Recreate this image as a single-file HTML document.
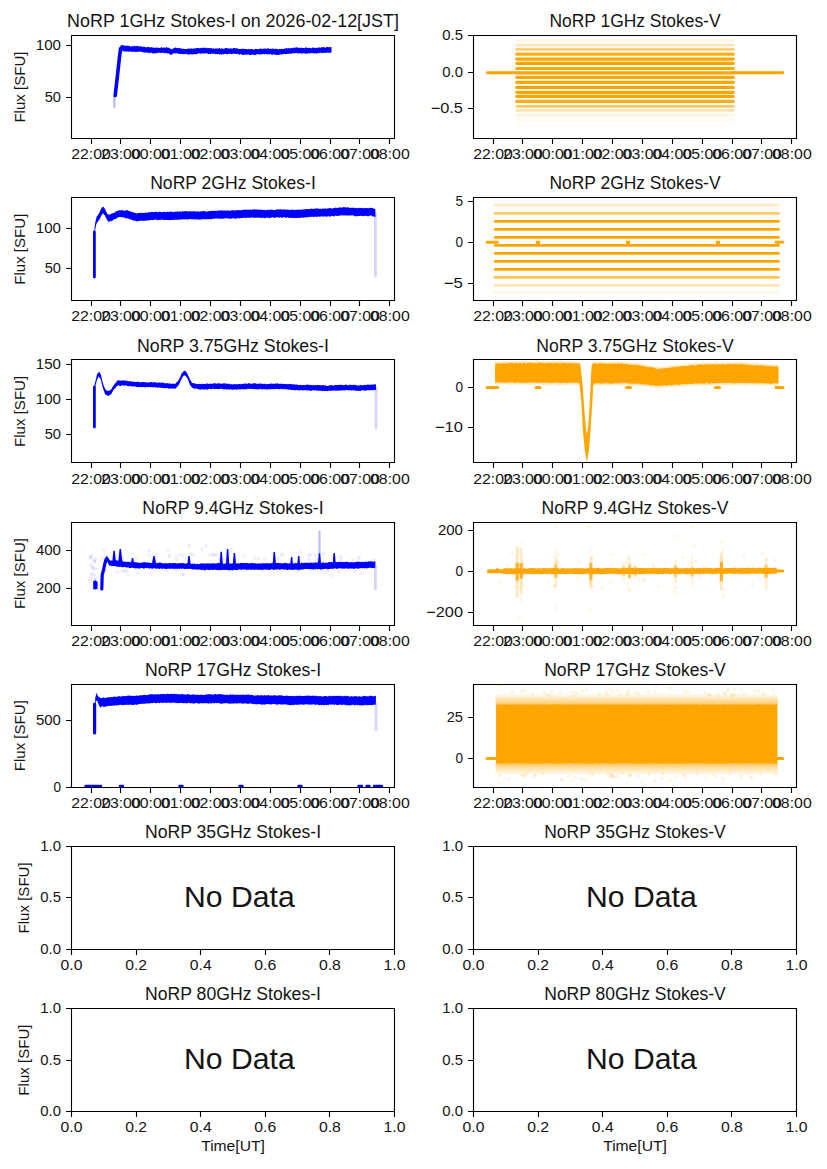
<!DOCTYPE html><html><head><meta charset="utf-8"><title>NoRP</title><style>html,body{margin:0;padding:0;background:#fff;}svg{display:block;}</style></head><body>
<svg width="827" height="1169" viewBox="0 0 827 1169" font-family="'Liberation Sans', sans-serif" fill="#141414">
<rect width="827" height="1169" fill="#fff"/>
<clipPath id="c00"><rect x="71.5" y="35.5" width="323" height="103"/></clipPath>
<g clip-path="url(#c00)">
<path d="M114.4 96 L114.4 107" fill="none" stroke="#7070ff" stroke-width="2.2" stroke-linejoin="round" stroke-linecap="round" opacity="0.5" />
<path d="M115.2 95.5 L116.5 84 L117.2 78 L118.5 66 L119.5 57 L120.6 48.5" fill="none" stroke="#0000ff" stroke-width="3.6" stroke-linejoin="round" stroke-linecap="round" opacity="1" />
<path d="M120.5 45.42 L121.3 45 L122.1 45.31 L122.9 45.06 L123.7 45.45 L124.5 45.64 L125.3 45.78 L126.1 45.82 L126.9 45.67 L127.7 45.49 L128.5 45.93 L129.3 45.7 L130.1 46.47 L130.9 46.51 L131.7 46.5 L132.5 45.78 L133.3 46.4 L134.1 45.9 L134.9 45.68 L135.7 46.35 L136.5 46.19 L137.3 45.62 L138.1 46.48 L138.9 46.16 L139.7 46.53 L140.5 46.06 L141.3 46.3 L142.1 46.9 L142.9 46.38 L143.7 47.02 L144.5 46.39 L145.3 47.16 L146.1 47.29 L146.9 47.13 L147.7 47.05 L148.5 46.73 L149.3 47.47 L150.1 47.11 L150.9 47.66 L151.7 47.12 L152.5 47.78 L153.3 47.27 L154.1 47.86 L154.9 47.9 L155.7 47.54 L156.5 47.45 L157.3 47.75 L158.1 47.49 L158.9 47.9 L159.7 47.95 L160.5 47.7 L161.3 47.27 L162.1 47.55 L162.9 47.72 L163.7 47.83 L164.5 47.36 L165.3 47.93 L166.1 47.21 L166.9 47.35 L167.7 47.71 L168.5 47.85 L169.3 47.77 L170.1 48.63 L170.9 48.78 L171.7 49.32 L172.5 49.05 L173.3 48.42 L174.1 47.72 L174.9 47.98 L175.7 47.28 L176.5 47.97 L177.3 48.05 L178.1 48.29 L178.9 48.28 L179.7 47.66 L180.5 48.48 L181.3 48.51 L182.1 48.9 L182.9 48.51 L183.7 48.85 L184.5 49.11 L185.3 49.08 L186.1 49.18 L186.9 48.96 L187.7 48.71 L188.5 48.57 L189.3 48.62 L190.1 48.95 L190.9 48.28 L191.7 48.47 L192.5 49.07 L193.3 48.14 L194.1 48.21 L194.9 48.73 L195.7 48.28 L196.5 47.9 L197.3 48.04 L198.1 47.87 L198.9 48.26 L199.7 48.3 L200.5 48.3 L201.3 47.83 L202.1 47.77 L202.9 47.91 L203.7 47.62 L204.5 47.93 L205.3 47.81 L206.1 47.76 L206.9 48.47 L207.7 47.86 L208.5 47.9 L209.3 48.19 L210.1 48.26 L210.9 48.02 L211.7 48.2 L212.5 48.74 L213.3 48.19 L214.1 48.41 L214.9 48.95 L215.7 48.37 L216.5 48.39 L217.3 48.57 L218.1 48.62 L218.9 48.2 L219.7 48.11 L220.5 49.06 L221.3 48.24 L222.1 48.59 L222.9 48.81 L223.7 48.78 L224.5 48.82 L225.3 47.97 L226.1 48.07 L226.9 47.97 L227.7 48.6 L228.5 48.32 L229.3 48.78 L230.1 48.32 L230.9 48.62 L231.7 48.45 L232.5 48.77 L233.3 47.95 L234.1 47.88 L234.9 47.94 L235.7 48.51 L236.5 47.93 L237.3 48.62 L238.1 48.76 L238.9 49 L239.7 48.88 L240.5 48.99 L241.3 48.8 L242.1 49 L242.9 48.56 L243.7 48.88 L244.5 48.63 L245.3 48.91 L246.1 48.95 L246.9 48.97 L247.7 49.47 L248.5 48.86 L249.3 49.33 L250.1 49.5 L250.9 48.82 L251.7 49.12 L252.5 49.19 L253.3 49.55 L254.1 49.47 L254.9 49.14 L255.7 48.69 L256.5 49.1 L257.3 49.31 L258.1 49.11 L258.9 49.17 L259.7 48.79 L260.5 48.57 L261.3 48.87 L262.1 48.87 L262.9 49.16 L263.7 48.24 L264.5 48.69 L265.3 48.32 L266.1 48.92 L266.9 48.8 L267.7 48.26 L268.5 48.36 L269.3 49.22 L270.1 48.39 L270.9 48.73 L271.7 48.96 L272.5 48.56 L273.3 48.45 L274.1 49.34 L274.9 48.96 L275.7 48.57 L276.5 48.88 L277.3 49.09 L278.1 49.51 L278.9 49.3 L279.7 48.86 L280.5 49.35 L281.3 48.8 L282.1 49.28 L282.9 48.81 L283.7 48.88 L284.5 48.6 L285.3 48.83 L286.1 48.09 L286.9 48.09 L287.7 48.65 L288.5 47.84 L289.3 48.41 L290.1 48.14 L290.9 48.14 L291.7 47.82 L292.5 48.19 L293.3 48.02 L294.1 47.62 L294.9 47.45 L295.7 47.71 L296.5 47.21 L297.3 47.33 L298.1 47.92 L298.9 47.84 L299.7 47.63 L300.5 47.91 L301.3 47.48 L302.1 48.03 L302.9 47.99 L303.7 48.09 L304.5 48.2 L305.3 47.39 L306.1 47.59 L306.9 47.42 L307.7 48.19 L308.5 47.65 L309.3 47.74 L310.1 48.04 L310.9 48.25 L311.7 48.13 L312.5 47.44 L313.3 47.42 L314.1 48 L314.9 47.5 L315.7 48.23 L316.5 47.87 L317.3 48 L318.1 47.24 L318.9 47.68 L319.7 47.27 L320.5 47.95 L321.3 47.01 L322.1 47.13 L322.9 47.5 L323.7 46.84 L324.5 47.5 L325.3 47.42 L326.1 47.71 L326.9 46.78 L327.7 46.75 L328.5 47.46 L329.3 46.75 L330.1 47.33 L330.9 47.31 L331.5 46.83 L331.5 52.54 L330.9 52.83 L330.1 52.57 L329.3 53.26 L328.5 52.77 L327.7 52.32 L326.9 52.93 L326.1 53.07 L325.3 52.61 L324.5 53.08 L323.7 53.01 L322.9 52.71 L322.1 53.38 L321.3 52.79 L320.5 52.65 L319.7 52.68 L318.9 53.5 L318.1 52.77 L317.3 53.16 L316.5 53.76 L315.7 53.36 L314.9 53.35 L314.1 53.77 L313.3 53.19 L312.5 53.12 L311.7 53.36 L310.9 53.02 L310.1 53.35 L309.3 53.39 L308.5 53.03 L307.7 53.91 L306.9 53.28 L306.1 53.92 L305.3 53.78 L304.5 53.26 L303.7 52.88 L302.9 53.77 L302.1 53.17 L301.3 53.7 L300.5 53.15 L299.7 52.92 L298.9 53.68 L298.1 53.5 L297.3 52.99 L296.5 53.09 L295.7 53.02 L294.9 53.59 L294.1 53.1 L293.3 53.38 L292.5 53.05 L291.7 54.01 L290.9 53.42 L290.1 53.91 L289.3 53.34 L288.5 54.11 L287.7 53.73 L286.9 54.05 L286.1 54.3 L285.3 54.19 L284.5 53.81 L283.7 54.09 L282.9 54.52 L282.1 54.06 L281.3 54.73 L280.5 54.33 L279.7 54.41 L278.9 55.05 L278.1 54.93 L277.3 54.7 L276.5 54.89 L275.7 54.83 L274.9 54.76 L274.1 54.21 L273.3 54.27 L272.5 54.84 L271.7 54.88 L270.9 53.92 L270.1 54.36 L269.3 54.56 L268.5 53.85 L267.7 54.66 L266.9 54.24 L266.1 54.04 L265.3 54 L264.5 54.42 L263.7 53.93 L262.9 54.1 L262.1 54.19 L261.3 54.41 L260.5 54.33 L259.7 54.85 L258.9 54.26 L258.1 54.14 L257.3 54.19 L256.5 54.29 L255.7 55.19 L254.9 54.46 L254.1 55.19 L253.3 54.48 L252.5 54.74 L251.7 54.68 L250.9 54.65 L250.1 55.14 L249.3 54.75 L248.5 54.52 L247.7 54.41 L246.9 54.97 L246.1 54.73 L245.3 54.28 L244.5 54.72 L243.7 55.02 L242.9 54.86 L242.1 54.93 L241.3 54.1 L240.5 54.1 L239.7 54.7 L238.9 54.54 L238.1 53.69 L237.3 54.01 L236.5 54.12 L235.7 53.87 L234.9 53.73 L234.1 54.12 L233.3 53.51 L232.5 54.12 L231.7 54.2 L230.9 53.71 L230.1 53.67 L229.3 53.88 L228.5 53.43 L227.7 54.33 L226.9 54.16 L226.1 54 L225.3 53.66 L224.5 54.08 L223.7 54.17 L222.9 54.56 L222.1 53.91 L221.3 54.63 L220.5 54.14 L219.7 54.63 L218.9 53.89 L218.1 53.81 L217.3 54.15 L216.5 53.96 L215.7 54.33 L214.9 53.88 L214.1 53.59 L213.3 53.84 L212.5 53.74 L211.7 53.52 L210.9 54.01 L210.1 54.02 L209.3 53.67 L208.5 54.21 L207.7 53.39 L206.9 53.41 L206.1 53.35 L205.3 53.13 L204.5 53.57 L203.7 53.76 L202.9 53 L202.1 53.67 L201.3 53.62 L200.5 53.84 L199.7 53.39 L198.9 53.12 L198.1 53.85 L197.3 54.12 L196.5 54.13 L195.7 54.22 L194.9 53.99 L194.1 54.36 L193.3 54.26 L192.5 54.55 L191.7 54.43 L190.9 54.01 L190.1 54.26 L189.3 54.81 L188.5 54.58 L187.7 54.42 L186.9 54.09 L186.1 53.84 L185.3 54.17 L184.5 53.98 L183.7 54.16 L182.9 54.08 L182.1 53.88 L181.3 53.78 L180.5 54.29 L179.7 53.78 L178.9 54.1 L178.1 53.49 L177.3 53.4 L176.5 53.09 L175.7 53.42 L174.9 53.5 L174.1 52.74 L173.3 53.84 L172.5 53.84 L171.7 54.67 L170.9 54.73 L170.1 54.4 L169.3 54.04 L168.5 53.35 L167.7 53.64 L166.9 53.2 L166.1 52.85 L165.3 53.19 L164.5 53.25 L163.7 52.69 L162.9 52.68 L162.1 52.82 L161.3 52.92 L160.5 52.92 L159.7 52.8 L158.9 52.77 L158.1 52.85 L157.3 52.74 L156.5 53.53 L155.7 52.93 L154.9 53.43 L154.1 53.4 L153.3 53.3 L152.5 53.39 L151.7 52.83 L150.9 52.4 L150.1 52.99 L149.3 53.14 L148.5 52.41 L147.7 52.99 L146.9 52.13 L146.1 52.71 L145.3 52.13 L144.5 52.75 L143.7 52.67 L142.9 52.11 L142.1 51.85 L141.3 51.89 L140.5 51.4 L139.7 51.65 L138.9 51.62 L138.1 51.67 L137.3 52.04 L136.5 51.67 L135.7 52.12 L134.9 52.13 L134.1 51.3 L133.3 51.87 L132.5 52.06 L131.7 51.84 L130.9 51.42 L130.1 51.63 L129.3 51.28 L128.5 52.03 L127.7 51.29 L126.9 51.85 L126.1 51.84 L125.3 51.36 L124.5 51.44 L123.7 51.17 L122.9 51.01 L122.1 51.24 L121.3 50.88 L120.5 50.54Z" fill="#0000ff" opacity="1"/>
</g>
<clipPath id="c01"><rect x="473.5" y="35.5" width="323" height="103"/></clipPath>
<g clip-path="url(#c01)">
<path d="M516.8 40.4 L733.2 40.4" fill="none" stroke="#ffa500" stroke-width="2.8" stroke-linejoin="round" stroke-linecap="round" opacity="0.1" stroke-linecap="butt"/>
<path d="M516.8 45.2 L733.2 45.2" fill="none" stroke="#ffa500" stroke-width="2.8" stroke-linejoin="round" stroke-linecap="round" opacity="0.28" stroke-linecap="butt"/>
<path d="M516.8 49.4 L733.2 49.4" fill="none" stroke="#ffa500" stroke-width="2.8" stroke-linejoin="round" stroke-linecap="round" opacity="0.55" stroke-linecap="butt"/>
<path d="M516.8 54.2 L733.2 54.2" fill="none" stroke="#ffa500" stroke-width="3.2" stroke-linejoin="round" stroke-linecap="round" opacity="0.9" stroke-linecap="butt"/>
<path d="M516.8 59.1 L733.2 59.1" fill="none" stroke="#ffa500" stroke-width="3.2" stroke-linejoin="round" stroke-linecap="round" opacity="1" stroke-linecap="butt"/>
<path d="M516.8 63.4 L733.2 63.4" fill="none" stroke="#ffa500" stroke-width="3.2" stroke-linejoin="round" stroke-linecap="round" opacity="1" stroke-linecap="butt"/>
<path d="M516.8 68.5 L733.2 68.5" fill="none" stroke="#ffa500" stroke-width="3.2" stroke-linejoin="round" stroke-linecap="round" opacity="1" stroke-linecap="butt"/>
<path d="M516.8 72.9 L733.2 72.9" fill="none" stroke="#ffa500" stroke-width="3.2" stroke-linejoin="round" stroke-linecap="round" opacity="1" stroke-linecap="butt"/>
<path d="M516.8 77.3 L733.2 77.3" fill="none" stroke="#ffa500" stroke-width="3.2" stroke-linejoin="round" stroke-linecap="round" opacity="1" stroke-linecap="butt"/>
<path d="M516.8 82.3 L733.2 82.3" fill="none" stroke="#ffa500" stroke-width="3.2" stroke-linejoin="round" stroke-linecap="round" opacity="1" stroke-linecap="butt"/>
<path d="M516.8 87.4 L733.2 87.4" fill="none" stroke="#ffa500" stroke-width="3.2" stroke-linejoin="round" stroke-linecap="round" opacity="1" stroke-linecap="butt"/>
<path d="M516.8 92.3 L733.2 92.3" fill="none" stroke="#ffa500" stroke-width="3.2" stroke-linejoin="round" stroke-linecap="round" opacity="1" stroke-linecap="butt"/>
<path d="M516.8 96.4 L733.2 96.4" fill="none" stroke="#ffa500" stroke-width="3.2" stroke-linejoin="round" stroke-linecap="round" opacity="1" stroke-linecap="butt"/>
<path d="M516.8 101.4 L733.2 101.4" fill="none" stroke="#ffa500" stroke-width="3.2" stroke-linejoin="round" stroke-linecap="round" opacity="0.92" stroke-linecap="butt"/>
<path d="M516.8 106.4 L733.2 106.4" fill="none" stroke="#ffa500" stroke-width="2.8" stroke-linejoin="round" stroke-linecap="round" opacity="0.6" stroke-linecap="butt"/>
<path d="M516.8 110.4 L733.2 110.4" fill="none" stroke="#ffa500" stroke-width="2.8" stroke-linejoin="round" stroke-linecap="round" opacity="0.32" stroke-linecap="butt"/>
<path d="M516.8 115.2 L733.2 115.2" fill="none" stroke="#ffa500" stroke-width="2.8" stroke-linejoin="round" stroke-linecap="round" opacity="0.13" stroke-linecap="butt"/>
<path d="M516.8 120.1 L733.2 120.1" fill="none" stroke="#ffa500" stroke-width="2.8" stroke-linejoin="round" stroke-linecap="round" opacity="0.06" stroke-linecap="butt"/>
<path d="M516.8 124.2 L733.2 124.2" fill="none" stroke="#ffa500" stroke-width="2.8" stroke-linejoin="round" stroke-linecap="round" opacity="0.04" stroke-linecap="butt"/>
<path d="M487.3 72.7 L517 72.7" fill="none" stroke="#ffa500" stroke-width="2.9" stroke-linejoin="round" stroke-linecap="round" opacity="1" stroke-linecap="butt"/>
<path d="M733.6 72.7 L782.8 72.7" fill="none" stroke="#ffa500" stroke-width="2.9" stroke-linejoin="round" stroke-linecap="round" opacity="1" stroke-linecap="butt"/>
</g>
<clipPath id="c10"><rect x="71.5" y="197.5" width="323" height="103"/></clipPath>
<g clip-path="url(#c10)">
<path d="M94.4 277 L94.4 232" fill="none" stroke="#0000ff" stroke-width="2.8" stroke-linejoin="round" stroke-linecap="round" opacity="1" />
<path d="M375.4 214 L375.4 276" fill="none" stroke="#7070ff" stroke-width="2.8" stroke-linejoin="round" stroke-linecap="round" opacity="0.3" />
<path d="M94.5 227.69 L95.3 222.53 L96.1 218.65 L96.9 216.18 L97.7 215.53 L98.5 214.06 L99.3 212.88 L100.1 211.08 L100.9 209.14 L101.7 207.85 L102.5 206.99 L103.3 206.74 L104.1 207.86 L104.9 208.82 L105.7 210.58 L106.5 212.22 L107.3 213.92 L108.1 214.2 L108.9 214.47 L109.7 214.7 L110.5 214.18 L111.3 213.53 L112.1 213.84 L112.9 212.77 L113.7 213.04 L114.5 212.64 L115.3 211.66 L116.1 211.44 L116.9 211.05 L117.7 211.08 L118.5 210.17 L119.3 210.13 L120.1 210.45 L120.9 210.32 L121.7 210.34 L122.5 209.95 L123.3 210.14 L124.1 210.89 L124.9 210.68 L125.7 210.36 L126.5 210.33 L127.3 210.19 L128.1 210.37 L128.9 211.27 L129.7 210.9 L130.5 211.76 L131.3 211.62 L132.1 212.12 L132.9 212.24 L133.7 212.55 L134.5 212.78 L135.3 212.69 L136.1 213.4 L136.9 213.44 L137.7 212.93 L138.5 212.96 L139.3 213.12 L140.1 212.69 L140.9 212.65 L141.7 213.14 L142.5 212.53 L143.3 212.89 L144.1 212.94 L144.9 212.64 L145.7 212.39 L146.5 212.63 L147.3 212.71 L148.1 212.23 L148.9 212.55 L149.7 211.99 L150.5 212.44 L151.3 211.78 L152.1 212.28 L152.9 211.82 L153.7 212.22 L154.5 212.11 L155.3 211.86 L156.1 211.99 L156.9 211.45 L157.7 212.14 L158.5 212.13 L159.3 211.43 L160.1 211.63 L160.9 212.07 L161.7 212.15 L162.5 211.94 L163.3 211.94 L164.1 211.72 L164.9 211.79 L165.7 212.19 L166.5 212 L167.3 211.6 L168.1 211.87 L168.9 212 L169.7 211.75 L170.5 211.7 L171.3 211.62 L172.1 211.77 L172.9 212 L173.7 212.14 L174.5 211.56 L175.3 211.64 L176.1 211.76 L176.9 211.55 L177.7 211.46 L178.5 211.8 L179.3 211.28 L180.1 211.46 L180.9 211.77 L181.7 211.63 L182.5 210.96 L183.3 211.59 L184.1 211.21 L184.9 211.2 L185.7 210.93 L186.5 211.25 L187.3 211.4 L188.1 211.25 L188.9 211.47 L189.7 211.29 L190.5 211.37 L191.3 211.6 L192.1 211.29 L192.9 211.36 L193.7 211.49 L194.5 210.94 L195.3 211.55 L196.1 211.43 L196.9 211.66 L197.7 211.14 L198.5 211.43 L199.3 211.63 L200.1 211.54 L200.9 211.17 L201.7 211.44 L202.5 211.37 L203.3 211.12 L204.1 211.08 L204.9 211.43 L205.7 211.35 L206.5 211.65 L207.3 211.38 L208.1 211.31 L208.9 211.15 L209.7 210.91 L210.5 210.64 L211.3 211.28 L212.1 210.54 L212.9 211.09 L213.7 210.65 L214.5 211.09 L215.3 210.53 L216.1 210.93 L216.9 210.78 L217.7 210.66 L218.5 210.19 L219.3 210.76 L220.1 210.39 L220.9 210.33 L221.7 210.23 L222.5 210.7 L223.3 210.43 L224.1 210.51 L224.9 210.43 L225.7 210.69 L226.5 210.49 L227.3 210.52 L228.1 210.51 L228.9 210.47 L229.7 210.9 L230.5 210.52 L231.3 210.36 L232.1 210.57 L232.9 210.08 L233.7 210.33 L234.5 210.79 L235.3 210.25 L236.1 210.5 L236.9 210.31 L237.7 209.96 L238.5 210.06 L239.3 210.31 L240.1 210.24 L240.9 210.05 L241.7 210.25 L242.5 210.02 L243.3 209.65 L244.1 209.59 L244.9 209.8 L245.7 209.75 L246.5 209.59 L247.3 209.82 L248.1 209.81 L248.9 209.52 L249.7 209.98 L250.5 209.29 L251.3 209.96 L252.1 210 L252.9 209.27 L253.7 209.5 L254.5 209.31 L255.3 209.57 L256.1 209.53 L256.9 209.58 L257.7 209.62 L258.5 209.57 L259.3 210.07 L260.1 209.62 L260.9 209.74 L261.7 209.63 L262.5 209.85 L263.3 210.08 L264.1 210.07 L264.9 209.82 L265.7 210.28 L266.5 210.29 L267.3 209.66 L268.1 209.55 L268.9 210.25 L269.7 209.76 L270.5 209.42 L271.3 209.83 L272.1 209.61 L272.9 209.97 L273.7 210.05 L274.5 209.91 L275.3 209.9 L276.1 209.84 L276.9 209.33 L277.7 209.3 L278.5 209.82 L279.3 209.27 L280.1 209.25 L280.9 209.33 L281.7 209.46 L282.5 209.63 L283.3 209.27 L284.1 209.85 L284.9 209.23 L285.7 209.67 L286.5 209.81 L287.3 209.59 L288.1 209.72 L288.9 209.69 L289.7 209.96 L290.5 209.82 L291.3 209.64 L292.1 209.86 L292.9 209.44 L293.7 209.76 L294.5 210.18 L295.3 209.67 L296.1 209.97 L296.9 209.44 L297.7 209.73 L298.5 209.85 L299.3 209.86 L300.1 209.63 L300.9 209.4 L301.7 209.99 L302.5 209.58 L303.3 209.2 L304.1 209.75 L304.9 209.06 L305.7 209.18 L306.5 208.89 L307.3 208.95 L308.1 209.15 L308.9 208.92 L309.7 209.14 L310.5 208.51 L311.3 208.72 L312.1 208.78 L312.9 208.92 L313.7 208.45 L314.5 208.99 L315.3 208.42 L316.1 208.56 L316.9 208.3 L317.7 208.62 L318.5 208.85 L319.3 208.85 L320.1 208.71 L320.9 208.67 L321.7 208.88 L322.5 208.19 L323.3 208.9 L324.1 208.35 L324.9 208.49 L325.7 208.53 L326.5 208.9 L327.3 208.21 L328.1 208.41 L328.9 208.21 L329.7 208.03 L330.5 208.08 L331.3 208.48 L332.1 208.46 L332.9 208.49 L333.7 208.04 L334.5 208.05 L335.3 207.62 L336.1 207.8 L336.9 208.11 L337.7 207.93 L338.5 207.56 L339.3 207.47 L340.1 207.59 L340.9 207.13 L341.7 207.67 L342.5 207.61 L343.3 207.08 L344.1 207.14 L344.9 207.18 L345.7 207.31 L346.5 207.8 L347.3 207.27 L348.1 207.36 L348.9 207.47 L349.7 207.9 L350.5 207.82 L351.3 207.68 L352.1 207.92 L352.9 207.62 L353.7 207.63 L354.5 208.22 L355.3 208.11 L356.1 207.63 L356.9 208.24 L357.7 208.3 L358.5 207.72 L359.3 208.05 L360.1 207.76 L360.9 207.92 L361.7 208.24 L362.5 207.84 L363.3 208.28 L364.1 208.17 L364.9 208.23 L365.7 207.66 L366.5 208.17 L367.3 208.02 L368.1 208.15 L368.9 208.17 L369.7 207.65 L370.5 207.78 L371.3 207.93 L372.1 207.88 L372.9 207.76 L373.7 208.87 L374.5 208.63 L375.3 209.17 L375.4 209.01 L375.4 217.01 L375.3 217.18 L374.5 216.59 L373.7 216.38 L372.9 216.5 L372.1 216.16 L371.3 215.5 L370.5 215.59 L369.7 215.56 L368.9 216.13 L368.1 216.23 L367.3 216.2 L366.5 215.9 L365.7 215.8 L364.9 215.78 L364.1 215.91 L363.3 216.3 L362.5 216.06 L361.7 215.67 L360.9 215.74 L360.1 216 L359.3 215.89 L358.5 216.1 L357.7 216.32 L356.9 215.91 L356.1 216.23 L355.3 216.23 L354.5 216.19 L353.7 215.56 L352.9 215.37 L352.1 215.43 L351.3 215.4 L350.5 215.32 L349.7 215.44 L348.9 215.75 L348.1 215.34 L347.3 215.82 L346.5 215.16 L345.7 215.82 L344.9 215.58 L344.1 215.04 L343.3 215.73 L342.5 215.29 L341.7 215.08 L340.9 215.89 L340.1 215.28 L339.3 215.53 L338.5 216.04 L337.7 215.79 L336.9 216.18 L336.1 215.8 L335.3 215.6 L334.5 216.38 L333.7 216.39 L332.9 215.8 L332.1 215.96 L331.3 215.91 L330.5 216.71 L329.7 216.6 L328.9 216.37 L328.1 216.28 L327.3 216.49 L326.5 216.92 L325.7 216.17 L324.9 216.44 L324.1 216.3 L323.3 216.69 L322.5 216.49 L321.7 216.23 L320.9 216.61 L320.1 216.65 L319.3 216.76 L318.5 216.35 L317.7 216.68 L316.9 216.63 L316.1 216.94 L315.3 216.43 L314.5 216.91 L313.7 216.65 L312.9 216.92 L312.1 216.52 L311.3 216.94 L310.5 216.64 L309.7 217.11 L308.9 217.2 L308.1 216.7 L307.3 217.43 L306.5 217.41 L305.7 217.06 L304.9 217.6 L304.1 217.65 L303.3 217.76 L302.5 217.59 L301.7 217.4 L300.9 217.48 L300.1 218.02 L299.3 217.91 L298.5 218.1 L297.7 217.66 L296.9 218.09 L296.1 217.92 L295.3 218.09 L294.5 218.2 L293.7 217.65 L292.9 218.02 L292.1 218 L291.3 217.68 L290.5 217.83 L289.7 217.92 L288.9 217.79 L288.1 217.67 L287.3 217.22 L286.5 217.83 L285.7 217.7 L284.9 217.15 L284.1 217.59 L283.3 217.06 L282.5 217.81 L281.7 217.78 L280.9 217.6 L280.1 217.1 L279.3 217.73 L278.5 217.68 L277.7 217.23 L276.9 217.3 L276.1 217.16 L275.3 217.87 L274.5 217.98 L273.7 217.8 L272.9 217.3 L272.1 217.5 L271.3 217.45 L270.5 217.78 L269.7 218.18 L268.9 217.77 L268.1 217.84 L267.3 217.96 L266.5 217.61 L265.7 217.98 L264.9 218.28 L264.1 217.87 L263.3 217.86 L262.5 217.71 L261.7 218.12 L260.9 217.76 L260.1 218.17 L259.3 217.44 L258.5 217.46 L257.7 217.72 L256.9 217.49 L256.1 217.77 L255.3 217.77 L254.5 217.73 L253.7 217.85 L252.9 217.7 L252.1 217.35 L251.3 217.44 L250.5 217.64 L249.7 217.79 L248.9 217.86 L248.1 217.72 L247.3 217.54 L246.5 217.95 L245.7 218.14 L244.9 217.62 L244.1 217.78 L243.3 217.74 L242.5 218 L241.7 217.97 L240.9 218.29 L240.1 218.11 L239.3 218.47 L238.5 218.33 L237.7 217.91 L236.9 218.31 L236.1 218.74 L235.3 218.74 L234.5 218.51 L233.7 218.55 L232.9 218.11 L232.1 218.41 L231.3 218.76 L230.5 218.55 L229.7 218.78 L228.9 218.79 L228.1 218.5 L227.3 218.21 L226.5 218.13 L225.7 218.19 L224.9 218.28 L224.1 218.77 L223.3 218.65 L222.5 218.61 L221.7 218.73 L220.9 218.78 L220.1 218.7 L219.3 218.8 L218.5 218.75 L217.7 218.26 L216.9 218.79 L216.1 218.32 L215.3 218.45 L214.5 219.06 L213.7 218.36 L212.9 219.07 L212.1 219.09 L211.3 219.18 L210.5 219.26 L209.7 218.93 L208.9 219.21 L208.1 219.14 L207.3 219 L206.5 219.43 L205.7 219.04 L204.9 219.13 L204.1 219.18 L203.3 219.27 L202.5 219.1 L201.7 219.25 L200.9 219.67 L200.1 219.53 L199.3 219.79 L198.5 219.45 L197.7 219.49 L196.9 219.59 L196.1 219.11 L195.3 219.56 L194.5 219.32 L193.7 219.46 L192.9 219.06 L192.1 219.38 L191.3 219.14 L190.5 219.11 L189.7 218.82 L188.9 219.56 L188.1 219.38 L187.3 219.32 L186.5 219.54 L185.7 219.21 L184.9 219.33 L184.1 219.42 L183.3 219.33 L182.5 219.33 L181.7 219.58 L180.9 219.43 L180.1 219.83 L179.3 219.41 L178.5 219.67 L177.7 219.94 L176.9 219.58 L176.1 219.66 L175.3 219.54 L174.5 219.95 L173.7 219.76 L172.9 219.96 L172.1 219.84 L171.3 220.04 L170.5 220.08 L169.7 220.23 L168.9 219.72 L168.1 220.13 L167.3 219.87 L166.5 220.11 L165.7 219.99 L164.9 219.87 L164.1 219.88 L163.3 220.1 L162.5 219.48 L161.7 219.6 L160.9 219.93 L160.1 219.76 L159.3 220.05 L158.5 219.72 L157.7 220.19 L156.9 220.01 L156.1 219.6 L155.3 219.6 L154.5 219.77 L153.7 219.67 L152.9 220.26 L152.1 219.87 L151.3 219.88 L150.5 220.11 L149.7 220.27 L148.9 220.24 L148.1 220.55 L147.3 220.71 L146.5 220.37 L145.7 220.71 L144.9 220.86 L144.1 220.7 L143.3 221.1 L142.5 220.86 L141.7 220.72 L140.9 220.58 L140.1 220.67 L139.3 220.95 L138.5 220.95 L137.7 221.32 L136.9 221.34 L136.1 221.2 L135.3 220.85 L134.5 220.38 L133.7 220.72 L132.9 220.38 L132.1 219.86 L131.3 219.85 L130.5 219.36 L129.7 219.5 L128.9 218.63 L128.1 218.36 L127.3 218.15 L126.5 218.13 L125.7 218.4 L124.9 217.85 L124.1 217.45 L123.3 217.51 L122.5 217.32 L121.7 217.09 L120.9 217.32 L120.1 216.87 L119.3 216.92 L118.5 217.14 L117.7 217.44 L116.9 217.99 L116.1 218.81 L115.3 219.19 L114.5 218.96 L113.7 219.49 L112.9 220.46 L112.1 220.78 L111.3 221.1 L110.5 221.33 L109.7 221.42 L108.9 221.81 L108.1 221.46 L107.3 220.17 L106.5 218.81 L105.7 217.61 L104.9 215.16 L104.1 214.85 L103.3 213.61 L102.5 213.89 L101.7 214.98 L100.9 216.59 L100.1 218.33 L99.3 219.69 L98.5 220.62 L97.7 221.95 L96.9 222.65 L96.1 225.01 L95.3 229.38 L94.5 233.59Z" fill="#0000ff" opacity="1"/>
</g>
<clipPath id="c11"><rect x="473.5" y="197.5" width="323" height="103"/></clipPath>
<g clip-path="url(#c11)">
<path d="M495.1 205.2 L778.5 205.2" fill="none" stroke="#ffa500" stroke-width="2.7" stroke-linejoin="round" stroke-linecap="round" opacity="0.22" stroke-linecap="butt"/>
<path d="M495.1 213.4 L778.5 213.4" fill="none" stroke="#ffa500" stroke-width="2.7" stroke-linejoin="round" stroke-linecap="round" opacity="0.6" stroke-linecap="butt"/>
<path d="M495.1 221.3 L778.5 221.3" fill="none" stroke="#ffa500" stroke-width="2.7" stroke-linejoin="round" stroke-linecap="round" opacity="1" stroke-linecap="butt"/>
<path d="M495.1 229.3 L778.5 229.3" fill="none" stroke="#ffa500" stroke-width="2.7" stroke-linejoin="round" stroke-linecap="round" opacity="1" stroke-linecap="butt"/>
<path d="M495.1 237.3 L778.5 237.3" fill="none" stroke="#ffa500" stroke-width="2.7" stroke-linejoin="round" stroke-linecap="round" opacity="1" stroke-linecap="butt"/>
<path d="M495.1 245.4 L778.5 245.4" fill="none" stroke="#ffa500" stroke-width="2.7" stroke-linejoin="round" stroke-linecap="round" opacity="1" stroke-linecap="butt"/>
<path d="M495.1 253.4 L778.5 253.4" fill="none" stroke="#ffa500" stroke-width="2.7" stroke-linejoin="round" stroke-linecap="round" opacity="1" stroke-linecap="butt"/>
<path d="M495.1 261.4 L778.5 261.4" fill="none" stroke="#ffa500" stroke-width="2.7" stroke-linejoin="round" stroke-linecap="round" opacity="1" stroke-linecap="butt"/>
<path d="M495.1 269.4 L778.5 269.4" fill="none" stroke="#ffa500" stroke-width="2.7" stroke-linejoin="round" stroke-linecap="round" opacity="1" stroke-linecap="butt"/>
<path d="M495.1 277.3 L778.5 277.3" fill="none" stroke="#ffa500" stroke-width="2.7" stroke-linejoin="round" stroke-linecap="round" opacity="0.65" stroke-linecap="butt"/>
<path d="M495.1 285.4 L778.5 285.4" fill="none" stroke="#ffa500" stroke-width="2.7" stroke-linejoin="round" stroke-linecap="round" opacity="0.3" stroke-linecap="butt"/>
<path d="M495.1 292.4 L778.5 292.4" fill="none" stroke="#ffa500" stroke-width="2.7" stroke-linejoin="round" stroke-linecap="round" opacity="0.12" stroke-linecap="butt"/>
<path d="M487.2 242.2 L497.3 242.2" fill="none" stroke="#ffa500" stroke-width="2.9" stroke-linejoin="round" stroke-linecap="round" opacity="1" stroke-linecap="butt"/>
<path d="M776 242.2 L782.9 242.2" fill="none" stroke="#ffa500" stroke-width="2.9" stroke-linejoin="round" stroke-linecap="round" opacity="1" stroke-linecap="butt"/>
<rect x="536" y="240.8" width="4" height="4" fill="#ffa500"/>
<rect x="626" y="240.8" width="4" height="4" fill="#ffa500"/>
<rect x="716" y="240.8" width="4" height="4" fill="#ffa500"/>
</g>
<clipPath id="c20"><rect x="71.5" y="359.5" width="323" height="103"/></clipPath>
<g clip-path="url(#c20)">
<path d="M94.4 427 L94.4 387" fill="none" stroke="#0000ff" stroke-width="2.8" stroke-linejoin="round" stroke-linecap="round" opacity="1" />
<path d="M376 388 L376 427.7" fill="none" stroke="#7070ff" stroke-width="2.8" stroke-linejoin="round" stroke-linecap="round" opacity="0.3" />
<path d="M94.6 384.26 L95.4 381.17 L96.2 378.13 L97 374.3 L97.8 373.19 L98.6 372.13 L99.4 371.93 L100.2 373.3 L101 375.25 L101.8 378.65 L102.6 381.66 L103.4 384.69 L104.2 386.78 L105 388.52 L105.8 389.79 L106.6 390.59 L107.4 390.83 L108.2 390.67 L109 390.73 L109.8 390.27 L110.6 389.89 L111.4 389.16 L112.2 387.55 L113 386.24 L113.8 385.2 L114.6 383.86 L115.4 383.26 L116.2 382.31 L117 380.71 L117.8 380.52 L118.6 380.24 L119.4 380.61 L120.2 380.61 L121 380.76 L121.8 380.55 L122.6 380.62 L123.4 380.46 L124.2 380.35 L125 380.82 L125.8 380.69 L126.6 380.54 L127.4 380.9 L128.2 381.16 L129 381.15 L129.8 381.09 L130.6 381.31 L131.4 381.57 L132.2 381.54 L133 381.8 L133.8 381.68 L134.6 381.81 L135.4 381.88 L136.2 382.11 L137 382.05 L137.8 381.61 L138.6 381.69 L139.4 382.33 L140.2 382.46 L141 381.99 L141.8 382.22 L142.6 382.01 L143.4 381.92 L144.2 382.1 L145 382.53 L145.8 382.04 L146.6 382.6 L147.4 382.51 L148.2 382.4 L149 382.62 L149.8 382.14 L150.6 381.99 L151.4 382.1 L152.2 382.34 L153 382.43 L153.8 382.07 L154.6 382.54 L155.4 382.12 L156.2 382.81 L157 382.81 L157.8 382.78 L158.6 382.41 L159.4 382.51 L160.2 382.54 L161 382.99 L161.8 382.53 L162.6 382.62 L163.4 382.86 L164.2 383.02 L165 383.56 L165.8 383.33 L166.6 383 L167.4 383.2 L168.2 383.31 L169 383.72 L169.8 383.2 L170.6 383.58 L171.4 384.01 L172.2 383.75 L173 383.86 L173.8 383.56 L174.6 383.94 L175.4 383.73 L176.2 382.46 L177 382.04 L177.8 381.23 L178.6 380.14 L179.4 378.61 L180.2 377.14 L181 375.01 L181.8 373.1 L182.6 372.53 L183.4 371.47 L184.2 370.84 L185 370.74 L185.8 371.42 L186.6 372.41 L187.4 373.76 L188.2 375.85 L189 376.99 L189.8 379.59 L190.6 380.24 L191.4 382.12 L192.2 383.05 L193 383.33 L193.8 383.12 L194.6 383.45 L195.4 383.53 L196.2 383.95 L197 384.22 L197.8 383.66 L198.6 384.27 L199.4 383.82 L200.2 384.18 L201 383.66 L201.8 384.07 L202.6 383.66 L203.4 384.02 L204.2 384.01 L205 384.1 L205.8 383.81 L206.6 383.58 L207.4 383.48 L208.2 383.78 L209 384.01 L209.8 383.64 L210.6 383.51 L211.4 383.67 L212.2 383.92 L213 383.61 L213.8 383.36 L214.6 383.24 L215.4 383.27 L216.2 383.66 L217 383.47 L217.8 383.61 L218.6 383.35 L219.4 383.18 L220.2 383.68 L221 383.49 L221.8 383.82 L222.6 383.75 L223.4 383.27 L224.2 383.4 L225 383.36 L225.8 383.53 L226.6 383.68 L227.4 384.03 L228.2 383.55 L229 383.84 L229.8 384.12 L230.6 384.4 L231.4 383.91 L232.2 384.4 L233 384.19 L233.8 384.16 L234.6 384.05 L235.4 384.41 L236.2 383.77 L237 384.38 L237.8 384.25 L238.6 384 L239.4 384 L240.2 384.18 L241 384.22 L241.8 383.8 L242.6 383.9 L243.4 383.82 L244.2 383.69 L245 383.48 L245.8 383.26 L246.6 383.93 L247.4 383.67 L248.2 383.19 L249 383.32 L249.8 383.3 L250.6 383.73 L251.4 383.9 L252.2 383.74 L253 383.35 L253.8 383.22 L254.6 383.25 L255.4 383.23 L256.2 383.85 L257 383.73 L257.8 383.48 L258.6 383.94 L259.4 383.47 L260.2 383.5 L261 383.61 L261.8 383.69 L262.6 384.08 L263.4 383.66 L264.2 384.06 L265 383.57 L265.8 384.16 L266.6 384.16 L267.4 384.1 L268.2 384.01 L269 383.93 L269.8 383.51 L270.6 383.64 L271.4 383.41 L272.2 383.87 L273 383.72 L273.8 383.45 L274.6 383.92 L275.4 383.5 L276.2 383.65 L277 383.34 L277.8 383.3 L278.6 383.93 L279.4 383.82 L280.2 383.53 L281 383.88 L281.8 383.66 L282.6 383.75 L283.4 384.09 L284.2 383.88 L285 383.83 L285.8 384.22 L286.6 383.79 L287.4 384.17 L288.2 384.25 L289 384.11 L289.8 383.81 L290.6 384.23 L291.4 384.05 L292.2 384.3 L293 384.58 L293.8 384.3 L294.6 384.24 L295.4 384.8 L296.2 384.49 L297 384.61 L297.8 384.71 L298.6 385.13 L299.4 384.95 L300.2 384.84 L301 385.04 L301.8 384.97 L302.6 385.25 L303.4 384.9 L304.2 384.81 L305 385.13 L305.8 385.03 L306.6 384.69 L307.4 384.53 L308.2 384.56 L309 385.25 L309.8 384.87 L310.6 385.08 L311.4 385.05 L312.2 385.38 L313 384.72 L313.8 385.24 L314.6 385.33 L315.4 384.92 L316.2 385.19 L317 385.06 L317.8 385.06 L318.6 385.03 L319.4 385.18 L320.2 385.05 L321 385.46 L321.8 385.62 L322.6 385.11 L323.4 385.1 L324.2 385.61 L325 385.38 L325.8 385.37 L326.6 385.88 L327.4 385.89 L328.2 385.66 L329 385.44 L329.8 385.54 L330.6 385.15 L331.4 385.07 L332.2 385.34 L333 385.53 L333.8 385.63 L334.6 385.09 L335.4 385.01 L336.2 385.18 L337 385.12 L337.8 385.04 L338.6 384.88 L339.4 384.87 L340.2 384.78 L341 384.75 L341.8 384.97 L342.6 384.89 L343.4 385.19 L344.2 384.9 L345 384.66 L345.8 384.48 L346.6 384.68 L347.4 385.27 L348.2 385.26 L349 384.88 L349.8 384.59 L350.6 385.25 L351.4 384.8 L352.2 385.29 L353 384.82 L353.8 384.68 L354.6 384.97 L355.4 384.86 L356.2 385.25 L357 385.43 L357.8 385.47 L358.6 385.19 L359.4 385.46 L360.2 385.16 L361 384.72 L361.8 385.27 L362.6 385.2 L363.4 385.19 L364.2 384.73 L365 385.06 L365.8 385.08 L366.6 385.08 L367.4 384.46 L368.2 384.51 L369 384.84 L369.8 384.63 L370.6 384.85 L371.4 384.47 L372.2 384.45 L373 384.72 L373.8 384.58 L374.6 384.17 L375.4 384.16 L376 384.62 L376 389.57 L375.4 390.35 L374.6 389.71 L373.8 390.2 L373 390.3 L372.2 390.32 L371.4 390.01 L370.6 390.23 L369.8 390.43 L369 390.03 L368.2 390.47 L367.4 390.07 L366.6 390.59 L365.8 390.4 L365 390.79 L364.2 390.55 L363.4 390.24 L362.6 390.46 L361.8 390.35 L361 390.67 L360.2 390.93 L359.4 390.66 L358.6 390.91 L357.8 390.74 L357 390.8 L356.2 390.93 L355.4 390.57 L354.6 390.46 L353.8 390.56 L353 390.33 L352.2 390.14 L351.4 390.83 L350.6 390.21 L349.8 390.34 L349 390.17 L348.2 390.41 L347.4 390.1 L346.6 390.05 L345.8 390.16 L345 390.27 L344.2 390.51 L343.4 390 L342.6 390.76 L341.8 390.26 L341 390.85 L340.2 390.34 L339.4 390.75 L338.6 390.38 L337.8 390.49 L337 390.79 L336.2 390.79 L335.4 390.7 L334.6 390.48 L333.8 390.57 L333 390.57 L332.2 391.11 L331.4 390.61 L330.6 391.04 L329.8 390.62 L329 390.83 L328.2 391.03 L327.4 391.13 L326.6 390.96 L325.8 390.88 L325 390.92 L324.2 391.17 L323.4 390.71 L322.6 391.02 L321.8 390.9 L321 390.55 L320.2 391.1 L319.4 390.42 L318.6 391.09 L317.8 390.44 L317 390.94 L316.2 390.37 L315.4 390.36 L314.6 390.38 L313.8 390.17 L313 390.36 L312.2 390.52 L311.4 390.79 L310.6 390.68 L309.8 390.82 L309 390.16 L308.2 390.46 L307.4 390.26 L306.6 390.42 L305.8 390.22 L305 390.02 L304.2 390.2 L303.4 390.31 L302.6 390.65 L301.8 390.05 L301 390.12 L300.2 390.22 L299.4 390.7 L298.6 390.15 L297.8 390.18 L297 390.1 L296.2 390.19 L295.4 390.35 L294.6 390.23 L293.8 390.33 L293 389.8 L292.2 390.02 L291.4 390.06 L290.6 389.99 L289.8 389.33 L289 390 L288.2 389.62 L287.4 389.49 L286.6 389.24 L285.8 389.08 L285 389.69 L284.2 388.86 L283.4 389.26 L282.6 389.04 L281.8 389.2 L281 389 L280.2 388.74 L279.4 389.41 L278.6 388.96 L277.8 389.19 L277 389.03 L276.2 388.85 L275.4 389.06 L274.6 389.43 L273.8 388.82 L273 389.52 L272.2 388.97 L271.4 388.88 L270.6 389.54 L269.8 389.35 L269 389.05 L268.2 389.49 L267.4 389.39 L266.6 389.59 L265.8 388.96 L265 389.4 L264.2 389.28 L263.4 389.1 L262.6 389.61 L261.8 389.47 L261 388.87 L260.2 388.81 L259.4 389.52 L258.6 389.04 L257.8 389.38 L257 389.31 L256.2 389.28 L255.4 389.36 L254.6 389.1 L253.8 389.13 L253 388.96 L252.2 388.85 L251.4 389.09 L250.6 388.91 L249.8 388.67 L249 388.75 L248.2 389.11 L247.4 388.82 L246.6 389.38 L245.8 389.33 L245 388.88 L244.2 389.4 L243.4 389.57 L242.6 388.98 L241.8 389.03 L241 389.42 L240.2 389.52 L239.4 389.54 L238.6 389.33 L237.8 389.23 L237 389.86 L236.2 389.63 L235.4 389.34 L234.6 389.52 L233.8 389.62 L233 389.65 L232.2 389.7 L231.4 389.51 L230.6 389.27 L229.8 389.8 L229 389.29 L228.2 389.4 L227.4 389.43 L226.6 389.41 L225.8 388.93 L225 389.33 L224.2 389.57 L223.4 389.47 L222.6 389.08 L221.8 388.74 L221 388.92 L220.2 388.97 L219.4 388.73 L218.6 389.25 L217.8 388.93 L217 388.92 L216.2 389.11 L215.4 388.94 L214.6 389.3 L213.8 388.64 L213 388.82 L212.2 388.73 L211.4 389.51 L210.6 388.9 L209.8 388.87 L209 389.08 L208.2 389.27 L207.4 389.66 L206.6 389.5 L205.8 389.47 L205 389.02 L204.2 389.67 L203.4 389.46 L202.6 389.28 L201.8 389.17 L201 389.62 L200.2 389.64 L199.4 389.44 L198.6 389.13 L197.8 388.77 L197 389.06 L196.2 388.46 L195.4 388.45 L194.6 388.9 L193.8 388.58 L193 387.97 L192.2 387.75 L191.4 386.8 L190.6 385.67 L189.8 384.44 L189 382.58 L188.2 380.12 L187.4 378.38 L186.6 377.24 L185.8 376.07 L185 375.66 L184.2 375.32 L183.4 376.12 L182.6 377.05 L181.8 378.58 L181 380.06 L180.2 382 L179.4 383.86 L178.6 385.26 L177.8 386 L177 387.19 L176.2 387.69 L175.4 388.7 L174.6 388.53 L173.8 388.86 L173 388.42 L172.2 388.44 L171.4 388.54 L170.6 388.42 L169.8 388.69 L169 388.56 L168.2 388.72 L167.4 388.05 L166.6 388.05 L165.8 388.29 L165 388.36 L164.2 388.09 L163.4 388.31 L162.6 388.12 L161.8 387.83 L161 387.48 L160.2 388 L159.4 387.58 L158.6 387.27 L157.8 387.88 L157 387.73 L156.2 387.24 L155.4 387.49 L154.6 387 L153.8 387.56 L153 386.91 L152.2 387.44 L151.4 387.08 L150.6 387.32 L149.8 387 L149 387.1 L148.2 387.15 L147.4 387 L146.6 386.86 L145.8 387.4 L145 387.55 L144.2 386.95 L143.4 387.07 L142.6 386.97 L141.8 387.28 L141 387 L140.2 387.23 L139.4 386.86 L138.6 387.28 L137.8 387.16 L137 386.8 L136.2 386.98 L135.4 386.51 L134.6 386.3 L133.8 386.57 L133 386.53 L132.2 386.53 L131.4 386.59 L130.6 385.89 L129.8 385.99 L129 386.18 L128.2 386.2 L127.4 385.94 L126.6 385.54 L125.8 385.55 L125 385.52 L124.2 385.74 L123.4 385.43 L122.6 385.29 L121.8 385.34 L121 385.89 L120.2 385.88 L119.4 385.67 L118.6 385.21 L117.8 385.75 L117 385.68 L116.2 386.8 L115.4 388.15 L114.6 388.86 L113.8 389.62 L113 390.82 L112.2 392.23 L111.4 394.12 L110.6 394.47 L109.8 395.21 L109 395.47 L108.2 395.88 L107.4 395.47 L106.6 395.12 L105.8 395.01 L105 393.67 L104.2 391.73 L103.4 389.39 L102.6 387.02 L101.8 384.1 L101 380.34 L100.2 378.47 L99.4 377.56 L98.6 376.56 L97.8 378.24 L97 379.74 L96.2 383.09 L95.4 386.04 L94.6 389.2Z" fill="#0000ff" opacity="1"/>
</g>
<clipPath id="c21"><rect x="473.5" y="359.5" width="323" height="103"/></clipPath>
<g clip-path="url(#c21)">
<path d="M495.1 362.3 L495.8 360.73 L496.5 362.45 L497.2 360.82 L497.9 362.17 L498.6 361.1 L499.3 362.24 L500 362.1 L500.7 361.16 L501.4 362.21 L502.1 361.75 L502.8 360.69 L503.5 361.04 L504.2 360.73 L504.9 360.54 L505.6 362.23 L506.3 361.85 L507 360.84 L507.7 361.01 L508.4 362.16 L509.1 361.31 L509.8 361.79 L510.5 361.42 L511.2 361.99 L511.9 362.13 L512.6 360.37 L513.3 361.56 L514 360.54 L514.7 361.89 L515.4 361.22 L516.1 361.83 L516.8 361.29 L517.5 361.73 L518.2 360.8 L518.9 361.76 L519.6 360.68 L520.3 361.1 L521 361.8 L521.7 361.36 L522.4 361.11 L523.1 360.35 L523.8 361.37 L524.5 361.61 L525.2 360.26 L525.9 360.41 L526.6 360.68 L527.3 361.51 L528 361.68 L528.7 361.52 L529.4 361.88 L530.1 361.92 L530.8 361.08 L531.5 361.27 L532.2 361 L532.9 361.35 L533.6 361.98 L534.3 360.76 L535 360.82 L535.7 361.02 L536.4 361.01 L537.1 360.76 L537.8 360.23 L538.5 360.43 L539.2 360.71 L539.9 361.28 L540.6 361.43 L541.3 361.25 L542 360.25 L542.7 361.3 L543.4 361.31 L544.1 361.26 L544.8 361.74 L545.5 360.2 L546.2 361.99 L546.9 360.91 L547.6 360.33 L548.3 361.54 L549 360.9 L549.7 361.32 L550.4 361.57 L551.1 361.64 L551.8 361.79 L552.5 360.48 L553.2 360.59 L553.9 360.36 L554.6 361.91 L555.3 360.75 L556 361.42 L556.7 360.84 L557.4 361.01 L558.1 361.43 L558.8 360.25 L559.5 362 L560.2 360.66 L560.9 360.49 L561.6 361.12 L562.3 360.99 L563 360.29 L563.7 361.67 L564.4 360.98 L565.1 360.79 L565.8 361.47 L566.5 360.88 L567.2 361.48 L567.9 361.26 L568.6 361.12 L569.3 361.02 L570 361.68 L570.7 361.14 L571.4 361.31 L572.1 361.91 L572.8 361.23 L573.5 361.87 L574.2 360.73 L574.9 361.53 L575.6 361.1 L576.3 361.48 L577 361.58 L577.7 362.06 L578.4 362.22 L579.1 360.82 L579.8 362.45 L580.5 364.56 L581.2 370.45 L581.9 375.83 L582.6 384.07 L583.3 394.69 L584 404.02 L584.7 413.61 L585.4 421.04 L586.1 428.47 L586.8 432.69 L587.5 428.54 L588.2 425.82 L588.9 416.49 L589.6 403.55 L590.3 391.46 L591 375.56 L591.7 364.4 L592.4 362.32 L593.1 362.31 L593.8 361.86 L594.5 361.05 L595.2 361.56 L595.9 361.68 L596.6 362.34 L597.3 361.79 L598 360.71 L598.7 361.25 L599.4 361.69 L600.1 361.64 L600.8 361.06 L601.5 361.13 L602.2 362.23 L602.9 361.28 L603.6 361.84 L604.3 361.56 L605 362.07 L605.7 361.83 L606.4 361.89 L607.1 361.81 L607.8 362.47 L608.5 362.14 L609.2 361.47 L609.9 362.4 L610.6 362.18 L611.3 361.21 L612 362.01 L612.7 361.92 L613.4 362.06 L614.1 361 L614.8 362.34 L615.5 361.35 L616.2 360.95 L616.9 362.14 L617.6 361.74 L618.3 361.07 L619 361.39 L619.7 361.83 L620.4 362.46 L621.1 361.81 L621.8 362.02 L622.5 361.47 L623.2 362.29 L623.9 362.16 L624.6 361.79 L625.3 361.57 L626 362.47 L626.7 362.48 L627.4 362.2 L628.1 361.65 L628.8 363.04 L629.5 361.7 L630.2 362.24 L630.9 362.92 L631.6 362.46 L632.3 363.14 L633 363.67 L633.7 362.51 L634.4 363.26 L635.1 363.06 L635.8 363.19 L636.5 362.53 L637.2 362.86 L637.9 364.24 L638.6 363.29 L639.3 363.6 L640 363.67 L640.7 363.12 L641.4 364.01 L642.1 364.03 L642.8 363.41 L643.5 364.35 L644.2 364.39 L644.9 364.48 L645.6 364.05 L646.3 364.45 L647 364.46 L647.7 365.2 L648.4 365.97 L649.1 364.95 L649.8 365.31 L650.5 365.05 L651.2 365.18 L651.9 366.48 L652.6 366.42 L653.3 366.81 L654 365.61 L654.7 367.02 L655.4 367.18 L656.1 366.11 L656.8 366.58 L657.5 367.62 L658.2 366.63 L658.9 366.7 L659.6 367.06 L660.3 367.75 L661 366.52 L661.7 366.93 L662.4 366.54 L663.1 365.72 L663.8 365.96 L664.5 365.78 L665.2 367 L665.9 366.58 L666.6 366.16 L667.3 367 L668 365.15 L668.7 366.35 L669.4 366.29 L670.1 366.12 L670.8 366.14 L671.5 364.97 L672.2 365.43 L672.9 365.43 L673.6 365.51 L674.3 366.09 L675 365.55 L675.7 364.45 L676.4 364.49 L677.1 364.3 L677.8 365.3 L678.5 365.31 L679.2 365.5 L679.9 364.55 L680.6 364.77 L681.3 364.53 L682 364.42 L682.7 364.18 L683.4 364.5 L684.1 363.65 L684.8 364.66 L685.5 363.3 L686.2 363.88 L686.9 364.72 L687.6 364.17 L688.3 363.71 L689 363.86 L689.7 363.51 L690.4 363.88 L691.1 363.9 L691.8 362.89 L692.5 363.73 L693.2 362.9 L693.9 362.67 L694.6 362.97 L695.3 363.15 L696 362.22 L696.7 363.03 L697.4 362.18 L698.1 363.59 L698.8 362.84 L699.5 362.4 L700.2 363.41 L700.9 361.94 L701.6 363.35 L702.3 362.4 L703 363.14 L703.7 361.79 L704.4 362.44 L705.1 361.99 L705.8 362.53 L706.5 362.21 L707.2 362.2 L707.9 362.87 L708.6 363.01 L709.3 361.87 L710 363.11 L710.7 361.71 L711.4 362.99 L712.1 363.17 L712.8 363.17 L713.5 361.92 L714.2 361.61 L714.9 362.57 L715.6 362.12 L716.3 362.83 L717 361.66 L717.7 362.04 L718.4 362.99 L719.1 363.16 L719.8 362 L720.5 363.17 L721.2 361.73 L721.9 362.7 L722.6 362.8 L723.3 362.16 L724 362.63 L724.7 362.18 L725.4 362.91 L726.1 361.53 L726.8 362.58 L727.5 361.64 L728.2 362.87 L728.9 361.7 L729.6 361.37 L730.3 362.42 L731 363.05 L731.7 362.42 L732.4 361.94 L733.1 362.68 L733.8 362.1 L734.5 362.9 L735.2 362.22 L735.9 361.74 L736.6 362.27 L737.3 361.81 L738 362.82 L738.7 361.52 L739.4 362.79 L740.1 361.35 L740.8 361.27 L741.5 361.42 L742.2 362.22 L742.9 362.69 L743.6 362.64 L744.3 361.97 L745 362.48 L745.7 361.75 L746.4 363.31 L747.1 362.66 L747.8 362.03 L748.5 362.56 L749.2 362.72 L749.9 363.58 L750.6 363.54 L751.3 363.36 L752 362.29 L752.7 362.43 L753.4 363.6 L754.1 362.39 L754.8 364.05 L755.5 363.08 L756.2 362.47 L756.9 363.65 L757.6 362.62 L758.3 363.19 L759 364.33 L759.7 363.88 L760.4 363.71 L761.1 364.11 L761.8 363.26 L762.5 364.31 L763.2 363.26 L763.9 364.17 L764.6 364.62 L765.3 363.78 L766 364.65 L766.7 363.87 L767.4 363.48 L768.1 363.87 L768.8 364.15 L769.5 364.95 L770.2 364.13 L770.9 364.91 L771.6 363.96 L772.3 364.93 L773 364.16 L773.7 364.61 L774.4 364.6 L775.1 364.12 L775.8 365.06 L776.5 365.09 L777.2 363.73 L777.9 364.87 L778.5 363.98 L778.5 384.63 L777.9 386.27 L777.2 385.08 L776.5 386.2 L775.8 385.91 L775.1 386.25 L774.4 386.01 L773.7 384.84 L773 385.49 L772.3 385.34 L771.6 385.13 L770.9 385.45 L770.2 385.7 L769.5 385.52 L768.8 384.49 L768.1 385.13 L767.4 385.26 L766.7 384.4 L766 385.74 L765.3 384.38 L764.6 385.29 L763.9 385.77 L763.2 385.81 L762.5 384.67 L761.8 385.71 L761.1 384.67 L760.4 385.29 L759.7 384.85 L759 384.86 L758.3 385.37 L757.6 384.63 L756.9 384.42 L756.2 385.7 L755.5 384.27 L754.8 385.65 L754.1 385.18 L753.4 384.98 L752.7 384.27 L752 384.65 L751.3 384.4 L750.6 385.27 L749.9 384.13 L749.2 384.7 L748.5 385.62 L747.8 384.23 L747.1 385.35 L746.4 384.73 L745.7 385.52 L745 385.82 L744.3 385.27 L743.6 384.22 L742.9 384.44 L742.2 384.41 L741.5 384.51 L740.8 385.49 L740.1 385.09 L739.4 384.13 L738.7 384.51 L738 385.13 L737.3 385.3 L736.6 385.31 L735.9 384.29 L735.2 385.64 L734.5 385.24 L733.8 385.56 L733.1 385.42 L732.4 385.71 L731.7 385.72 L731 385.01 L730.3 385.48 L729.6 385.34 L728.9 384.41 L728.2 385.66 L727.5 385.58 L726.8 385.69 L726.1 384.67 L725.4 385.22 L724.7 384.92 L724 385.24 L723.3 385.41 L722.6 385.75 L721.9 385.13 L721.2 384.98 L720.5 384.36 L719.8 384.86 L719.1 384.5 L718.4 385.89 L717.7 385.48 L717 385.23 L716.3 385.25 L715.6 385.87 L714.9 384.65 L714.2 384.95 L713.5 385.78 L712.8 385.05 L712.1 384.96 L711.4 385.69 L710.7 386.06 L710 385.09 L709.3 385.78 L708.6 385.64 L707.9 385.54 L707.2 386.15 L706.5 385.58 L705.8 384.98 L705.1 384.64 L704.4 385.9 L703.7 385.2 L703 385.68 L702.3 385.83 L701.6 385.47 L700.9 384.61 L700.2 384.94 L699.5 385 L698.8 386.25 L698.1 385.23 L697.4 385.65 L696.7 386.15 L696 384.77 L695.3 386.12 L694.6 385.24 L693.9 385.94 L693.2 385.36 L692.5 385.83 L691.8 386.56 L691.1 385.6 L690.4 385.48 L689.7 386.37 L689 386.26 L688.3 386.09 L687.6 385.97 L686.9 386.52 L686.2 385.46 L685.5 385.79 L684.8 386.66 L684.1 386.44 L683.4 386.84 L682.7 386.18 L682 387.04 L681.3 385.8 L680.6 385.95 L679.9 387.24 L679.2 386.25 L678.5 386.32 L677.8 386.13 L677.1 385.9 L676.4 386.55 L675.7 386.38 L675 386.21 L674.3 387.61 L673.6 386.51 L672.9 386.34 L672.2 387.79 L671.5 387.85 L670.8 386.85 L670.1 386.74 L669.4 386.35 L668.7 386.87 L668 386.66 L667.3 387.74 L666.6 386.75 L665.9 388.09 L665.2 387.49 L664.5 386.86 L663.8 387.28 L663.1 388.14 L662.4 388.24 L661.7 387.84 L661 387.15 L660.3 387.41 L659.6 388.2 L658.9 388.27 L658.2 388.65 L657.5 387.53 L656.8 387.99 L656.1 388.14 L655.4 387.79 L654.7 388.31 L654 387.23 L653.3 387.38 L652.6 386.85 L651.9 387.63 L651.2 386.68 L650.5 387.26 L649.8 387.38 L649.1 386.66 L648.4 385.97 L647.7 386.85 L647 386.79 L646.3 385.92 L645.6 387.19 L644.9 387.23 L644.2 385.69 L643.5 385.95 L642.8 385.36 L642.1 386.57 L641.4 386.46 L640.7 386.68 L640 386.35 L639.3 385.77 L638.6 385.94 L637.9 386.14 L637.2 386.38 L636.5 384.95 L635.8 386.57 L635.1 385.43 L634.4 385.64 L633.7 386.35 L633 385.9 L632.3 385.59 L631.6 385.3 L630.9 385.73 L630.2 385.75 L629.5 385.18 L628.8 386.22 L628.1 385.26 L627.4 385.56 L626.7 384.54 L626 385.57 L625.3 385.95 L624.6 385.98 L623.9 384.95 L623.2 385.17 L622.5 385.76 L621.8 385.18 L621.1 384.33 L620.4 384.75 L619.7 384.56 L619 385.58 L618.3 384.96 L617.6 385.85 L616.9 384.49 L616.2 384.19 L615.5 385.15 L614.8 384.51 L614.1 385.73 L613.4 384.59 L612.7 386.04 L612 385.19 L611.3 386.02 L610.6 385.21 L609.9 385.04 L609.2 385.95 L608.5 385.46 L607.8 385.97 L607.1 384.79 L606.4 385.06 L605.7 386.14 L605 384.92 L604.3 384.78 L603.6 385.95 L602.9 384.56 L602.2 385.73 L601.5 384.73 L600.8 385.98 L600.1 385.74 L599.4 385.36 L598.7 385.84 L598 385.08 L597.3 384.77 L596.6 385.15 L595.9 385.75 L595.2 386.18 L594.5 385.31 L593.8 385.07 L593.1 387.39 L592.4 402.23 L591.7 413.43 L591 423.41 L590.3 434.32 L589.6 442.56 L588.9 451.1 L588.2 455.93 L587.5 459.03 L586.8 464.43 L586.1 460.13 L585.4 455.32 L584.7 450.11 L584 444.01 L583.3 436.67 L582.6 425.66 L581.9 412.23 L581.2 402.03 L580.5 395.35 L579.8 387.98 L579.1 385.23 L578.4 385.21 L577.7 384.51 L577 385.08 L576.3 385.03 L575.6 385.43 L574.9 384.69 L574.2 384.23 L573.5 384.62 L572.8 384.16 L572.1 384.22 L571.4 385.31 L570.7 384.25 L570 385.22 L569.3 385.54 L568.6 384.01 L567.9 385.5 L567.2 384.76 L566.5 385.53 L565.8 384.34 L565.1 385.37 L564.4 385.21 L563.7 385.29 L563 384.58 L562.3 384.86 L561.6 385.24 L560.9 385.3 L560.2 385.14 L559.5 385.43 L558.8 385.49 L558.1 385.29 L557.4 384.04 L556.7 385.14 L556 385.01 L555.3 385.54 L554.6 384.09 L553.9 384.43 L553.2 385.09 L552.5 383.97 L551.8 385.22 L551.1 385.32 L550.4 384.93 L549.7 384.16 L549 384.95 L548.3 385.15 L547.6 385.43 L546.9 385.2 L546.2 384.7 L545.5 384.66 L544.8 385.22 L544.1 385.6 L543.4 385.56 L542.7 384.4 L542 384.2 L541.3 384.16 L540.6 384.05 L539.9 384.42 L539.2 384.07 L538.5 385.01 L537.8 385.11 L537.1 384.22 L536.4 383.93 L535.7 384.5 L535 384.51 L534.3 385.45 L533.6 383.78 L532.9 385.41 L532.2 384.58 L531.5 385.2 L530.8 384.35 L530.1 385.2 L529.4 384.97 L528.7 384.84 L528 383.79 L527.3 385.48 L526.6 384.79 L525.9 384.15 L525.2 383.81 L524.5 384.98 L523.8 385.1 L523.1 384.76 L522.4 384.1 L521.7 384.72 L521 383.82 L520.3 385.27 L519.6 384.19 L518.9 384.59 L518.2 384.36 L517.5 383.71 L516.8 384.12 L516.1 383.92 L515.4 384.99 L514.7 384.04 L514 384.87 L513.3 384.65 L512.6 385.04 L511.9 384.49 L511.2 385.31 L510.5 383.63 L509.8 385.2 L509.1 384.5 L508.4 385.16 L507.7 384.02 L507 383.81 L506.3 383.94 L505.6 384.3 L504.9 383.92 L504.2 384.22 L503.5 384.47 L502.8 384.52 L502.1 383.84 L501.4 384.38 L500.7 383.75 L500 384.5 L499.3 384.42 L498.6 383.73 L497.9 385.1 L497.2 383.68 L496.5 383.78 L495.8 384.37 L495.1 385.07Z" fill="#ffa500" opacity="0.25"/>
<path d="M495.1 363.52 L495.8 363.85 L496.5 363.52 L497.2 363.28 L497.9 363.24 L498.6 363.48 L499.3 363.57 L500 363.71 L500.7 363.48 L501.4 363.59 L502.1 363.67 L502.8 363.11 L503.5 363.32 L504.2 363.38 L504.9 363.61 L505.6 363.09 L506.3 363.58 L507 363.5 L507.7 363.19 L508.4 363.03 L509.1 362.75 L509.8 362.96 L510.5 362.74 L511.2 362.76 L511.9 362.94 L512.6 362.93 L513.3 363.57 L514 363.41 L514.7 363.59 L515.4 362.73 L516.1 362.86 L516.8 362.93 L517.5 363.29 L518.2 363.18 L518.9 363.36 L519.6 362.88 L520.3 362.51 L521 363.19 L521.7 363.46 L522.4 363.32 L523.1 363.14 L523.8 362.6 L524.5 362.7 L525.2 363.04 L525.9 363.4 L526.6 363.39 L527.3 363.35 L528 362.72 L528.7 363.03 L529.4 362.51 L530.1 362.59 L530.8 362.71 L531.5 363.02 L532.2 362.68 L532.9 363.37 L533.6 363.39 L534.3 362.94 L535 362.99 L535.7 363.29 L536.4 363.25 L537.1 363.48 L537.8 362.59 L538.5 362.79 L539.2 362.55 L539.9 362.52 L540.6 363.06 L541.3 362.77 L542 363.12 L542.7 362.69 L543.4 362.66 L544.1 363.37 L544.8 363.49 L545.5 363.29 L546.2 362.91 L546.9 363.12 L547.6 363.49 L548.3 362.67 L549 362.71 L549.7 363.04 L550.4 363.46 L551.1 362.61 L551.8 362.97 L552.5 363.43 L553.2 363.18 L553.9 362.88 L554.6 362.61 L555.3 363.02 L556 362.86 L556.7 363.29 L557.4 363.26 L558.1 362.59 L558.8 363.12 L559.5 363.4 L560.2 362.91 L560.9 363.4 L561.6 363.34 L562.3 363.1 L563 362.99 L563.7 362.96 L564.4 362.91 L565.1 363.19 L565.8 363.58 L566.5 362.94 L567.2 363.63 L567.9 363.23 L568.6 363.32 L569.3 363.07 L570 363.04 L570.7 363.53 L571.4 363.14 L572.1 363.12 L572.8 363.36 L573.5 363.7 L574.2 362.96 L574.9 363.28 L575.6 363.84 L576.3 363.68 L577 362.95 L577.7 363.73 L578.4 363.58 L579.1 363.2 L579.8 364.08 L580.5 366.37 L581.2 372.15 L581.9 378.75 L582.6 385.91 L583.3 395.52 L584 406.2 L584.7 415.9 L585.4 423.65 L586.1 431.22 L586.8 434.87 L587.5 431.38 L588.2 426.73 L588.9 417.74 L589.6 405.91 L590.3 393.51 L591 377.02 L591.7 366.03 L592.4 364.25 L593.1 363.24 L593.8 363.9 L594.5 363.03 L595.2 363.29 L595.9 363.81 L596.6 363.19 L597.3 363.84 L598 363.49 L598.7 363.89 L599.4 363.21 L600.1 363.11 L600.8 363.08 L601.5 364 L602.2 363.15 L602.9 363.44 L603.6 363.18 L604.3 363.5 L605 363.38 L605.7 363.41 L606.4 363.2 L607.1 363.92 L607.8 363.95 L608.5 363.45 L609.2 363.71 L609.9 363.6 L610.6 363.99 L611.3 363.26 L612 363.98 L612.7 363.17 L613.4 363.19 L614.1 363.54 L614.8 363.88 L615.5 363.35 L616.2 363.79 L616.9 363.57 L617.6 363.89 L618.3 363.02 L619 363.45 L619.7 363.65 L620.4 363.95 L621.1 363.38 L621.8 363.33 L622.5 363.4 L623.2 364.22 L623.9 364.02 L624.6 364.16 L625.3 363.77 L626 364.45 L626.7 364.06 L627.4 363.76 L628.1 364.04 L628.8 364.87 L629.5 364.88 L630.2 364.91 L630.9 364.4 L631.6 364.56 L632.3 364.71 L633 364.84 L633.7 364.96 L634.4 364.83 L635.1 364.86 L635.8 364.66 L636.5 364.92 L637.2 364.92 L637.9 364.88 L638.6 365.02 L639.3 365.21 L640 365.97 L640.7 365.45 L641.4 365.41 L642.1 365.96 L642.8 365.64 L643.5 366.46 L644.2 365.83 L644.9 366.46 L645.6 366.33 L646.3 366.91 L647 366.99 L647.7 367.07 L648.4 367.22 L649.1 367.58 L649.8 367.36 L650.5 366.95 L651.2 367.41 L651.9 367.26 L652.6 367.56 L653.3 367.61 L654 367.58 L654.7 367.96 L655.4 368.56 L656.1 368.72 L656.8 368.68 L657.5 369.2 L658.2 369.12 L658.9 368.6 L659.6 368.51 L660.3 369.02 L661 368.49 L661.7 368.4 L662.4 368.21 L663.1 368.22 L663.8 368.4 L664.5 368.74 L665.2 367.94 L665.9 368.36 L666.6 367.97 L667.3 368.14 L668 367.89 L668.7 367.38 L669.4 368.1 L670.1 367.65 L670.8 367.45 L671.5 367.47 L672.2 366.99 L672.9 367.44 L673.6 366.85 L674.3 366.99 L675 366.63 L675.7 367.42 L676.4 367.22 L677.1 367.06 L677.8 366.36 L678.5 367.16 L679.2 366.84 L679.9 366.3 L680.6 365.95 L681.3 366.69 L682 366.36 L682.7 366.04 L683.4 365.97 L684.1 365.84 L684.8 365.77 L685.5 366.2 L686.2 366.12 L686.9 366.28 L687.6 365.55 L688.3 365.96 L689 365.84 L689.7 365.07 L690.4 365.32 L691.1 365.3 L691.8 365.16 L692.5 365.15 L693.2 364.99 L693.9 365.31 L694.6 365.48 L695.3 365.4 L696 365.39 L696.7 364.97 L697.4 365.12 L698.1 365.08 L698.8 364.63 L699.5 364.08 L700.2 364.31 L700.9 364.72 L701.6 364.21 L702.3 364.79 L703 364.86 L703.7 364.65 L704.4 364.54 L705.1 364.25 L705.8 364.48 L706.5 364.19 L707.2 364.82 L707.9 363.97 L708.6 364.55 L709.3 364.05 L710 364.84 L710.7 364.04 L711.4 364.63 L712.1 363.99 L712.8 364.04 L713.5 364.16 L714.2 364.54 L714.9 364.8 L715.6 364.62 L716.3 363.89 L717 364.63 L717.7 364.12 L718.4 364.18 L719.1 364.1 L719.8 364.57 L720.5 364.6 L721.2 364.64 L721.9 363.74 L722.6 364.33 L723.3 364.06 L724 364.13 L724.7 364.47 L725.4 364.62 L726.1 364.66 L726.8 363.81 L727.5 364.53 L728.2 363.68 L728.9 364.28 L729.6 363.91 L730.3 364.48 L731 363.82 L731.7 364.35 L732.4 364.23 L733.1 364.06 L733.8 364.47 L734.5 364.32 L735.2 363.76 L735.9 364.27 L736.6 364.16 L737.3 363.77 L738 364.3 L738.7 364.32 L739.4 364.29 L740.1 364.12 L740.8 364.19 L741.5 363.97 L742.2 364.19 L742.9 363.85 L743.6 364.72 L744.3 364.16 L745 364.04 L745.7 364.69 L746.4 364.95 L747.1 364.59 L747.8 364.97 L748.5 364.68 L749.2 364.48 L749.9 365.15 L750.6 365.18 L751.3 364.87 L752 365.23 L752.7 365.22 L753.4 365.06 L754.1 365.44 L754.8 365.54 L755.5 365.3 L756.2 365.25 L756.9 364.83 L757.6 365.27 L758.3 365.8 L759 365.7 L759.7 365.23 L760.4 365.46 L761.1 365.19 L761.8 365.13 L762.5 365.28 L763.2 366.06 L763.9 365.27 L764.6 365.72 L765.3 366.05 L766 366.15 L766.7 365.5 L767.4 366.19 L768.1 366.35 L768.8 366.21 L769.5 365.59 L770.2 366.09 L770.9 365.86 L771.6 366.55 L772.3 366.21 L773 366.38 L773.7 366.54 L774.4 366.12 L775.1 366.45 L775.8 366.73 L776.5 365.91 L777.2 366.45 L777.9 366.79 L778.5 366.99 L778.5 383.35 L777.9 383.81 L777.2 383.32 L776.5 383.51 L775.8 383.1 L775.1 383.8 L774.4 383.33 L773.7 383.59 L773 383.18 L772.3 383.73 L771.6 383.67 L770.9 383.63 L770.2 383.88 L769.5 383.69 L768.8 383.79 L768.1 383.11 L767.4 383.61 L766.7 383.73 L766 383.47 L765.3 383.24 L764.6 383.73 L763.9 383.04 L763.2 382.91 L762.5 383.17 L761.8 383.14 L761.1 383.15 L760.4 383.13 L759.7 383.02 L759 383.57 L758.3 383.59 L757.6 383.06 L756.9 383.67 L756.2 383.61 L755.5 383.31 L754.8 383.46 L754.1 382.69 L753.4 383.25 L752.7 383.53 L752 383.48 L751.3 383.07 L750.6 382.83 L749.9 382.97 L749.2 383.36 L748.5 382.78 L747.8 382.92 L747.1 383.45 L746.4 382.73 L745.7 383.56 L745 383.03 L744.3 382.81 L743.6 382.79 L742.9 382.88 L742.2 383.34 L741.5 382.63 L740.8 383.47 L740.1 382.69 L739.4 382.64 L738.7 383.25 L738 383.24 L737.3 383 L736.6 382.83 L735.9 383.16 L735.2 383.52 L734.5 383.04 L733.8 383.48 L733.1 383.48 L732.4 383.34 L731.7 382.86 L731 382.73 L730.3 383.59 L729.6 382.87 L728.9 382.76 L728.2 382.99 L727.5 383.08 L726.8 383.43 L726.1 382.85 L725.4 382.85 L724.7 383.52 L724 383.23 L723.3 382.87 L722.6 382.79 L721.9 382.83 L721.2 382.87 L720.5 383.51 L719.8 383.04 L719.1 382.81 L718.4 383.73 L717.7 382.87 L717 383.18 L716.3 382.88 L715.6 383.24 L714.9 383.58 L714.2 383.57 L713.5 382.9 L712.8 383.14 L712.1 383.47 L711.4 383.32 L710.7 383 L710 383.78 L709.3 383.86 L708.6 382.93 L707.9 383.18 L707.2 383.55 L706.5 383.37 L705.8 383.03 L705.1 383.55 L704.4 383.88 L703.7 383.88 L703 383.41 L702.3 383.34 L701.6 383.75 L700.9 383.7 L700.2 383.47 L699.5 383.34 L698.8 383.28 L698.1 383.76 L697.4 383.38 L696.7 383.65 L696 383.59 L695.3 383.31 L694.6 383.38 L693.9 384.08 L693.2 383.87 L692.5 384.09 L691.8 383.77 L691.1 383.97 L690.4 383.99 L689.7 383.63 L689 383.75 L688.3 384.05 L687.6 384.5 L686.9 384.59 L686.2 383.84 L685.5 384.24 L684.8 383.81 L684.1 383.88 L683.4 384.44 L682.7 383.92 L682 384.62 L681.3 384.25 L680.6 384.28 L679.9 384.8 L679.2 385.02 L678.5 384.82 L677.8 384.98 L677.1 384.98 L676.4 384.48 L675.7 384.46 L675 384.62 L674.3 385.07 L673.6 384.77 L672.9 384.71 L672.2 385.46 L671.5 385.22 L670.8 385.35 L670.1 385.35 L669.4 385.05 L668.7 385.03 L668 385.58 L667.3 384.94 L666.6 385.68 L665.9 385.54 L665.2 385.48 L664.5 385.37 L663.8 385.4 L663.1 385.84 L662.4 385.37 L661.7 385.89 L661 385.55 L660.3 385.55 L659.6 386.02 L658.9 386.15 L658.2 385.51 L657.5 385.57 L656.8 386.06 L656.1 386 L655.4 385.83 L654.7 385.24 L654 385.56 L653.3 384.99 L652.6 385.63 L651.9 385.55 L651.2 384.91 L650.5 385.32 L649.8 384.92 L649.1 385.15 L648.4 384.54 L647.7 384.36 L647 384.8 L646.3 385.09 L645.6 384.28 L644.9 384.51 L644.2 384.28 L643.5 384.6 L642.8 384.59 L642.1 383.98 L641.4 384.34 L640.7 384.2 L640 383.59 L639.3 383.63 L638.6 383.52 L637.9 383.46 L637.2 383.63 L636.5 383.82 L635.8 383.73 L635.1 383.6 L634.4 383.77 L633.7 383.55 L633 383.33 L632.3 384.12 L631.6 384.06 L630.9 383.2 L630.2 383.08 L629.5 384.01 L628.8 383.71 L628.1 383.23 L627.4 383.16 L626.7 382.91 L626 383.57 L625.3 383.01 L624.6 382.81 L623.9 382.85 L623.2 383.02 L622.5 383.44 L621.8 383.22 L621.1 382.66 L620.4 382.82 L619.7 383.2 L619 383.5 L618.3 383.49 L617.6 383.25 L616.9 383.49 L616.2 382.94 L615.5 383 L614.8 383.48 L614.1 382.93 L613.4 383.71 L612.7 383.47 L612 383.41 L611.3 383.44 L610.6 383.65 L609.9 383.59 L609.2 383.8 L608.5 383.23 L607.8 383.03 L607.1 383.56 L606.4 382.92 L605.7 383.4 L605 383.11 L604.3 383.39 L603.6 383.67 L602.9 383.34 L602.2 383.58 L601.5 383.96 L600.8 383.61 L600.1 383.12 L599.4 383.48 L598.7 383.48 L598 383.23 L597.3 383.14 L596.6 383.39 L595.9 383.35 L595.2 383.38 L594.5 383.3 L593.8 383.95 L593.1 385.95 L592.4 400.27 L591.7 411.58 L591 421.39 L590.3 432.26 L589.6 441.82 L588.9 449.98 L588.2 453.75 L587.5 458.48 L586.8 461.93 L586.1 457.36 L585.4 453.54 L584.7 448.96 L584 441.18 L583.3 434.65 L582.6 424.71 L581.9 410.68 L581.2 399.52 L580.5 392.16 L579.8 386.05 L579.1 382.97 L578.4 382.77 L577.7 382.92 L577 383.04 L576.3 382.37 L575.6 382.98 L574.9 382.82 L574.2 382.67 L573.5 382.54 L572.8 382.56 L572.1 382.99 L571.4 382.48 L570.7 382.87 L570 383.2 L569.3 382.38 L568.6 382.49 L567.9 383.26 L567.2 383.2 L566.5 383.1 L565.8 382.89 L565.1 382.96 L564.4 382.54 L563.7 382.42 L563 382.81 L562.3 382.95 L561.6 383.11 L560.9 383.15 L560.2 382.83 L559.5 382.72 L558.8 383.17 L558.1 383.27 L557.4 382.59 L556.7 382.59 L556 382.32 L555.3 382.4 L554.6 383.21 L553.9 382.35 L553.2 382.71 L552.5 383.24 L551.8 382.57 L551.1 383.26 L550.4 383.16 L549.7 382.96 L549 383.19 L548.3 382.71 L547.6 382.75 L546.9 382.89 L546.2 382.47 L545.5 382.53 L544.8 382.36 L544.1 383.19 L543.4 382.88 L542.7 382.82 L542 382.44 L541.3 382.45 L540.6 383.26 L539.9 382.42 L539.2 382.54 L538.5 382.43 L537.8 383 L537.1 382.84 L536.4 382.73 L535.7 382.53 L535 382.87 L534.3 382.26 L533.6 383.09 L532.9 382.41 L532.2 382.62 L531.5 382.27 L530.8 382.91 L530.1 382.58 L529.4 382.64 L528.7 382.55 L528 383.18 L527.3 382.44 L526.6 382.67 L525.9 383.21 L525.2 382.4 L524.5 383.03 L523.8 382.41 L523.1 382.81 L522.4 383.17 L521.7 382.67 L521 383.12 L520.3 382.68 L519.6 382.64 L518.9 382.39 L518.2 383.1 L517.5 382.16 L516.8 382.82 L516.1 382.54 L515.4 383.08 L514.7 382.71 L514 382.88 L513.3 382.31 L512.6 382.26 L511.9 382.55 L511.2 382.14 L510.5 382.32 L509.8 382.18 L509.1 383 L508.4 382.69 L507.7 382.31 L507 382.26 L506.3 382.98 L505.6 382.44 L504.9 382.92 L504.2 382.8 L503.5 383 L502.8 382.86 L502.1 382.19 L501.4 382.69 L500.7 382.64 L500 382.53 L499.3 382.26 L498.6 382.56 L497.9 382.76 L497.2 382.48 L496.5 382.03 L495.8 382.52 L495.1 382.65Z" fill="#ffa500" opacity="1"/>
<path d="M487.2 387.5 L497.6 387.5" fill="none" stroke="#ffa500" stroke-width="3" stroke-linejoin="round" stroke-linecap="round" opacity="1" stroke-linecap="butt"/>
<path d="M536 387.5 L540 387.5" fill="none" stroke="#ffa500" stroke-width="3" stroke-linejoin="round" stroke-linecap="round" opacity="1" stroke-linecap="butt"/>
<path d="M626.5 387.5 L630.5 387.5" fill="none" stroke="#ffa500" stroke-width="3" stroke-linejoin="round" stroke-linecap="round" opacity="1" stroke-linecap="butt"/>
<path d="M715.5 387.5 L719.5 387.5" fill="none" stroke="#ffa500" stroke-width="3" stroke-linejoin="round" stroke-linecap="round" opacity="1" stroke-linecap="butt"/>
<path d="M776 387.5 L783 387.5" fill="none" stroke="#ffa500" stroke-width="3" stroke-linejoin="round" stroke-linecap="round" opacity="1" stroke-linecap="butt"/>
</g>
<clipPath id="c30"><rect x="71.5" y="522.5" width="323" height="103"/></clipPath>
<g clip-path="url(#c30)">
<path d="M94.99 578.94L96.49 580.44L94.99 581.94L93.49 580.44ZM95.21 557.67L96.71 559.17L95.21 560.67L93.71 559.17ZM95.6 575.83L97.1 577.33L95.6 578.83L94.1 577.33ZM93.9 573.07L95.4 574.57L93.9 576.07L92.4 574.57ZM89.81 579.6L91.31 581.1L89.81 582.6L88.31 581.1ZM93.06 567.17L94.56 568.67L93.06 570.17L91.56 568.67ZM91.71 576.99L93.21 578.49L91.71 579.99L90.21 578.49ZM94.58 579.6L96.08 581.1L94.58 582.6L93.08 581.1ZM90.89 563.71L92.39 565.21L90.89 566.71L89.39 565.21ZM91.12 556.51L92.62 558.01L91.12 559.51L89.62 558.01ZM91.63 554.28L93.13 555.78L91.63 557.28L90.13 555.78ZM94.68 560.31L96.18 561.81L94.68 563.31L93.18 561.81ZM89.96 555.53L91.46 557.03L89.96 558.53L88.46 557.03ZM94.32 559.45L95.82 560.95L94.32 562.45L92.82 560.95ZM92.5 565.56L94 567.06L92.5 568.56L91 567.06ZM94.72 582.12L96.22 583.62L94.72 585.12L93.22 583.62ZM91.51 572.47L93.01 573.97L91.51 575.47L90.01 573.97ZM95.32 567.61L96.82 569.11L95.32 570.61L93.82 569.11Z" fill="none" stroke="#5050ff" stroke-width="0.7" opacity="0.3"/>
<path d="M93.2 581.46 L93.9 580.98 L94.6 580.65 L95.3 580.15 L96 580.73 L96.7 581.42 L97.4 581.53 L97.6 581.5 L97.6 589.22 L97.4 589.22 L96.7 589.12 L96 589.4 L95.3 589.53 L94.6 589.25 L93.9 589.29 L93.2 589.31Z" fill="#0000ff" opacity="1"/>
<path d="M101.8 589 L102.2 575 L103.5 570 L105 563 L106 559.5" fill="none" stroke="#0000ff" stroke-width="3.2" stroke-linejoin="round" stroke-linecap="round" opacity="1" />
<path d="M105.5 557.19 L106.3 556.76 L107.1 555.84 L107.9 557.39 L108.7 558.32 L109.5 559.81 L110.3 560.69 L111.1 560.16 L111.9 560.77 L112.7 560.68 L113.5 560.19 L114.3 560.37 L115.1 560.3 L115.9 560.36 L116.7 560.35 L117.5 560.72 L118.3 560.58 L119.1 561.33 L119.9 560.77 L120.7 560.9 L121.5 561.23 L122.3 560.86 L123.1 561.67 L123.9 561.41 L124.7 561.85 L125.5 561.67 L126.3 561.95 L127.1 561.79 L127.9 561.85 L128.7 561.68 L129.5 561.7 L130.3 562.52 L131.1 561.83 L131.9 562.25 L132.7 562.77 L133.5 562.72 L134.3 562.3 L135.1 562.05 L135.9 562.6 L136.7 562.38 L137.5 562.19 L138.3 562.65 L139.1 562.72 L139.9 562.77 L140.7 562.93 L141.5 562.5 L142.3 562.53 L143.1 562.24 L143.9 562.37 L144.7 562.09 L145.5 562.35 L146.3 562.95 L147.1 562.12 L147.9 562.49 L148.7 562.64 L149.5 562.5 L150.3 563.04 L151.1 562.9 L151.9 562.98 L152.7 562.85 L153.5 562.65 L154.3 562.27 L155.1 562.55 L155.9 562.46 L156.7 563.14 L157.5 563.04 L158.3 562.99 L159.1 562.5 L159.9 562.5 L160.7 562.84 L161.5 562.81 L162.3 563.17 L163.1 563.3 L163.9 563.41 L164.7 563.04 L165.5 563.45 L166.3 563.09 L167.1 563.24 L167.9 563.61 L168.7 563.24 L169.5 562.94 L170.3 562.87 L171.1 563.52 L171.9 563.25 L172.7 562.9 L173.5 562.97 L174.3 563.15 L175.1 562.72 L175.9 563.37 L176.7 563.45 L177.5 563.44 L178.3 563.14 L179.1 563.06 L179.9 563.3 L180.7 563.26 L181.5 562.73 L182.3 563.18 L183.1 563.55 L183.9 562.86 L184.7 563.51 L185.5 563.64 L186.3 563.43 L187.1 563.11 L187.9 563.37 L188.7 563.27 L189.5 563.33 L190.3 563.17 L191.1 563.83 L191.9 563.9 L192.7 563.51 L193.5 563.87 L194.3 563.61 L195.1 563.89 L195.9 563.9 L196.7 564.26 L197.5 563.46 L198.3 564.28 L199.1 563.95 L199.9 563.8 L200.7 563.27 L201.5 563.14 L202.3 563.54 L203.1 563.51 L203.9 563.31 L204.7 563.38 L205.5 563.84 L206.3 563.14 L207.1 563.55 L207.9 563.29 L208.7 563.48 L209.5 563.44 L210.3 563.51 L211.1 563.35 L211.9 563.66 L212.7 562.96 L213.5 563.6 L214.3 563.1 L215.1 563.41 L215.9 563.76 L216.7 563.46 L217.5 562.9 L218.3 563 L219.1 563.07 L219.9 563 L220.7 563.04 L221.5 563.75 L222.3 563.51 L223.1 563.64 L223.9 563.47 L224.7 563.77 L225.5 563.58 L226.3 563.45 L227.1 563.57 L227.9 563.36 L228.7 563.35 L229.5 563.83 L230.3 563.58 L231.1 563.76 L231.9 563.37 L232.7 563.55 L233.5 563.76 L234.3 563.6 L235.1 563.57 L235.9 563.19 L236.7 563.61 L237.5 563.19 L238.3 563.18 L239.1 563.47 L239.9 563.36 L240.7 562.79 L241.5 563.02 L242.3 562.88 L243.1 563.28 L243.9 562.85 L244.7 563.12 L245.5 563.31 L246.3 562.92 L247.1 562.8 L247.9 563.18 L248.7 563.3 L249.5 563.44 L250.3 563.37 L251.1 562.87 L251.9 562.89 L252.7 563.29 L253.5 563 L254.3 563.6 L255.1 563.33 L255.9 563.21 L256.7 563.74 L257.5 563.43 L258.3 563.44 L259.1 563.48 L259.9 563.22 L260.7 563.76 L261.5 563.22 L262.3 563.57 L263.1 562.92 L263.9 563.19 L264.7 563.4 L265.5 563.37 L266.3 563.1 L267.1 563.5 L267.9 563.3 L268.7 563.22 L269.5 563.41 L270.3 563.27 L271.1 563.24 L271.9 563.1 L272.7 562.7 L273.5 563.16 L274.3 562.96 L275.1 563.33 L275.9 563.17 L276.7 562.68 L277.5 562.89 L278.3 562.67 L279.1 563.17 L279.9 563.03 L280.7 563.36 L281.5 563.28 L282.3 563.41 L283.1 563.19 L283.9 563.1 L284.7 562.95 L285.5 562.73 L286.3 563.18 L287.1 563.33 L287.9 563.5 L288.7 563.38 L289.5 563.17 L290.3 563.47 L291.1 562.88 L291.9 563.63 L292.7 563.25 L293.5 563.43 L294.3 563.4 L295.1 562.83 L295.9 563.31 L296.7 563.05 L297.5 563.21 L298.3 563.37 L299.1 563.14 L299.9 563.18 L300.7 563.45 L301.5 562.57 L302.3 562.78 L303.1 562.93 L303.9 563.16 L304.7 562.66 L305.5 562.67 L306.3 562.68 L307.1 562.75 L307.9 562.69 L308.7 562.74 L309.5 563.04 L310.3 562.55 L311.1 562.6 L311.9 562.65 L312.7 562.77 L313.5 562.66 L314.3 562.85 L315.1 562.31 L315.9 562.61 L316.7 562.65 L317.5 562.37 L318.3 562.56 L319.1 562.46 L319.9 562.47 L320.7 563.2 L321.5 562.81 L322.3 562.57 L323.1 562.4 L323.9 562.34 L324.7 563.1 L325.5 563.03 L326.3 562.5 L327.1 562.87 L327.9 562.73 L328.7 562.12 L329.5 561.99 L330.3 562.12 L331.1 561.95 L331.9 562.08 L332.7 562.61 L333.5 562.15 L334.3 561.83 L335.1 561.93 L335.9 561.82 L336.7 562.32 L337.5 562.21 L338.3 561.69 L339.1 561.8 L339.9 562.21 L340.7 561.54 L341.5 561.93 L342.3 562.37 L343.1 561.72 L343.9 562.08 L344.7 562.1 L345.5 561.83 L346.3 561.96 L347.1 561.62 L347.9 562.01 L348.7 562.3 L349.5 562.17 L350.3 562.42 L351.1 561.94 L351.9 562.18 L352.7 562.32 L353.5 562.51 L354.3 562.28 L355.1 562 L355.9 561.92 L356.7 561.77 L357.5 561.67 L358.3 561.81 L359.1 561.99 L359.9 561.5 L360.7 562.23 L361.5 561.82 L362.3 562.05 L363.1 561.86 L363.9 562.01 L364.7 561.96 L365.5 561.62 L366.3 561.62 L367.1 562.03 L367.9 561.84 L368.7 561.3 L369.5 561.49 L370.3 561.26 L371.1 561.3 L371.9 561.44 L372.7 561.62 L373.5 561.9 L374.3 561.35 L375.1 561.48 L375.4 561.89 L375.4 568.34 L375.1 568.24 L374.3 567.71 L373.5 568.14 L372.7 567.99 L371.9 568.14 L371.1 567.76 L370.3 567.84 L369.5 567.77 L368.7 568.11 L367.9 567.65 L367.1 568.48 L366.3 568.42 L365.5 568.1 L364.7 568.16 L363.9 568.29 L363.1 567.94 L362.3 568.62 L361.5 568.02 L360.7 568.29 L359.9 568.12 L359.1 568.59 L358.3 568.75 L357.5 568.75 L356.7 568.33 L355.9 568.2 L355.1 568.64 L354.3 568.86 L353.5 568.84 L352.7 568.51 L351.9 568.64 L351.1 568.55 L350.3 568.35 L349.5 568.82 L348.7 568.73 L347.9 568.77 L347.1 568.48 L346.3 568.17 L345.5 568.39 L344.7 568.67 L343.9 568.19 L343.1 568.78 L342.3 568.67 L341.5 568.44 L340.7 568.33 L339.9 568.21 L339.1 568.38 L338.3 568.26 L337.5 568.74 L336.7 568.95 L335.9 568.54 L335.1 568.58 L334.3 568.33 L333.5 568.8 L332.7 569.13 L331.9 568.55 L331.1 569.12 L330.3 568.69 L329.5 568.88 L328.7 569.31 L327.9 569.4 L327.1 568.88 L326.3 568.77 L325.5 568.76 L324.7 569.03 L323.9 569.05 L323.1 568.95 L322.3 569.27 L321.5 569.55 L320.7 569.61 L319.9 569.28 L319.1 568.98 L318.3 569.06 L317.5 569.68 L316.7 568.83 L315.9 568.89 L315.1 569.53 L314.3 569.18 L313.5 569.45 L312.7 569.51 L311.9 568.96 L311.1 569.46 L310.3 569.25 L309.5 569.04 L308.7 569.33 L307.9 568.91 L307.1 569.09 L306.3 568.98 L305.5 568.98 L304.7 569.12 L303.9 569.5 L303.1 569.13 L302.3 569.44 L301.5 569.65 L300.7 569.27 L299.9 569.78 L299.1 569.9 L298.3 569.89 L297.5 569.58 L296.7 569.84 L295.9 569.41 L295.1 569.62 L294.3 569.68 L293.5 570.08 L292.7 569.63 L291.9 569.93 L291.1 569.67 L290.3 569.41 L289.5 569.83 L288.7 569.61 L287.9 570.08 L287.1 570.04 L286.3 569.68 L285.5 569.36 L284.7 569.65 L283.9 569.42 L283.1 569.52 L282.3 569.18 L281.5 569.07 L280.7 569.46 L279.9 569.92 L279.1 569.68 L278.3 569.09 L277.5 569.33 L276.7 569.73 L275.9 569.54 L275.1 569.32 L274.3 569.88 L273.5 569.7 L272.7 569.75 L271.9 569.07 L271.1 569.59 L270.3 569.86 L269.5 570 L268.7 569.96 L267.9 569.55 L267.1 569.4 L266.3 569.7 L265.5 569.85 L264.7 569.33 L263.9 569.83 L263.1 569.55 L262.3 570.12 L261.5 569.63 L260.7 569.98 L259.9 569.55 L259.1 569.99 L258.3 570.06 L257.5 569.38 L256.7 569.71 L255.9 569.58 L255.1 569.69 L254.3 570.12 L253.5 569.63 L252.7 569.45 L251.9 570.06 L251.1 569.54 L250.3 570.05 L249.5 569.35 L248.7 570.06 L247.9 569.55 L247.1 569.94 L246.3 569.96 L245.5 569.6 L244.7 569.49 L243.9 569.83 L243.1 569.28 L242.3 569.41 L241.5 570.1 L240.7 569.72 L239.9 569.31 L239.1 569.37 L238.3 569.97 L237.5 569.99 L236.7 570.12 L235.9 569.64 L235.1 570.17 L234.3 569.8 L233.5 569.96 L232.7 570.24 L231.9 570.34 L231.1 569.99 L230.3 569.98 L229.5 570.48 L228.7 570.12 L227.9 570.29 L227.1 569.9 L226.3 569.81 L225.5 570.01 L224.7 570.07 L223.9 569.8 L223.1 570.03 L222.3 569.85 L221.5 569.99 L220.7 570.01 L219.9 570.05 L219.1 569.97 L218.3 570.13 L217.5 569.68 L216.7 570.17 L215.9 569.4 L215.1 569.95 L214.3 569.44 L213.5 570.12 L212.7 569.91 L211.9 569.99 L211.1 569.35 L210.3 570.24 L209.5 570.02 L208.7 570.02 L207.9 570.06 L207.1 569.48 L206.3 569.56 L205.5 570.13 L204.7 570.38 L203.9 570.16 L203.1 569.66 L202.3 569.69 L201.5 570.31 L200.7 569.86 L199.9 569.65 L199.1 569.36 L198.3 569.62 L197.5 569.98 L196.7 569.61 L195.9 569.23 L195.1 569.68 L194.3 569.22 L193.5 569.21 L192.7 569.82 L191.9 568.96 L191.1 569.19 L190.3 568.78 L189.5 568.81 L188.7 569.07 L187.9 568.78 L187.1 569.22 L186.3 568.63 L185.5 568.95 L184.7 569.02 L183.9 569 L183.1 568.5 L182.3 568.52 L181.5 568.98 L180.7 568.62 L179.9 568.46 L179.1 569.16 L178.3 568.59 L177.5 568.9 L176.7 568.63 L175.9 568.4 L175.1 568.89 L174.3 568.81 L173.5 569.12 L172.7 568.58 L171.9 568.7 L171.1 568.84 L170.3 568.63 L169.5 568.64 L168.7 568.64 L167.9 568.47 L167.1 568.91 L166.3 568.91 L165.5 568.84 L164.7 569.1 L163.9 568.49 L163.1 568.45 L162.3 569.11 L161.5 568.76 L160.7 568.37 L159.9 568.75 L159.1 569.05 L158.3 568.71 L157.5 568.21 L156.7 568.71 L155.9 568.89 L155.1 568.03 L154.3 568.31 L153.5 568.21 L152.7 568.69 L151.9 568.71 L151.1 568.61 L150.3 568.03 L149.5 568.58 L148.7 568.63 L147.9 567.81 L147.1 568.08 L146.3 568.17 L145.5 567.79 L144.7 568.4 L143.9 568.62 L143.1 568.39 L142.3 567.9 L141.5 567.98 L140.7 567.8 L139.9 568.67 L139.1 568.66 L138.3 568.32 L137.5 568.37 L136.7 568.24 L135.9 568.58 L135.1 568.32 L134.3 568.18 L133.5 567.89 L132.7 567.78 L131.9 567.83 L131.1 567.84 L130.3 567.97 L129.5 568.25 L128.7 567.6 L127.9 567.33 L127.1 567.77 L126.3 567.32 L125.5 567.34 L124.7 566.92 L123.9 567.07 L123.1 567.23 L122.3 567.36 L121.5 567.19 L120.7 566.58 L119.9 566.9 L119.1 567.04 L118.3 566.55 L117.5 566.57 L116.7 566.72 L115.9 566.53 L115.1 566.12 L114.3 566.1 L113.5 566.25 L112.7 565.93 L111.9 566.19 L111.1 565.81 L110.3 565.78 L109.5 565.76 L108.7 564.42 L107.9 563.03 L107.1 561.48 L106.3 562.41 L105.5 562.45Z" fill="#0000ff" opacity="1"/>
<path d="M111.85 566 L113.4 550.8 L114.8 550.8 L116.35 566Z" fill="#0000ff" opacity="1"/>
<path d="M117.8 566 L119.6 548.9 L121 548.9 L122.8 566Z" fill="#0000ff" opacity="1"/>
<path d="M130.5 566 L131.8 558 L133.2 558 L134.5 566Z" fill="#0000ff" opacity="1"/>
<path d="M151.5 566 L153.3 556 L154.7 556 L156.5 566Z" fill="#0000ff" opacity="1"/>
<path d="M187.25 566 L188.3 556 L189.7 556 L190.75 566Z" fill="#0000ff" opacity="1"/>
<path d="M219.45 566 L220.5 551.8 L221.9 551.8 L222.95 566Z" fill="#0000ff" opacity="1"/>
<path d="M225.85 566 L226.9 549 L228.3 549 L229.35 566Z" fill="#0000ff" opacity="1"/>
<path d="M232.65 566 L233.7 553 L235.1 553 L236.15 566Z" fill="#0000ff" opacity="1"/>
<path d="M272.55 566 L273.6 552 L275 552 L276.05 566Z" fill="#0000ff" opacity="1"/>
<path d="M290.1 566 L290.9 557 L292.3 557 L293.1 566Z" fill="#0000ff" opacity="1"/>
<path d="M297.2 566 L298 556 L299.4 556 L300.2 566Z" fill="#0000ff" opacity="1"/>
<path d="M317.75 566 L318.8 553 L320.2 553 L321.25 566Z" fill="#0000ff" opacity="1"/>
<path d="M332.45 566 L333.5 553 L334.9 553 L335.95 566Z" fill="#0000ff" opacity="1"/>
<path d="M375.4 566 L375.4 589" fill="none" stroke="#7070ff" stroke-width="2.8" stroke-linejoin="round" stroke-linecap="round" opacity="0.3" />
<path d="M319.5 553 L319.5 531.5" fill="none" stroke="#7070ff" stroke-width="2.2" stroke-linejoin="round" stroke-linecap="round" opacity="0.45" />
<path d="M340.23 555.19L341.73 556.69L340.23 558.19L338.73 556.69ZM123.2 558.09L124.7 559.59L123.2 561.09L121.7 559.59ZM169.74 553.54L171.24 555.04L169.74 556.54L168.24 555.04ZM169.1 555.91L170.6 557.41L169.1 558.91L167.6 557.41ZM182.83 553.89L184.33 555.39L182.83 556.89L181.33 555.39ZM317.62 558.11L319.12 559.61L317.62 561.11L316.12 559.61ZM299.47 556.28L300.97 557.78L299.47 559.28L297.97 557.78ZM102.28 556.7L103.78 558.2L102.28 559.7L100.78 558.2ZM190.88 552.29L192.38 553.79L190.88 555.29L189.38 553.79ZM315.37 553.67L316.87 555.17L315.37 556.67L313.87 555.17ZM374.84 559.08L376.34 560.58L374.84 562.08L373.34 560.58ZM308.91 557.91L310.41 559.41L308.91 560.91L307.41 559.41ZM213.64 554.06L215.14 555.56L213.64 557.06L212.14 555.56ZM186.24 556.99L187.74 558.49L186.24 559.99L184.74 558.49ZM120.06 552.69L121.56 554.19L120.06 555.69L118.56 554.19ZM221.63 557.19L223.13 558.69L221.63 560.19L220.13 558.69ZM220.64 558.18L222.14 559.68L220.64 561.18L219.14 559.68ZM231.37 548.27L232.87 549.77L231.37 551.27L229.87 549.77ZM149.17 548.99L150.67 550.49L149.17 551.99L147.67 550.49ZM212.53 552.48L214.03 553.98L212.53 555.48L211.03 553.98ZM282.41 553.29L283.91 554.79L282.41 556.29L280.91 554.79ZM258.65 557.05L260.15 558.55L258.65 560.05L257.15 558.55ZM167.65 548.27L169.15 549.77L167.65 551.27L166.15 549.77ZM122.04 555.26L123.54 556.76L122.04 558.26L120.54 556.76ZM201.83 547.35L203.33 548.85L201.83 550.35L200.33 548.85ZM103.67 548.18L105.17 549.68L103.67 551.18L102.17 549.68ZM273.06 551.7L274.56 553.2L273.06 554.7L271.56 553.2ZM229.72 550.98L231.22 552.48L229.72 553.98L228.22 552.48ZM136.15 556.56L137.65 558.06L136.15 559.56L134.65 558.06ZM301.02 550.49L302.52 551.99L301.02 553.49L299.52 551.99ZM156.46 554.02L157.96 555.52L156.46 557.02L154.96 555.52ZM281.55 552.65L283.05 554.15L281.55 555.65L280.05 554.15ZM106.04 554.53L107.54 556.03L106.04 557.53L104.54 556.03ZM264.83 557.59L266.33 559.09L264.83 560.59L263.33 559.09ZM192.94 553.31L194.44 554.81L192.94 556.31L191.44 554.81ZM179.19 553.05L180.69 554.55L179.19 556.05L177.69 554.55ZM318.22 556.91L319.72 558.41L318.22 559.91L316.72 558.41ZM323.04 552.42L324.54 553.92L323.04 555.42L321.54 553.92ZM131.9 559.23L133.4 560.73L131.9 562.23L130.4 560.73ZM358.41 557.26L359.91 558.76L358.41 560.26L356.91 558.76ZM106.94 558.57L108.44 560.07L106.94 561.57L105.44 560.07ZM149.59 553.82L151.09 555.32L149.59 556.82L148.09 555.32ZM209.01 553.29L210.51 554.79L209.01 556.29L207.51 554.79ZM133.77 559.45L135.27 560.95L133.77 562.45L132.27 560.95ZM244.29 554.64L245.79 556.14L244.29 557.64L242.79 556.14ZM205.73 544.58L207.23 546.08L205.73 547.58L204.23 546.08ZM220.15 557.33L221.65 558.83L220.15 560.33L218.65 558.83ZM188.81 543.85L190.31 545.35L188.81 546.85L187.31 545.35ZM278.37 556.53L279.87 558.03L278.37 559.53L276.87 558.03ZM308.47 554.29L309.97 555.79L308.47 557.29L306.97 555.79ZM176.94 558.14L178.44 559.64L176.94 561.14L175.44 559.64ZM223.91 558.38L225.41 559.88L223.91 561.38L222.41 559.88ZM341.21 557.62L342.71 559.12L341.21 560.62L339.71 559.12ZM310.54 553.31L312.04 554.81L310.54 556.31L309.04 554.81ZM176.22 555.33L177.72 556.83L176.22 558.33L174.72 556.83ZM217.4 553.55L218.9 555.05L217.4 556.55L215.9 555.05ZM359.02 555.96L360.52 557.46L359.02 558.96L357.52 557.46ZM254.79 556.84L256.29 558.34L254.79 559.84L253.29 558.34ZM214.88 553.14L216.38 554.64L214.88 556.14L213.38 554.64ZM352.71 558.13L354.21 559.63L352.71 561.13L351.21 559.63Z" fill="none" stroke="#5050ff" stroke-width="0.7" opacity="0.22"/>
<path d="M183.57 572.9L185.07 574.4L183.57 575.9L182.07 574.4ZM117.41 570.74L118.91 572.24L117.41 573.74L115.91 572.24ZM355.06 570.12L356.56 571.62L355.06 573.12L353.56 571.62ZM297.58 569.65L299.08 571.15L297.58 572.65L296.08 571.15ZM105.34 568.98L106.84 570.48L105.34 571.98L103.84 570.48ZM230.65 568.97L232.15 570.47L230.65 571.97L229.15 570.47ZM104.36 569.15L105.86 570.65L104.36 572.15L102.86 570.65ZM122.49 569.81L123.99 571.31L122.49 572.81L120.99 571.31ZM124.99 569.15L126.49 570.65L124.99 572.15L123.49 570.65ZM137.8 572.04L139.3 573.54L137.8 575.04L136.3 573.54ZM326.63 570.14L328.13 571.64L326.63 573.14L325.13 571.64ZM166.51 569.02L168.01 570.52L166.51 572.02L165.01 570.52ZM331.73 573.8L333.23 575.3L331.73 576.8L330.23 575.3ZM126.93 569.41L128.43 570.91L126.93 572.41L125.43 570.91ZM360.7 572.02L362.2 573.52L360.7 575.02L359.2 573.52ZM338.26 570.44L339.76 571.94L338.26 573.44L336.76 571.94ZM127.72 573.16L129.22 574.66L127.72 576.16L126.22 574.66ZM262.18 569.91L263.68 571.41L262.18 572.91L260.68 571.41ZM299 568.32L300.5 569.82L299 571.32L297.5 569.82ZM151.51 572.12L153.01 573.62L151.51 575.12L150.01 573.62ZM220.64 568.55L222.14 570.05L220.64 571.55L219.14 570.05ZM182.54 572.71L184.04 574.21L182.54 575.71L181.04 574.21ZM175.85 568.56L177.35 570.06L175.85 571.56L174.35 570.06ZM321.13 568.82L322.63 570.32L321.13 571.82L319.63 570.32ZM236.83 567.76L238.33 569.26L236.83 570.76L235.33 569.26Z" fill="none" stroke="#5050ff" stroke-width="0.7" opacity="0.25"/>
</g>
<clipPath id="c31"><rect x="473.5" y="522.5" width="323" height="103"/></clipPath>
<g clip-path="url(#c31)">
<path d="M487.2 569.59 L488 569.4 L488.8 569.67 L489.6 569.01 L490.4 569.49 L491.2 569.09 L492 569.7 L492.8 569.21 L493.6 569.27 L494.4 569.39 L495.2 569.44 L496 569.07 L496.8 569.06 L497.6 569.03 L498.4 569.06 L499.2 569.1 L500 569.01 L500.8 569.12 L501.6 569.5 L502.4 569.63 L503.2 568.42 L504 568.59 L504.8 568.13 L505.6 567.92 L506.4 568.4 L507.2 568.24 L508 567.94 L508.8 568.4 L509.6 568.64 L510.4 568.23 L511.2 567.91 L512 568.41 L512.8 568.55 L513.6 568.22 L514.4 568.35 L515.2 568.44 L516 568.33 L516.8 568.24 L517.6 568.64 L518.4 568.41 L519.2 567.97 L520 568.06 L520.8 568.25 L521.6 568.65 L522.4 568.15 L523.2 568.38 L524 568.02 L524.8 568.63 L525.6 568.16 L526.4 568.64 L527.2 568.65 L528 568.18 L528.8 568.32 L529.6 568.53 L530.4 568.02 L531.2 568.1 L532 568.03 L532.8 568.15 L533.6 568.22 L534.4 567.89 L535.2 568.24 L536 568.59 L536.8 568.48 L537.6 568.66 L538.4 567.97 L539.2 568.09 L540 568.48 L540.8 568.42 L541.6 568.38 L542.4 568.2 L543.2 567.87 L544 567.87 L544.8 567.96 L545.6 568.22 L546.4 568.04 L547.2 568.49 L548 568.22 L548.8 568.26 L549.6 568.04 L550.4 568.28 L551.2 568.45 L552 568.04 L552.8 568.3 L553.6 568.12 L554.4 568.22 L555.2 568.07 L556 568.4 L556.8 568.57 L557.6 568.06 L558.4 568.51 L559.2 568.55 L560 568.53 L560.8 568.44 L561.6 568.43 L562.4 567.89 L563.2 568.04 L564 568.19 L564.8 567.88 L565.6 568.63 L566.4 568.38 L567.2 568.29 L568 568.62 L568.8 568.39 L569.6 567.91 L570.4 568.46 L571.2 568.34 L572 568.49 L572.8 568.17 L573.6 568.39 L574.4 568.01 L575.2 568.35 L576 567.99 L576.8 568.25 L577.6 568.52 L578.4 568.14 L579.2 567.88 L580 568.6 L580.8 568.43 L581.6 567.95 L582.4 568.22 L583.2 568.47 L584 568.28 L584.8 568.47 L585.6 568.58 L586.4 568.52 L587.2 568.19 L588 567.98 L588.8 568.12 L589.6 568.51 L590.4 568 L591.2 567.87 L592 568.29 L592.8 568.33 L593.6 567.9 L594.4 568.17 L595.2 568.51 L596 567.99 L596.8 568.13 L597.6 567.84 L598.4 567.98 L599.2 568.35 L600 568.27 L600.8 568.57 L601.6 568.29 L602.4 568.22 L603.2 568.36 L604 568.58 L604.8 568.53 L605.6 568.05 L606.4 567.82 L607.2 567.83 L608 568.03 L608.8 568.11 L609.6 567.85 L610.4 568.12 L611.2 568.37 L612 567.85 L612.8 568.56 L613.6 567.79 L614.4 568.42 L615.2 567.87 L616 568.12 L616.8 568.25 L617.6 568.58 L618.4 568.54 L619.2 568.5 L620 567.91 L620.8 568.55 L621.6 568.19 L622.4 568.46 L623.2 567.94 L624 567.88 L624.8 568.36 L625.6 568.21 L626.4 568.12 L627.2 568.17 L628 567.78 L628.8 568.56 L629.6 568.32 L630.4 568.24 L631.2 567.83 L632 567.87 L632.8 567.99 L633.6 568.33 L634.4 568.4 L635.2 568.09 L636 568.43 L636.8 567.91 L637.6 567.78 L638.4 568.4 L639.2 567.98 L640 568.04 L640.8 568.15 L641.6 567.82 L642.4 568.03 L643.2 568.16 L644 568.1 L644.8 568.22 L645.6 568.21 L646.4 568.27 L647.2 568.21 L648 567.78 L648.8 568.54 L649.6 568.24 L650.4 568.08 L651.2 568.36 L652 567.85 L652.8 568.32 L653.6 568.29 L654.4 567.83 L655.2 568.35 L656 567.99 L656.8 568.17 L657.6 568.36 L658.4 567.85 L659.2 568.45 L660 567.75 L660.8 568.17 L661.6 568.49 L662.4 568.48 L663.2 568.01 L664 567.82 L664.8 568.04 L665.6 568.06 L666.4 568.33 L667.2 567.95 L668 568.35 L668.8 568.07 L669.6 568.18 L670.4 568.38 L671.2 568.27 L672 567.77 L672.8 568.04 L673.6 568.2 L674.4 568.02 L675.2 568.5 L676 568.08 L676.8 568.28 L677.6 567.8 L678.4 568.32 L679.2 568.3 L680 568.4 L680.8 568.17 L681.6 568.39 L682.4 568.41 L683.2 568.25 L684 567.91 L684.8 568.14 L685.6 567.9 L686.4 568.17 L687.2 568.31 L688 568.09 L688.8 568.21 L689.6 568.4 L690.4 568.22 L691.2 568.14 L692 568.34 L692.8 568.24 L693.6 568.07 L694.4 567.94 L695.2 568.45 L696 568.33 L696.8 568.06 L697.6 568.3 L698.4 568.28 L699.2 567.87 L700 567.94 L700.8 567.97 L701.6 568.46 L702.4 568.29 L703.2 567.83 L704 568.15 L704.8 567.7 L705.6 568.21 L706.4 567.7 L707.2 567.8 L708 567.96 L708.8 567.77 L709.6 568.39 L710.4 567.83 L711.2 567.96 L712 568.24 L712.8 568.4 L713.6 568.43 L714.4 568.18 L715.2 568.11 L716 568.26 L716.8 567.95 L717.6 568.05 L718.4 567.75 L719.2 568.31 L720 568.04 L720.8 568 L721.6 567.73 L722.4 568.41 L723.2 568.42 L724 568.32 L724.8 567.81 L725.6 568.2 L726.4 567.88 L727.2 567.88 L728 568.1 L728.8 567.9 L729.6 568.32 L730.4 568.1 L731.2 568.11 L732 567.97 L732.8 567.77 L733.6 568.15 L734.4 567.72 L735.2 567.8 L736 567.78 L736.8 568.31 L737.6 568.32 L738.4 568.14 L739.2 567.97 L740 567.83 L740.8 567.76 L741.6 568.14 L742.4 567.78 L743.2 568.09 L744 568.26 L744.8 568.01 L745.6 568.11 L746.4 567.97 L747.2 567.67 L748 567.82 L748.8 567.68 L749.6 567.93 L750.4 568.15 L751.2 567.73 L752 568.3 L752.8 567.59 L753.6 567.71 L754.4 567.92 L755.2 568.03 L756 568.28 L756.8 568.27 L757.6 567.81 L758.4 567.7 L759.2 567.6 L760 568.34 L760.8 567.72 L761.6 567.91 L762.4 568.21 L763.2 567.61 L764 568.01 L764.8 568.11 L765.6 567.7 L766.4 568.08 L767.2 567.94 L768 568.03 L768.8 567.77 L769.6 567.87 L770.4 567.89 L771.2 568.31 L772 567.74 L772.8 567.63 L773.6 568.04 L774.4 567.65 L775.2 567.51 L776 568.27 L776.8 568.24 L776.8 568.04 L776.8 573.51 L776.8 573.76 L776 573.4 L775.2 573.82 L774.4 573.6 L773.6 573.88 L772.8 573.43 L772 573.7 L771.2 574.03 L770.4 574.08 L769.6 573.96 L768.8 573.68 L768 574.03 L767.2 573.96 L766.4 573.91 L765.6 573.87 L764.8 574.1 L764 573.72 L763.2 573.93 L762.4 573.76 L761.6 573.96 L760.8 573.46 L760 573.53 L759.2 573.39 L758.4 573.9 L757.6 573.86 L756.8 573.46 L756 574.09 L755.2 573.8 L754.4 573.79 L753.6 573.78 L752.8 573.39 L752 573.52 L751.2 573.61 L750.4 574.08 L749.6 573.66 L748.8 573.98 L748 573.7 L747.2 573.66 L746.4 573.98 L745.6 573.64 L744.8 574.03 L744 574.05 L743.2 573.66 L742.4 573.94 L741.6 573.51 L740.8 574.1 L740 574.03 L739.2 573.48 L738.4 573.73 L737.6 574.1 L736.8 573.61 L736 573.86 L735.2 573.84 L734.4 574.15 L733.6 574.16 L732.8 573.48 L732 573.74 L731.2 573.86 L730.4 573.52 L729.6 573.55 L728.8 573.68 L728 573.55 L727.2 574.06 L726.4 573.52 L725.6 574.11 L724.8 573.54 L724 573.92 L723.2 573.69 L722.4 574.11 L721.6 573.82 L720.8 574.03 L720 573.83 L719.2 573.64 L718.4 573.54 L717.6 573.6 L716.8 573.98 L716 573.59 L715.2 574.21 L714.4 573.61 L713.6 573.95 L712.8 574.25 L712 573.69 L711.2 574.02 L710.4 574.26 L709.6 573.63 L708.8 573.71 L708 573.76 L707.2 573.58 L706.4 573.69 L705.6 573.52 L704.8 574.09 L704 573.68 L703.2 573.96 L702.4 573.92 L701.6 573.63 L700.8 573.59 L700 574.21 L699.2 574.13 L698.4 573.78 L697.6 573.74 L696.8 573.76 L696 574.16 L695.2 573.71 L694.4 573.85 L693.6 573.51 L692.8 574.05 L692 573.65 L691.2 573.93 L690.4 574.07 L689.6 574.22 L688.8 573.73 L688 574.06 L687.2 574.3 L686.4 574.25 L685.6 574.24 L684.8 573.83 L684 573.84 L683.2 573.83 L682.4 573.69 L681.6 573.67 L680.8 574.25 L680 573.73 L679.2 574.15 L678.4 573.99 L677.6 573.94 L676.8 574.02 L676 573.66 L675.2 573.62 L674.4 573.8 L673.6 574.03 L672.8 573.62 L672 573.79 L671.2 574.29 L670.4 574.11 L669.6 574.18 L668.8 573.79 L668 573.81 L667.2 573.63 L666.4 574.28 L665.6 573.87 L664.8 573.62 L664 574.28 L663.2 573.92 L662.4 574.19 L661.6 574.12 L660.8 573.66 L660 574.11 L659.2 574.02 L658.4 574.23 L657.6 574.18 L656.8 573.85 L656 574.18 L655.2 573.75 L654.4 574.22 L653.6 573.59 L652.8 573.92 L652 574.3 L651.2 573.56 L650.4 573.84 L649.6 573.91 L648.8 574.13 L648 573.63 L647.2 573.85 L646.4 573.87 L645.6 574 L644.8 573.89 L644 573.66 L643.2 574.16 L642.4 574.03 L641.6 574.08 L640.8 574.01 L640 574.19 L639.2 574.16 L638.4 573.65 L637.6 573.66 L636.8 574.21 L636 573.84 L635.2 574.19 L634.4 574.01 L633.6 574.15 L632.8 574.18 L632 574.13 L631.2 573.96 L630.4 573.6 L629.6 573.67 L628.8 573.84 L628 573.75 L627.2 573.98 L626.4 574.29 L625.6 574.09 L624.8 573.77 L624 573.91 L623.2 573.68 L622.4 573.99 L621.6 573.97 L620.8 574.14 L620 574.17 L619.2 574.35 L618.4 574.38 L617.6 573.92 L616.8 574.34 L616 573.69 L615.2 574.12 L614.4 573.7 L613.6 574.18 L612.8 573.7 L612 573.81 L611.2 573.61 L610.4 574.24 L609.6 573.94 L608.8 573.61 L608 574.18 L607.2 573.66 L606.4 574.35 L605.6 573.94 L604.8 574.29 L604 573.99 L603.2 574.04 L602.4 574.25 L601.6 574.24 L600.8 574.35 L600 574.2 L599.2 574.15 L598.4 574.18 L597.6 573.69 L596.8 573.69 L596 574.21 L595.2 574.29 L594.4 574.36 L593.6 573.77 L592.8 574.38 L592 574.38 L591.2 573.88 L590.4 573.99 L589.6 573.79 L588.8 574.3 L588 573.69 L587.2 573.76 L586.4 573.74 L585.6 573.84 L584.8 574.19 L584 574.4 L583.2 574.12 L582.4 574.15 L581.6 573.9 L580.8 574.05 L580 574.18 L579.2 574.33 L578.4 573.7 L577.6 574.33 L576.8 573.89 L576 574.08 L575.2 574.36 L574.4 574.21 L573.6 574.05 L572.8 573.99 L572 573.83 L571.2 573.73 L570.4 573.73 L569.6 573.85 L568.8 573.65 L568 574.3 L567.2 574.35 L566.4 573.8 L565.6 573.9 L564.8 574.4 L564 573.84 L563.2 574.2 L562.4 573.87 L561.6 574.35 L560.8 574.05 L560 573.72 L559.2 574.25 L558.4 574.23 L557.6 574.11 L556.8 573.93 L556 573.92 L555.2 573.81 L554.4 574.13 L553.6 573.81 L552.8 574.24 L552 574.16 L551.2 574.19 L550.4 573.65 L549.6 573.83 L548.8 573.68 L548 574.26 L547.2 574.28 L546.4 573.91 L545.6 573.97 L544.8 573.68 L544 573.67 L543.2 573.96 L542.4 574.31 L541.6 574.27 L540.8 574.24 L540 574.23 L539.2 573.91 L538.4 574.29 L537.6 574.02 L536.8 574.34 L536 573.94 L535.2 574.18 L534.4 574.21 L533.6 573.82 L532.8 573.99 L532 574.15 L531.2 573.95 L530.4 574.04 L529.6 573.82 L528.8 573.86 L528 573.9 L527.2 574.27 L526.4 574.07 L525.6 573.86 L524.8 574.12 L524 573.92 L523.2 574.42 L522.4 574.23 L521.6 573.74 L520.8 574.11 L520 574.04 L519.2 573.87 L518.4 574.31 L517.6 573.81 L516.8 573.85 L516 574.47 L515.2 574.08 L514.4 573.89 L513.6 574.13 L512.8 574.44 L512 574.03 L511.2 574.02 L510.4 574.05 L509.6 574.11 L508.8 573.78 L508 574.2 L507.2 574.41 L506.4 574.03 L505.6 573.88 L504.8 573.78 L504 574.39 L503.2 574.12 L502.4 573.4 L501.6 573.46 L500.8 573.46 L500 572.82 L499.2 573.13 L498.4 573.31 L497.6 572.91 L496.8 573.18 L496 573.52 L495.2 573.17 L494.4 573.03 L493.6 573.05 L492.8 573.54 L492 573.31 L491.2 573.1 L490.4 573.47 L489.6 573.18 L488.8 573.15 L488 573.41 L487.2 572.88Z" fill="#ffa500" opacity="1"/>
<path d="M776 570.9 L782.7 570.9" fill="none" stroke="#ffa500" stroke-width="3" stroke-linejoin="round" stroke-linecap="round" opacity="1" stroke-linecap="butt"/>
<path d="M495.5 569.82 L496.2 569.09 L496.9 567.89 L497.6 567.29 L498.3 568.28 L499 569.2 L499.5 569.88 L499.5 572.03 L499 572.33 L498.3 572.29 L497.6 572.38 L496.9 572.39 L496.2 572.14 L495.5 572.24Z" fill="#ffa500" opacity="1"/>
<path d="M515.7 547.05 L516.4 546.61 L517.1 547.05 L517.8 546.45 L518.5 545.33 L518.5 595.35 L517.8 595.74 L517.1 595.74 L516.4 597.22 L515.7 596.97Z" fill="#ffa500" opacity="0.24"/>
<path d="M515.5 562.89 L516.2 563.22 L516.9 562.51 L517.6 562.85 L518.3 562.29 L518.7 562.46 L518.7 580.01 L518.3 580.37 L517.6 580.33 L516.9 580.4 L516.2 579.75 L515.5 580.2Z" fill="#ffa500" opacity="0.8"/>
<path d="M519.9 548.37 L520.6 548.73 L521.3 549.22 L522 548.37 L522.7 548.07 L522.7 594.93 L522 595.01 L521.3 595.06 L520.6 595.02 L519.9 593.67Z" fill="#ffa500" opacity="0.22"/>
<path d="M519.7 563.57 L520.4 564.04 L521.1 563.89 L521.8 563.19 L522.5 562.82 L522.9 564.13 L522.9 579.57 L522.5 578.47 L521.8 579.2 L521.1 578.82 L520.4 578.83 L519.7 578.31Z" fill="#ffa500" opacity="0.75"/>
<path d="M554.4 556.62 L555.1 555.48 L555.8 556.64 L556.5 556.69 L557.2 556.95 L557.2 586.39 L556.5 585.43 L555.8 586.95 L555.1 586.48 L554.4 587.23Z" fill="#ffa500" opacity="0.18"/>
<path d="M554.2 564.2 L554.9 563.82 L555.6 563.9 L556.3 565.14 L557 564.74 L557.4 563.8 L557.4 577.7 L557 578.72 L556.3 577.34 L555.6 577.68 L554.9 578.74 L554.2 578.1Z" fill="#ffa500" opacity="0.6"/>
<path d="M589.5 556.18 L590.2 556.58 L590.9 556.14 L591.6 555.43 L592.3 555.41 L592.3 586.13 L591.6 585.34 L590.9 586.94 L590.2 585.81 L589.5 587.05Z" fill="#ffa500" opacity="0.21"/>
<path d="M589.3 561.88 L590 562.92 L590.7 562.75 L591.4 562.43 L592.1 562.95 L592.5 562.24 L592.5 579.82 L592.1 580.34 L591.4 579.41 L590.7 580.68 L590 579.44 L589.3 580.28Z" fill="#ffa500" opacity="0.7"/>
<path d="M622.2 563.01 L622.9 563.14 L623.6 561.3 L624.3 561.7 L625 562.38 L625 579.85 L624.3 580.37 L623.6 581.15 L622.9 581.24 L622.2 580.89Z" fill="#ffa500" opacity="0.12"/>
<path d="M622 566.52 L622.7 565.83 L623.4 566.2 L624.1 566.3 L624.8 566.04 L625.2 566.69 L625.2 576.11 L624.8 575.34 L624.1 576.59 L623.4 575.6 L622.7 576.57 L622 576.14Z" fill="#ffa500" opacity="0.4"/>
<path d="M628.2 563.15 L628.9 564.01 L629.6 562.46 L630.3 563.42 L631 563.93 L631 578.48 L630.3 578.31 L629.6 579.16 L628.9 579.48 L628.2 579.12Z" fill="#ffa500" opacity="0.17"/>
<path d="M628 564.23 L628.7 565.1 L629.4 564.92 L630.1 564.09 L630.8 564.01 L631.2 563.98 L631.2 577.33 L630.8 577.85 L630.1 578.2 L629.4 578.43 L628.7 577.31 L628 577.56Z" fill="#ffa500" opacity="0.55"/>
<path d="M634.2 563.44 L634.9 563.83 L635.6 563.12 L636.3 562.34 L637 563.88 L637 579.18 L636.3 578.75 L635.6 578.52 L634.9 579.69 L634.2 578.45Z" fill="#ffa500" opacity="0.12"/>
<path d="M634 565.82 L634.7 566.81 L635.4 566.83 L636.1 566.59 L636.8 567.06 L637.2 566.7 L637.2 576.24 L636.8 575.45 L636.1 575.58 L635.4 576.49 L634.7 575.79 L634 576.35Z" fill="#ffa500" opacity="0.4"/>
<path d="M674.1 560.39 L674.8 559.46 L675.5 561.09 L676.2 559.81 L676.9 559.96 L676.9 582.25 L676.2 582.82 L675.5 582.52 L674.8 581.56 L674.1 582.04Z" fill="#ffa500" opacity="0.14"/>
<path d="M673.9 565.59 L674.6 565.27 L675.3 565.39 L676 565.67 L676.7 566.02 L677.1 565.6 L677.1 576.63 L676.7 576.79 L676 577.14 L675.3 577.79 L674.6 577.64 L673.9 577.12Z" fill="#ffa500" opacity="0.45"/>
<path d="M690.9 558.04 L691.6 557.82 L692.3 558.8 L693 557.92 L693.7 557.3 L693.7 585.03 L693 584.6 L692.3 584.17 L691.6 585.18 L690.9 584.08Z" fill="#ffa500" opacity="0.1"/>
<path d="M690.7 566.99 L691.4 566.78 L692.1 565.82 L692.8 567.2 L693.5 566.84 L693.9 566.59 L693.9 575.41 L693.5 575.3 L692.8 576.3 L692.1 576.69 L691.4 576.25 L690.7 576.42Z" fill="#ffa500" opacity="0.35"/>
<path d="M720 553.23 L720.7 552.44 L721.4 553.25 L722.1 552.25 L722.8 552.03 L722.8 590.02 L722.1 591.22 L721.4 590.13 L720.7 591.01 L720 589.7Z" fill="#ffa500" opacity="0.24"/>
<path d="M719.8 561.37 L720.5 561.49 L721.2 561.91 L721.9 561.13 L722.6 562.29 L723 561.93 L723 581.21 L722.6 580.75 L721.9 580.35 L721.2 581.05 L720.5 581.62 L719.8 580.78Z" fill="#ffa500" opacity="0.8"/>
<path d="M764.7 557.68 L765.4 559.08 L766.1 557.74 L766.8 558.52 L767.5 558.25 L767.5 585.14 L766.8 585.14 L766.1 585.28 L765.4 584.18 L764.7 584.14Z" fill="#ffa500" opacity="0.15"/>
<path d="M764.5 564.2 L765.2 564.25 L765.9 565.09 L766.6 565.25 L767.3 564.05 L767.7 564.29 L767.7 577.33 L767.3 578.1 L766.6 578.68 L765.9 577.7 L765.2 577.77 L764.5 578.25Z" fill="#ffa500" opacity="0.5"/>
<path d="M676.09 572.57L677.49 573.97L676.09 575.37L674.69 573.97ZM773.64 568.82L775.04 570.22L773.64 571.62L772.24 570.22ZM721.44 568.38L722.84 569.78L721.44 571.18L720.04 569.78ZM693.62 545.04L695.02 546.44L693.62 547.84L692.22 546.44ZM722.17 540.32L723.57 541.72L722.17 543.12L720.77 541.72ZM746.31 568.84L747.71 570.24L746.31 571.64L744.91 570.24ZM644.1 578.78L645.5 580.18L644.1 581.58L642.7 580.18ZM639.68 571.61L641.08 573.01L639.68 574.41L638.28 573.01ZM523.66 560.3L525.06 561.7L523.66 563.1L522.26 561.7ZM775.03 558.56L776.43 559.96L775.03 561.36L773.63 559.96ZM691.22 525.78L692.62 527.18L691.22 528.58L689.82 527.18ZM658.49 585.38L659.89 586.78L658.49 588.18L657.09 586.78ZM769.38 568.63L770.78 570.03L769.38 571.43L767.98 570.03ZM521.69 581.62L523.09 583.02L521.69 584.42L520.29 583.02ZM555.3 584.58L556.7 585.98L555.3 587.38L553.9 585.98ZM507.49 565.58L508.89 566.98L507.49 568.38L506.09 566.98ZM633.88 571.77L635.28 573.17L633.88 574.57L632.48 573.17ZM578.17 575.95L579.57 577.35L578.17 578.75L576.77 577.35ZM692.34 575.27L693.74 576.67L692.34 578.07L690.94 576.67ZM592.16 557.18L593.56 558.58L592.16 559.98L590.76 558.58ZM602.46 586.18L603.86 587.58L602.46 588.98L601.06 587.58ZM589.6 582.61L591 584.01L589.6 585.41L588.2 584.01ZM521.78 574.52L523.18 575.92L521.78 577.32L520.38 575.92ZM766.37 573.88L767.77 575.28L766.37 576.68L764.97 575.28ZM515.39 569.11L516.79 570.51L515.39 571.91L513.99 570.51ZM516.81 564.01L518.21 565.41L516.81 566.81L515.41 565.41ZM643.49 553.33L644.89 554.73L643.49 556.13L642.09 554.73ZM653.74 564.28L655.14 565.68L653.74 567.08L652.34 565.68ZM556.38 559.61L557.78 561.01L556.38 562.41L554.98 561.01ZM720.55 579.99L721.95 581.39L720.55 582.79L719.15 581.39ZM629.3 589.51L630.7 590.91L629.3 592.31L627.9 590.91ZM577.65 567.54L579.05 568.94L577.65 570.34L576.25 568.94ZM766.24 585L767.64 586.4L766.24 587.8L764.84 586.4ZM682.72 555.95L684.12 557.35L682.72 558.75L681.32 557.35ZM765.08 569.48L766.48 570.88L765.08 572.28L763.68 570.88ZM766.13 572.37L767.53 573.77L766.13 575.17L764.73 573.77ZM520.7 599.18L522.1 600.58L520.7 601.98L519.3 600.58ZM528 569.22L529.4 570.62L528 572.02L526.6 570.62ZM517.48 578.92L518.88 580.32L517.48 581.72L516.08 580.32ZM766.03 587.54L767.43 588.94L766.03 590.34L764.63 588.94ZM588.71 573.28L590.11 574.68L588.71 576.08L587.31 574.68ZM560.69 565.71L562.09 567.11L560.69 568.51L559.29 567.11ZM676.61 565.19L678.01 566.59L676.61 567.99L675.21 566.59ZM766.7 585.26L768.1 586.66L766.7 588.06L765.3 586.66ZM719.72 556.28L721.12 557.68L719.72 559.08L718.32 557.68ZM519.82 586.04L521.22 587.44L519.82 588.84L518.42 587.44ZM590.12 580.18L591.52 581.58L590.12 582.98L588.72 581.58ZM554.6 585.17L556 586.57L554.6 587.97L553.2 586.57ZM767.08 571.73L768.48 573.13L767.08 574.53L765.68 573.13ZM555.79 550.06L557.19 551.46L555.79 552.86L554.39 551.46ZM664.68 560.79L666.08 562.19L664.68 563.59L663.28 562.19ZM599.61 571.37L601.01 572.77L599.61 574.17L598.21 572.77ZM656.44 570.58L657.84 571.98L656.44 573.38L655.04 571.98ZM752.47 583.59L753.87 584.99L752.47 586.39L751.07 584.99ZM556.74 561.5L558.14 562.9L556.74 564.3L555.34 562.9ZM739.39 571.43L740.79 572.83L739.39 574.23L737.99 572.83ZM760.56 577.1L761.96 578.5L760.56 579.9L759.16 578.5ZM590.77 568.41L592.17 569.81L590.77 571.21L589.37 569.81ZM610.76 581.64L612.16 583.04L610.76 584.44L609.36 583.04ZM629.19 575.5L630.59 576.9L629.19 578.3L627.79 576.9ZM643.77 579.26L645.17 580.66L643.77 582.06L642.37 580.66ZM557.85 553.59L559.25 554.99L557.85 556.39L556.45 554.99ZM764.78 575.1L766.18 576.5L764.78 577.9L763.38 576.5ZM589.08 525.46L590.48 526.86L589.08 528.26L587.68 526.86ZM591.02 570.42L592.42 571.82L591.02 573.22L589.62 571.82ZM521.98 542.71L523.38 544.11L521.98 545.51L520.58 544.11ZM675.86 565.61L677.26 567.01L675.86 568.41L674.46 567.01ZM590.47 608.04L591.87 609.44L590.47 610.84L589.07 609.44ZM518.18 577.78L519.58 579.18L518.18 580.58L516.78 579.18ZM768.04 570.57L769.44 571.97L768.04 573.37L766.64 571.97ZM513.31 570.85L514.71 572.25L513.31 573.65L511.91 572.25ZM612.11 563.29L613.51 564.69L612.11 566.09L610.71 564.69ZM674.13 590.62L675.53 592.02L674.13 593.42L672.73 592.02ZM612.72 553.23L614.12 554.63L612.72 556.03L611.32 554.63ZM555.23 572.65L556.63 574.05L555.23 575.45L553.83 574.05ZM722.29 558.79L723.69 560.19L722.29 561.59L720.89 560.19ZM519.09 564.32L520.49 565.72L519.09 567.12L517.69 565.72ZM591.52 585.48L592.92 586.88L591.52 588.28L590.12 586.88ZM589.68 578.45L591.08 579.85L589.68 581.25L588.28 579.85ZM695.82 560.42L697.22 561.82L695.82 563.22L694.42 561.82ZM567.82 570.54L569.22 571.94L567.82 573.34L566.42 571.94ZM634.02 565.59L635.42 566.99L634.02 568.39L632.62 566.99ZM704.06 565.45L705.46 566.85L704.06 568.25L702.66 566.85ZM762.73 552.49L764.13 553.89L762.73 555.29L761.33 553.89ZM719.99 570.23L721.39 571.63L719.99 573.03L718.59 571.63ZM626.34 562.33L627.74 563.73L626.34 565.13L624.94 563.73ZM521.09 562.81L522.49 564.21L521.09 565.61L519.69 564.21ZM555.83 525.58L557.23 526.98L555.83 528.38L554.43 526.98ZM722.58 547.78L723.98 549.18L722.58 550.58L721.18 549.18ZM692.3 555.27L693.7 556.67L692.3 558.07L690.9 556.67ZM652.23 563.13L653.63 564.53L652.23 565.93L650.83 564.53ZM675.28 586.34L676.68 587.74L675.28 589.14L673.88 587.74ZM674.97 586.65L676.37 588.05L674.97 589.45L673.57 588.05ZM720.82 574.7L722.22 576.1L720.82 577.5L719.42 576.1ZM590.92 580.55L592.32 581.95L590.92 583.35L589.52 581.95ZM675.02 534.76L676.42 536.16L675.02 537.56L673.62 536.16ZM723.46 551.08L724.86 552.48L723.46 553.88L722.06 552.48ZM516.37 554.7L517.77 556.1L516.37 557.5L514.97 556.1ZM558.39 560.49L559.79 561.89L558.39 563.29L556.99 561.89ZM500.43 580.64L501.83 582.04L500.43 583.44L499.03 582.04ZM653.73 566.97L655.13 568.37L653.73 569.77L652.33 568.37ZM579.42 560.86L580.82 562.26L579.42 563.66L578.02 562.26ZM693 584.94L694.4 586.34L693 587.74L691.6 586.34ZM629.03 556.87L630.43 558.27L629.03 559.67L627.63 558.27ZM721.31 567.17L722.71 568.57L721.31 569.97L719.91 568.57ZM767.47 579.15L768.87 580.55L767.47 581.95L766.07 580.55ZM741.08 574.01L742.48 575.41L741.08 576.81L739.68 575.41ZM690.46 568.94L691.86 570.34L690.46 571.74L689.06 570.34ZM629.76 561.24L631.16 562.64L629.76 564.04L628.36 562.64ZM519.93 595.74L521.33 597.14L519.93 598.54L518.53 597.14ZM723.56 587.33L724.96 588.73L723.56 590.13L722.16 588.73ZM675.47 580.17L676.87 581.57L675.47 582.97L674.07 581.57ZM722.98 594.08L724.38 595.48L722.98 596.88L721.58 595.48ZM743.64 553.85L745.04 555.25L743.64 556.65L742.24 555.25ZM554.73 572.16L556.13 573.56L554.73 574.96L553.33 573.56ZM518.03 580.87L519.43 582.27L518.03 583.67L516.63 582.27ZM699.83 574.31L701.23 575.71L699.83 577.11L698.43 575.71ZM766.67 557.9L768.07 559.3L766.67 560.7L765.27 559.3ZM522.85 562.98L524.25 564.38L522.85 565.78L521.45 564.38ZM517.1 595.51L518.5 596.91L517.1 598.31L515.7 596.91ZM589.88 550.27L591.28 551.67L589.88 553.07L588.48 551.67ZM766.59 570.73L767.99 572.13L766.59 573.53L765.19 572.13ZM591.02 565.44L592.42 566.84L591.02 568.24L589.62 566.84ZM628.14 560.75L629.54 562.15L628.14 563.55L626.74 562.15ZM519.8 615.95L521.2 617.35L519.8 618.75L518.4 617.35ZM519.67 571.6L521.07 573L519.67 574.4L518.27 573ZM556.71 568.66L558.11 570.06L556.71 571.46L555.31 570.06ZM523.28 583.68L524.68 585.08L523.28 586.48L521.88 585.08ZM591.99 584.98L593.39 586.38L591.99 587.78L590.59 586.38ZM520.45 563.67L521.85 565.07L520.45 566.47L519.05 565.07ZM693.28 572.47L694.68 573.87L693.28 575.27L691.88 573.87ZM628.85 587.44L630.25 588.84L628.85 590.24L627.45 588.84ZM667.19 567.32L668.59 568.72L667.19 570.12L665.79 568.72ZM521.76 572.89L523.16 574.29L521.76 575.69L520.36 574.29ZM556.21 606.27L557.61 607.67L556.21 609.07L554.81 607.67ZM591 585.75L592.4 587.15L591 588.55L589.6 587.15ZM512.07 551.49L513.47 552.89L512.07 554.29L510.67 552.89ZM677.57 592.63L678.97 594.03L677.57 595.43L676.17 594.03ZM639.59 577.93L640.99 579.33L639.59 580.73L638.19 579.33ZM764.74 568.81L766.14 570.21L764.74 571.61L763.34 570.21ZM619.36 561.97L620.76 563.37L619.36 564.77L617.96 563.37ZM514.93 584.89L516.33 586.29L514.93 587.69L513.53 586.29ZM692.61 573.55L694.01 574.95L692.61 576.35L691.21 574.95ZM628.33 557.02L629.73 558.42L628.33 559.82L626.93 558.42ZM519.45 562.88L520.85 564.28L519.45 565.68L518.05 564.28ZM519.78 546.79L521.18 548.19L519.78 549.59L518.38 548.19ZM627.08 582.06L628.48 583.46L627.08 584.86L625.68 583.46ZM521.26 576.04L522.66 577.44L521.26 578.84L519.86 577.44ZM518.9 550.55L520.3 551.95L518.9 553.35L517.5 551.95ZM690.18 561.85L691.58 563.25L690.18 564.65L688.78 563.25Z" fill="none" stroke="#ffa500" stroke-width="0.7" opacity="0.25"/>
</g>
<clipPath id="c40"><rect x="71.5" y="684.5" width="323" height="103"/></clipPath>
<g clip-path="url(#c40)">
<path d="M94.6 733 L94.6 704" fill="none" stroke="#0000ff" stroke-width="3.2" stroke-linejoin="round" stroke-linecap="round" opacity="1" />
<path d="M95.2 698.38 L96 694.71 L96.8 692.79 L97.6 695.55 L98.4 696.81 L99.2 696.72 L100 697.84 L100.8 698.03 L101.6 698.3 L102.4 697.99 L103.2 697.48 L104 697.33 L104.8 698.13 L105.6 698.02 L106.4 697.78 L107.2 697.04 L108 697.67 L108.8 696.95 L109.6 697.29 L110.4 697.3 L111.2 697.34 L112 696.79 L112.8 697.13 L113.6 696.85 L114.4 696.47 L115.2 696.51 L116 696.96 L116.8 696.82 L117.6 696.85 L118.4 696 L119.2 696.21 L120 696.28 L120.8 696.66 L121.6 696.54 L122.4 695.75 L123.2 696.28 L124 696.28 L124.8 695.91 L125.6 695.9 L126.4 696.16 L127.2 695.7 L128 695.62 L128.8 695.85 L129.6 695.58 L130.4 695.8 L131.2 696.25 L132 695.45 L132.8 695.96 L133.6 696.07 L134.4 696.12 L135.2 695.79 L136 695.76 L136.8 695.29 L137.6 695.82 L138.4 695.88 L139.2 695.18 L140 695.41 L140.8 695.34 L141.6 695.24 L142.4 695.21 L143.2 695.09 L144 695.11 L144.8 694.84 L145.6 695.08 L146.4 695.17 L147.2 695.02 L148 695.08 L148.8 694.48 L149.6 694.14 L150.4 694.55 L151.2 694.33 L152 693.97 L152.8 694.27 L153.6 694.68 L154.4 694.23 L155.2 694.41 L156 693.89 L156.8 694.68 L157.6 694.03 L158.4 694.3 L159.2 694.5 L160 693.95 L160.8 694.07 L161.6 694.18 L162.4 694.05 L163.2 693.9 L164 694.01 L164.8 694.1 L165.6 694.35 L166.4 694.25 L167.2 693.51 L168 694 L168.8 693.94 L169.6 694.05 L170.4 694.03 L171.2 693.66 L172 693.74 L172.8 694.12 L173.6 694.18 L174.4 693.6 L175.2 694.12 L176 694.36 L176.8 693.85 L177.6 694.16 L178.4 694.29 L179.2 693.97 L180 694.38 L180.8 694.49 L181.6 693.8 L182.4 694.06 L183.2 694.42 L184 694.14 L184.8 694.58 L185.6 694.56 L186.4 694.71 L187.2 694.1 L188 694.03 L188.8 694.41 L189.6 694.21 L190.4 694.91 L191.2 694.88 L192 694.32 L192.8 694.41 L193.6 694.52 L194.4 694.61 L195.2 695.02 L196 694.52 L196.8 694.98 L197.6 694.53 L198.4 694.87 L199.2 695.03 L200 695.04 L200.8 694.66 L201.6 694.66 L202.4 694.87 L203.2 694.92 L204 694.92 L204.8 694.7 L205.6 694.91 L206.4 694.1 L207.2 694.59 L208 694.57 L208.8 694.03 L209.6 694.31 L210.4 694.59 L211.2 694.07 L212 694.66 L212.8 694.55 L213.6 694.79 L214.4 694.29 L215.2 693.91 L216 694 L216.8 694.4 L217.6 694.44 L218.4 694.21 L219.2 694.04 L220 694.26 L220.8 694.31 L221.6 694.37 L222.4 694.61 L223.2 694.61 L224 694.7 L224.8 694.68 L225.6 694.92 L226.4 694.82 L227.2 694.47 L228 695.18 L228.8 695.05 L229.6 694.38 L230.4 694.37 L231.2 695.08 L232 694.35 L232.8 694.75 L233.6 694.35 L234.4 695.05 L235.2 694.93 L236 694.58 L236.8 694.68 L237.6 694.86 L238.4 694.79 L239.2 694.84 L240 694.95 L240.8 694.54 L241.6 694.97 L242.4 694.7 L243.2 694.5 L244 694.81 L244.8 695.06 L245.6 694.79 L246.4 694.47 L247.2 694.65 L248 694.59 L248.8 694.56 L249.6 694.7 L250.4 695.32 L251.2 694.68 L252 694.72 L252.8 695.16 L253.6 695.52 L254.4 695.58 L255.2 695.6 L256 695.51 L256.8 695.48 L257.6 695.06 L258.4 695.35 L259.2 695.41 L260 695.38 L260.8 695.04 L261.6 695.19 L262.4 695.17 L263.2 695.87 L264 695.15 L264.8 695.11 L265.6 695.71 L266.4 695.31 L267.2 695.26 L268 695.15 L268.8 695.07 L269.6 695.8 L270.4 695.29 L271.2 695.64 L272 695.31 L272.8 695.86 L273.6 695.25 L274.4 695.12 L275.2 695.6 L276 695.45 L276.8 695.71 L277.6 695.39 L278.4 695.44 L279.2 695.23 L280 695.17 L280.8 695.41 L281.6 695.27 L282.4 695.57 L283.2 695.93 L284 696.08 L284.8 695.8 L285.6 695.93 L286.4 695.56 L287.2 695.8 L288 695.64 L288.8 696.12 L289.6 696.05 L290.4 696.08 L291.2 695.86 L292 696.3 L292.8 695.9 L293.6 696.28 L294.4 695.79 L295.2 696.22 L296 695.72 L296.8 696.08 L297.6 695.68 L298.4 695.92 L299.2 695.74 L300 695.55 L300.8 695.92 L301.6 696.29 L302.4 695.89 L303.2 695.88 L304 696.03 L304.8 695.79 L305.6 695.91 L306.4 695.73 L307.2 695.48 L308 695.43 L308.8 696.08 L309.6 695.57 L310.4 695.66 L311.2 695.9 L312 695.87 L312.8 695.82 L313.6 695.49 L314.4 696.28 L315.2 695.54 L316 695.95 L316.8 695.84 L317.6 696.18 L318.4 696.24 L319.2 696.33 L320 695.87 L320.8 696.34 L321.6 696.59 L322.4 696.58 L323.2 696.54 L324 696.05 L324.8 696.06 L325.6 695.93 L326.4 695.9 L327.2 696.46 L328 696.52 L328.8 695.92 L329.6 695.79 L330.4 695.65 L331.2 696.38 L332 695.9 L332.8 695.92 L333.6 695.7 L334.4 696.19 L335.2 695.76 L336 695.93 L336.8 695.76 L337.6 696.08 L338.4 695.7 L339.2 696.33 L340 695.74 L340.8 695.8 L341.6 695.99 L342.4 696.48 L343.2 696.1 L344 696.15 L344.8 695.87 L345.6 695.83 L346.4 696.28 L347.2 696.02 L348 695.83 L348.8 696.59 L349.6 696.6 L350.4 696.79 L351.2 696.12 L352 696.25 L352.8 696.41 L353.6 696.69 L354.4 696.08 L355.2 696.07 L356 696.44 L356.8 696.12 L357.6 696.7 L358.4 696.58 L359.2 696.33 L360 696.27 L360.8 696.65 L361.6 696.63 L362.4 696.48 L363.2 696 L364 695.82 L364.8 696.35 L365.6 695.73 L366.4 696.52 L367.2 696.27 L368 696.28 L368.8 696.44 L369.6 695.7 L370.4 695.68 L371.2 695.81 L372 696.02 L372.8 696.34 L373.6 696.38 L374.4 695.65 L375.2 696.2 L375.9 695.85 L375.9 704.53 L375.2 705.1 L374.4 704.59 L373.6 704.73 L372.8 705.19 L372 705.12 L371.2 704.88 L370.4 704.97 L369.6 704.94 L368.8 705.15 L368 705.08 L367.2 705.26 L366.4 705.34 L365.6 704.77 L364.8 704.89 L364 705.46 L363.2 705.13 L362.4 705.32 L361.6 705.49 L360.8 705.19 L360 705.44 L359.2 705.25 L358.4 704.88 L357.6 705.53 L356.8 704.81 L356 704.87 L355.2 705.43 L354.4 705.2 L353.6 704.87 L352.8 704.85 L352 704.96 L351.2 704.93 L350.4 705.49 L349.6 705.41 L348.8 705.1 L348 705.49 L347.2 705 L346.4 705.44 L345.6 704.64 L344.8 705 L344 704.6 L343.2 704.75 L342.4 704.63 L341.6 705.21 L340.8 704.5 L340 704.87 L339.2 704.44 L338.4 704.95 L337.6 704.94 L336.8 705.19 L336 704.44 L335.2 704.37 L334.4 705.15 L333.6 704.36 L332.8 704.65 L332 704.48 L331.2 704.48 L330.4 704.52 L329.6 704.49 L328.8 704.67 L328 705.25 L327.2 704.73 L326.4 705.4 L325.6 704.72 L324.8 705.1 L324 705.18 L323.2 705.29 L322.4 704.71 L321.6 705.29 L320.8 704.83 L320 705.26 L319.2 705.07 L318.4 705.14 L317.6 704.37 L316.8 704.53 L316 704.94 L315.2 704.86 L314.4 704.52 L313.6 704.33 L312.8 704.5 L312 704.5 L311.2 704.81 L310.4 704.5 L309.6 704.52 L308.8 704.84 L308 704.55 L307.2 704.34 L306.4 704.37 L305.6 704.57 L304.8 704.33 L304 704.99 L303.2 704.4 L302.4 704.84 L301.6 704.24 L300.8 704.24 L300 705.12 L299.2 704.34 L298.4 704.93 L297.6 704.45 L296.8 704.93 L296 704.76 L295.2 704.55 L294.4 704.86 L293.6 704.9 L292.8 705.24 L292 704.66 L291.2 705.08 L290.4 705.22 L289.6 705.18 L288.8 704.72 L288 704.93 L287.2 704.61 L286.4 704.83 L285.6 704.27 L284.8 704.23 L284 704.44 L283.2 704.59 L282.4 704.45 L281.6 704.5 L280.8 704.72 L280 704.03 L279.2 704.33 L278.4 704.53 L277.6 704.58 L276.8 704.7 L276 704.55 L275.2 704.04 L274.4 704.26 L273.6 703.79 L272.8 704 L272 704.27 L271.2 704.61 L270.4 704.21 L269.6 704.55 L268.8 704.12 L268 704.36 L267.2 703.95 L266.4 704.19 L265.6 704.2 L264.8 704.65 L264 704.41 L263.2 704.5 L262.4 704.55 L261.6 704.73 L260.8 704.43 L260 704.09 L259.2 704.26 L258.4 703.81 L257.6 704.41 L256.8 704.36 L256 704.32 L255.2 704.2 L254.4 704.06 L253.6 704.33 L252.8 703.61 L252 704.13 L251.2 703.56 L250.4 703.52 L249.6 703.29 L248.8 704.02 L248 703.81 L247.2 703.84 L246.4 703.6 L245.6 703.13 L244.8 703.69 L244 703.03 L243.2 703.89 L242.4 703.47 L241.6 703.45 L240.8 703.35 L240 703.25 L239.2 703.4 L238.4 703.06 L237.6 703.42 L236.8 703.87 L236 703.22 L235.2 703.15 L234.4 703.4 L233.6 703.55 L232.8 703.6 L232 703.68 L231.2 703.6 L230.4 703.42 L229.6 703.95 L228.8 703.48 L228 703.6 L227.2 703.32 L226.4 703.09 L225.6 703.15 L224.8 703.14 L224 703.15 L223.2 703.47 L222.4 703.62 L221.6 703.77 L220.8 703.63 L220 703.71 L219.2 703.05 L218.4 702.79 L217.6 703.31 L216.8 702.88 L216 703.35 L215.2 702.84 L214.4 703.39 L213.6 703.15 L212.8 702.77 L212 703.43 L211.2 703.45 L210.4 702.92 L209.6 703.6 L208.8 703.61 L208 703.67 L207.2 703.07 L206.4 703.17 L205.6 703.2 L204.8 702.92 L204 703.58 L203.2 703.15 L202.4 703.58 L201.6 703.06 L200.8 703.09 L200 703.74 L199.2 703.45 L198.4 703.51 L197.6 703.25 L196.8 703.29 L196 703.1 L195.2 703.1 L194.4 703.74 L193.6 703.82 L192.8 703.62 L192 702.95 L191.2 703.34 L190.4 703.52 L189.6 703.08 L188.8 702.85 L188 702.76 L187.2 703.15 L186.4 703.52 L185.6 703.07 L184.8 703.22 L184 702.89 L183.2 703.18 L182.4 703.25 L181.6 702.83 L180.8 702.94 L180 702.98 L179.2 703.12 L178.4 703.26 L177.6 702.95 L176.8 703.17 L176 702.47 L175.2 703.17 L174.4 702.42 L173.6 702.49 L172.8 703.04 L172 702.53 L171.2 703 L170.4 702.74 L169.6 703.1 L168.8 702.3 L168 703.02 L167.2 702.51 L166.4 702.89 L165.6 702.8 L164.8 702.6 L164 702.77 L163.2 703.1 L162.4 702.97 L161.6 702.85 L160.8 702.62 L160 702.95 L159.2 703.21 L158.4 702.75 L157.6 702.69 L156.8 702.93 L156 703.34 L155.2 703.33 L154.4 702.75 L153.6 702.72 L152.8 703.2 L152 702.97 L151.2 702.99 L150.4 703.59 L149.6 703.15 L148.8 703.46 L148 703.43 L147.2 703.53 L146.4 703.23 L145.6 703.64 L144.8 703.76 L144 703.79 L143.2 703.46 L142.4 704.01 L141.6 703.65 L140.8 704 L140 703.76 L139.2 704.32 L138.4 703.97 L137.6 704.77 L136.8 704.86 L136 704.74 L135.2 704.24 L134.4 704.63 L133.6 705.04 L132.8 704.96 L132 704.69 L131.2 705.04 L130.4 704.78 L129.6 704.37 L128.8 705.03 L128 705.06 L127.2 704.42 L126.4 705.04 L125.6 704.92 L124.8 704.48 L124 705.36 L123.2 704.96 L122.4 705.02 L121.6 705.02 L120.8 704.8 L120 704.82 L119.2 705.03 L118.4 705.43 L117.6 704.94 L116.8 705.55 L116 705.68 L115.2 705.03 L114.4 705.81 L113.6 705.66 L112.8 705.47 L112 705.73 L111.2 705.89 L110.4 705.73 L109.6 705.79 L108.8 705.8 L108 706.11 L107.2 706.22 L106.4 706.23 L105.6 706.77 L104.8 706.83 L104 707.01 L103.2 706.47 L102.4 706.31 L101.6 706.38 L100.8 707.2 L100 707.17 L99.2 705.8 L98.4 704.04 L97.6 701.69 L96.8 700.14 L96 701.76 L95.2 705.85Z" fill="#0000ff" opacity="1"/>
<path d="M376 704 L376 730" fill="none" stroke="#7070ff" stroke-width="2.8" stroke-linejoin="round" stroke-linecap="round" opacity="0.28" />
<path d="M85.5 786 L101 786" fill="none" stroke="#0000ff" stroke-width="2.4" stroke-linejoin="round" stroke-linecap="round" opacity="1" stroke-linecap="butt"/>
<path d="M120 786 L123 786" fill="none" stroke="#0000ff" stroke-width="2.4" stroke-linejoin="round" stroke-linecap="round" opacity="1" stroke-linecap="butt"/>
<path d="M179.5 786 L182.5 786" fill="none" stroke="#0000ff" stroke-width="2.4" stroke-linejoin="round" stroke-linecap="round" opacity="1" stroke-linecap="butt"/>
<path d="M239.5 786 L242.5 786" fill="none" stroke="#0000ff" stroke-width="2.4" stroke-linejoin="round" stroke-linecap="round" opacity="1" stroke-linecap="butt"/>
<path d="M298.5 786 L301.5 786" fill="none" stroke="#0000ff" stroke-width="2.4" stroke-linejoin="round" stroke-linecap="round" opacity="1" stroke-linecap="butt"/>
<path d="M358.5 786 L362 786" fill="none" stroke="#0000ff" stroke-width="2.4" stroke-linejoin="round" stroke-linecap="round" opacity="1" stroke-linecap="butt"/>
<path d="M366.5 786 L369.5 786" fill="none" stroke="#0000ff" stroke-width="2.4" stroke-linejoin="round" stroke-linecap="round" opacity="1" stroke-linecap="butt"/>
<path d="M374 786 L382 786" fill="none" stroke="#0000ff" stroke-width="2.4" stroke-linejoin="round" stroke-linecap="round" opacity="1" stroke-linecap="butt"/>
</g>
<clipPath id="c41"><rect x="473.5" y="684.5" width="323" height="103"/></clipPath>
<g clip-path="url(#c41)">
<defs><linearGradient id="gT" x1="0" y1="0" x2="0" y2="1"><stop offset="0" stop-color="#ffa500" stop-opacity="0"/><stop offset="0.5" stop-color="#ffa500" stop-opacity="0.3"/><stop offset="1" stop-color="#ffa500" stop-opacity="0.65"/></linearGradient><linearGradient id="gB" x1="0" y1="0" x2="0" y2="1"><stop offset="0" stop-color="#ffa500" stop-opacity="0.65"/><stop offset="0.5" stop-color="#ffa500" stop-opacity="0.3"/><stop offset="1" stop-color="#ffa500" stop-opacity="0"/></linearGradient></defs>
<rect x="495.6" y="693" width="282.2" height="12.5" fill="url(#gT)"/>
<rect x="495.6" y="762.5" width="282.2" height="13" fill="url(#gB)"/>
<path d="M496.1 704.95 L496.8 704.91 L497.5 704.25 L498.2 704.85 L498.9 704.21 L499.6 704.54 L500.3 704.74 L501 704.81 L501.7 704.58 L502.4 704.85 L503.1 704.85 L503.8 704.97 L504.5 704.54 L505.2 704.43 L505.9 704.36 L506.6 704.36 L507.3 704.52 L508 704.94 L508.7 704.53 L509.4 704.56 L510.1 704.98 L510.8 704.69 L511.5 704.81 L512.2 704.59 L512.9 704.25 L513.6 704.8 L514.3 704.98 L515 704.63 L515.7 704.43 L516.4 704.76 L517.1 704.56 L517.8 704.96 L518.5 704.68 L519.2 704.34 L519.9 704.9 L520.6 704.92 L521.3 704.35 L522 704.54 L522.7 704.78 L523.4 704.68 L524.1 704.99 L524.8 704.95 L525.5 704.42 L526.2 704.8 L526.9 704.82 L527.6 704.55 L528.3 704.23 L529 704.75 L529.7 704.26 L530.4 704.9 L531.1 704.3 L531.8 704.22 L532.5 704.92 L533.2 704.72 L533.9 704.24 L534.6 704.22 L535.3 704.95 L536 704.52 L536.7 704.33 L537.4 704.98 L538.1 704.85 L538.8 704.48 L539.5 704.74 L540.2 704.74 L540.9 704.99 L541.6 704.99 L542.3 704.68 L543 704.58 L543.7 704.67 L544.4 704.21 L545.1 704.72 L545.8 704.83 L546.5 704.85 L547.2 704.73 L547.9 704.4 L548.6 704.28 L549.3 704.24 L550 704.24 L550.7 704.5 L551.4 704.81 L552.1 704.54 L552.8 704.37 L553.5 704.26 L554.2 704.62 L554.9 704.56 L555.6 704.61 L556.3 704.43 L557 704.34 L557.7 704.27 L558.4 704.31 L559.1 704.61 L559.8 705 L560.5 704.28 L561.2 704.84 L561.9 704.32 L562.6 704.68 L563.3 704.24 L564 704.79 L564.7 704.41 L565.4 704.88 L566.1 704.3 L566.8 704.58 L567.5 704.66 L568.2 704.58 L568.9 704.88 L569.6 704.33 L570.3 704.71 L571 704.24 L571.7 704.37 L572.4 704.73 L573.1 704.4 L573.8 704.67 L574.5 704.73 L575.2 704.97 L575.9 704.83 L576.6 704.53 L577.3 704.47 L578 704.93 L578.7 704.26 L579.4 704.26 L580.1 704.43 L580.8 704.32 L581.5 704.71 L582.2 704.34 L582.9 704.79 L583.6 704.53 L584.3 704.81 L585 704.74 L585.7 704.36 L586.4 704.56 L587.1 704.36 L587.8 704.92 L588.5 704.39 L589.2 704.73 L589.9 704.44 L590.6 704.67 L591.3 704.61 L592 704.85 L592.7 704.3 L593.4 704.45 L594.1 704.86 L594.8 704.82 L595.5 704.74 L596.2 704.71 L596.9 704.22 L597.6 704.28 L598.3 704.67 L599 704.34 L599.7 704.46 L600.4 704.91 L601.1 704.49 L601.8 704.52 L602.5 704.4 L603.2 704.56 L603.9 704.94 L604.6 704.44 L605.3 704.71 L606 704.51 L606.7 704.51 L607.4 704.25 L608.1 704.65 L608.8 704.78 L609.5 704.71 L610.2 704.86 L610.9 704.37 L611.6 704.38 L612.3 704.75 L613 704.52 L613.7 704.74 L614.4 704.21 L615.1 704.93 L615.8 704.46 L616.5 704.74 L617.2 704.84 L617.9 704.54 L618.6 704.39 L619.3 704.8 L620 704.36 L620.7 704.39 L621.4 704.66 L622.1 704.85 L622.8 704.65 L623.5 704.66 L624.2 704.32 L624.9 704.53 L625.6 704.92 L626.3 704.89 L627 704.42 L627.7 704.24 L628.4 704.35 L629.1 704.98 L629.8 704.88 L630.5 704.64 L631.2 704.44 L631.9 704.22 L632.6 704.76 L633.3 704.63 L634 704.24 L634.7 704.32 L635.4 704.84 L636.1 704.96 L636.8 704.25 L637.5 704.24 L638.2 705 L638.9 704.29 L639.6 704.92 L640.3 704.51 L641 704.86 L641.7 704.98 L642.4 704.95 L643.1 704.8 L643.8 704.84 L644.5 704.25 L645.2 704.61 L645.9 704.2 L646.6 704.26 L647.3 704.72 L648 704.78 L648.7 704.73 L649.4 704.57 L650.1 704.43 L650.8 704.95 L651.5 704.43 L652.2 704.59 L652.9 704.81 L653.6 704.95 L654.3 704.71 L655 704.88 L655.7 704.55 L656.4 704.77 L657.1 704.62 L657.8 704.99 L658.5 704.91 L659.2 704.64 L659.9 704.73 L660.6 704.71 L661.3 704.46 L662 704.4 L662.7 704.56 L663.4 704.8 L664.1 704.43 L664.8 704.82 L665.5 704.73 L666.2 704.95 L666.9 704.69 L667.6 704.39 L668.3 704.46 L669 704.84 L669.7 704.86 L670.4 704.78 L671.1 704.88 L671.8 704.63 L672.5 704.95 L673.2 704.43 L673.9 704.48 L674.6 704.42 L675.3 704.24 L676 704.61 L676.7 704.9 L677.4 704.22 L678.1 704.48 L678.8 704.47 L679.5 704.88 L680.2 704.58 L680.9 704.92 L681.6 704.39 L682.3 704.55 L683 704.27 L683.7 704.93 L684.4 704.29 L685.1 704.64 L685.8 704.89 L686.5 704.24 L687.2 704.8 L687.9 704.78 L688.6 704.86 L689.3 704.23 L690 704.62 L690.7 704.61 L691.4 704.61 L692.1 704.51 L692.8 704.37 L693.5 704.68 L694.2 704.56 L694.9 704.73 L695.6 704.82 L696.3 704.36 L697 704.37 L697.7 704.89 L698.4 704.37 L699.1 704.65 L699.8 704.88 L700.5 704.91 L701.2 704.79 L701.9 704.67 L702.6 704.21 L703.3 704.44 L704 704.42 L704.7 704.96 L705.4 704.82 L706.1 704.49 L706.8 704.74 L707.5 704.42 L708.2 704.97 L708.9 704.31 L709.6 704.54 L710.3 704.44 L711 704.75 L711.7 704.76 L712.4 704.45 L713.1 704.99 L713.8 704.87 L714.5 704.49 L715.2 704.69 L715.9 704.38 L716.6 704.4 L717.3 704.68 L718 704.51 L718.7 704.62 L719.4 704.73 L720.1 704.82 L720.8 704.92 L721.5 704.88 L722.2 704.25 L722.9 704.79 L723.6 704.49 L724.3 704.35 L725 704.77 L725.7 704.84 L726.4 704.3 L727.1 704.75 L727.8 704.94 L728.5 704.45 L729.2 704.25 L729.9 704.88 L730.6 704.82 L731.3 704.89 L732 704.27 L732.7 704.74 L733.4 704.74 L734.1 704.89 L734.8 704.78 L735.5 704.46 L736.2 704.67 L736.9 704.43 L737.6 704.57 L738.3 704.75 L739 704.69 L739.7 704.49 L740.4 704.98 L741.1 704.61 L741.8 704.51 L742.5 704.6 L743.2 704.87 L743.9 704.53 L744.6 704.42 L745.3 704.21 L746 704.91 L746.7 704.63 L747.4 704.83 L748.1 704.74 L748.8 704.77 L749.5 704.69 L750.2 704.5 L750.9 704.62 L751.6 704.94 L752.3 704.96 L753 704.53 L753.7 704.87 L754.4 704.68 L755.1 704.71 L755.8 704.7 L756.5 704.6 L757.2 704.33 L757.9 704.53 L758.6 704.58 L759.3 704.2 L760 704.46 L760.7 704.98 L761.4 704.65 L762.1 704.61 L762.8 704.89 L763.5 704.81 L764.2 704.63 L764.9 704.43 L765.6 704.45 L766.3 704.94 L767 704.44 L767.7 704.25 L768.4 704.62 L769.1 704.88 L769.8 704.98 L770.5 704.77 L771.2 704.27 L771.9 704.88 L772.6 704.2 L773.3 704.97 L774 704.31 L774.7 704.41 L775.4 704.76 L776.1 704.91 L776.8 704.76 L777.4 704.22 L777.4 763.33 L776.8 763.5 L776.1 763.72 L775.4 763.07 L774.7 763.69 L774 763.25 L773.3 763.65 L772.6 763.56 L771.9 763.42 L771.2 763.22 L770.5 763.74 L769.8 763.12 L769.1 763.76 L768.4 763.52 L767.7 763.03 L767 763.24 L766.3 763.78 L765.6 763.04 L764.9 763.48 L764.2 763.28 L763.5 763.45 L762.8 763.74 L762.1 763.73 L761.4 763.02 L760.7 763.69 L760 763.62 L759.3 763.17 L758.6 763.31 L757.9 763.25 L757.2 763.67 L756.5 763.24 L755.8 763.32 L755.1 763.64 L754.4 763.14 L753.7 763.32 L753 763.68 L752.3 763.73 L751.6 763.36 L750.9 763.09 L750.2 763.44 L749.5 763.77 L748.8 763.08 L748.1 763.23 L747.4 763.26 L746.7 763.09 L746 763.62 L745.3 763.29 L744.6 763.04 L743.9 763.11 L743.2 763.55 L742.5 763.24 L741.8 763.5 L741.1 763.48 L740.4 763.4 L739.7 763.74 L739 763.11 L738.3 763.61 L737.6 763.23 L736.9 763.6 L736.2 763.41 L735.5 763.07 L734.8 763.18 L734.1 763.53 L733.4 763.17 L732.7 763.14 L732 763.75 L731.3 763.41 L730.6 763.2 L729.9 763.08 L729.2 763.04 L728.5 763.11 L727.8 763.39 L727.1 763.03 L726.4 763.68 L725.7 763.26 L725 763.09 L724.3 763.44 L723.6 763.48 L722.9 763.79 L722.2 763.77 L721.5 763.54 L720.8 763.67 L720.1 763.11 L719.4 763.76 L718.7 763.74 L718 763.5 L717.3 763.79 L716.6 763.41 L715.9 763.09 L715.2 763.65 L714.5 763.8 L713.8 763.76 L713.1 763.68 L712.4 763 L711.7 763.66 L711 763.29 L710.3 763.6 L709.6 763.69 L708.9 763.41 L708.2 763.27 L707.5 763.25 L706.8 763.78 L706.1 763.69 L705.4 763.08 L704.7 763.6 L704 763.31 L703.3 763.55 L702.6 763.74 L701.9 763.06 L701.2 763.47 L700.5 763.57 L699.8 763.17 L699.1 763.09 L698.4 763.48 L697.7 763.1 L697 763.07 L696.3 763.65 L695.6 763.15 L694.9 763.18 L694.2 763.68 L693.5 763.54 L692.8 763.04 L692.1 763.36 L691.4 763.53 L690.7 763.08 L690 763.74 L689.3 763.7 L688.6 763.07 L687.9 763.69 L687.2 763.16 L686.5 763.49 L685.8 763.08 L685.1 763.79 L684.4 763.36 L683.7 763.6 L683 763.76 L682.3 763.77 L681.6 763.48 L680.9 763.06 L680.2 763.7 L679.5 763.76 L678.8 763.73 L678.1 763.7 L677.4 763.2 L676.7 763.76 L676 763.78 L675.3 763.59 L674.6 763.23 L673.9 763.4 L673.2 763.71 L672.5 763.4 L671.8 763.78 L671.1 763.32 L670.4 763.51 L669.7 763.15 L669 763.46 L668.3 763.42 L667.6 763.56 L666.9 763.61 L666.2 763.42 L665.5 763.62 L664.8 763.39 L664.1 763.5 L663.4 763.58 L662.7 763.58 L662 763.74 L661.3 763.22 L660.6 763.76 L659.9 763.68 L659.2 763.77 L658.5 763.74 L657.8 763.45 L657.1 763.39 L656.4 763.67 L655.7 763.51 L655 763.19 L654.3 763.51 L653.6 763.5 L652.9 763.19 L652.2 763.48 L651.5 763.09 L650.8 763.18 L650.1 763.52 L649.4 763.58 L648.7 763.73 L648 763.07 L647.3 763.72 L646.6 763.7 L645.9 763.27 L645.2 763.28 L644.5 763.43 L643.8 763.45 L643.1 763.71 L642.4 763.63 L641.7 763.74 L641 763.79 L640.3 763.75 L639.6 763.4 L638.9 763.25 L638.2 763.36 L637.5 763.78 L636.8 763.75 L636.1 763.03 L635.4 763.7 L634.7 763.7 L634 763.75 L633.3 763.57 L632.6 763.32 L631.9 763.08 L631.2 763.12 L630.5 763.22 L629.8 763.27 L629.1 763.26 L628.4 763.68 L627.7 763.08 L627 763.4 L626.3 763.34 L625.6 763.23 L624.9 763.43 L624.2 763.63 L623.5 763.25 L622.8 763.06 L622.1 763.05 L621.4 763.36 L620.7 763.55 L620 763.69 L619.3 763.25 L618.6 763.24 L617.9 763.64 L617.2 763.09 L616.5 763.16 L615.8 763.17 L615.1 763.38 L614.4 763.68 L613.7 763.63 L613 763.8 L612.3 763.13 L611.6 763.66 L610.9 763.14 L610.2 763.33 L609.5 763.19 L608.8 763.28 L608.1 763.46 L607.4 763.34 L606.7 763.42 L606 763.34 L605.3 763.54 L604.6 763.61 L603.9 763.33 L603.2 763.56 L602.5 763.06 L601.8 763.47 L601.1 763.16 L600.4 763.51 L599.7 763.15 L599 763.75 L598.3 763.79 L597.6 763.48 L596.9 763.58 L596.2 763.04 L595.5 763.04 L594.8 763.22 L594.1 763.56 L593.4 763.61 L592.7 763.78 L592 763.53 L591.3 763.59 L590.6 763.4 L589.9 763.42 L589.2 763.1 L588.5 763.61 L587.8 763.63 L587.1 763.72 L586.4 763.65 L585.7 763.11 L585 763.75 L584.3 763.44 L583.6 763.41 L582.9 763.63 L582.2 763.06 L581.5 763.15 L580.8 763.53 L580.1 763.16 L579.4 763.12 L578.7 763.74 L578 763.23 L577.3 763.65 L576.6 763.2 L575.9 763.75 L575.2 763.36 L574.5 763.31 L573.8 763.39 L573.1 763.53 L572.4 763.61 L571.7 763.18 L571 763.06 L570.3 763.02 L569.6 763.25 L568.9 763.18 L568.2 763.08 L567.5 763.6 L566.8 763.47 L566.1 763.68 L565.4 763.67 L564.7 763.16 L564 763.48 L563.3 763.26 L562.6 763.52 L561.9 763.61 L561.2 763.49 L560.5 763.03 L559.8 763.19 L559.1 763.69 L558.4 763.58 L557.7 763.19 L557 763.39 L556.3 763.34 L555.6 763.64 L554.9 763.63 L554.2 763.78 L553.5 763.37 L552.8 763.49 L552.1 763.69 L551.4 763.12 L550.7 763.44 L550 763.16 L549.3 763.49 L548.6 763.36 L547.9 763.04 L547.2 763.32 L546.5 763.29 L545.8 763.17 L545.1 763.64 L544.4 763.74 L543.7 763.41 L543 763.23 L542.3 763.6 L541.6 763.46 L540.9 763.71 L540.2 763.69 L539.5 763.76 L538.8 763.09 L538.1 763.6 L537.4 763.56 L536.7 763 L536 763.66 L535.3 763.54 L534.6 763.17 L533.9 763.47 L533.2 763.38 L532.5 763.72 L531.8 763.54 L531.1 763.46 L530.4 763.25 L529.7 763.34 L529 763.13 L528.3 763.6 L527.6 763.55 L526.9 763.45 L526.2 763.12 L525.5 763.64 L524.8 763.27 L524.1 763.64 L523.4 763.01 L522.7 763.63 L522 763.57 L521.3 763.23 L520.6 763.37 L519.9 763.03 L519.2 763.12 L518.5 763.62 L517.8 763.25 L517.1 763.27 L516.4 763.14 L515.7 763.77 L515 763.58 L514.3 763.77 L513.6 763.11 L512.9 763.66 L512.2 763.3 L511.5 763.29 L510.8 763.67 L510.1 763.58 L509.4 763.21 L508.7 763.08 L508 763.18 L507.3 763.67 L506.6 763.12 L505.9 763.65 L505.2 763.38 L504.5 763.47 L503.8 763.57 L503.1 763.16 L502.4 763.63 L501.7 763.31 L501 763.65 L500.3 763.18 L499.6 763.47 L498.9 763.24 L498.2 763.56 L497.5 763.07 L496.8 763.23 L496.1 763.25Z" fill="#ffa500" opacity="1"/>
<path d="M487 758.6 L496.5 758.6" fill="none" stroke="#ffa500" stroke-width="3" stroke-linejoin="round" stroke-linecap="round" opacity="1" stroke-linecap="butt"/>
<path d="M777 758.6 L782.8 758.6" fill="none" stroke="#ffa500" stroke-width="3" stroke-linejoin="round" stroke-linecap="round" opacity="1" stroke-linecap="butt"/>
<path d="M663.1 772.16L664.4 773.46L663.1 774.76L661.8 773.46ZM655.92 684.92L657.22 686.22L655.92 687.52L654.62 686.22ZM755.13 689.54L756.43 690.84L755.13 692.14L753.83 690.84ZM676.74 775.76L678.04 777.06L676.74 778.36L675.44 777.06ZM732.25 694.62L733.55 695.92L732.25 697.22L730.95 695.92ZM772.94 688.59L774.24 689.89L772.94 691.19L771.64 689.89ZM654.72 779.82L656.02 781.12L654.72 782.42L653.42 781.12ZM551.18 694.53L552.48 695.83L551.18 697.13L549.88 695.83ZM535.29 773.63L536.59 774.93L535.29 776.23L533.99 774.93ZM628.95 689.38L630.25 690.68L628.95 691.98L627.65 690.68ZM638.32 692.49L639.62 693.79L638.32 695.09L637.02 693.79ZM542.8 772.45L544.1 773.75L542.8 775.05L541.5 773.75ZM648.88 772.92L650.18 774.22L648.88 775.52L647.58 774.22ZM758.95 689.18L760.25 690.48L758.95 691.78L757.65 690.48ZM551.89 690.3L553.19 691.6L551.89 692.9L550.59 691.6ZM670.15 686.69L671.45 687.99L670.15 689.29L668.85 687.99ZM723.61 778.06L724.91 779.36L723.61 780.66L722.31 779.36ZM643.6 682.42L644.9 683.72L643.6 685.02L642.3 683.72ZM670.08 779.46L671.38 780.76L670.08 782.06L668.78 780.76ZM622.88 772.37L624.18 773.67L622.88 774.97L621.58 773.67ZM709.46 693.27L710.76 694.57L709.46 695.87L708.16 694.57ZM568.89 682.95L570.19 684.25L568.89 685.55L567.59 684.25ZM734.22 688.23L735.52 689.53L734.22 690.83L732.92 689.53ZM661.79 777.21L663.09 778.51L661.79 779.81L660.49 778.51ZM748.68 772.26L749.98 773.56L748.68 774.86L747.38 773.56ZM610.28 688.37L611.58 689.67L610.28 690.97L608.98 689.67ZM499.78 774.01L501.08 775.31L499.78 776.61L498.48 775.31ZM715.82 774.67L717.12 775.97L715.82 777.27L714.52 775.97ZM719.4 694.59L720.7 695.89L719.4 697.19L718.1 695.89ZM599.34 692.53L600.64 693.83L599.34 695.13L598.04 693.83ZM741.16 774.04L742.46 775.34L741.16 776.64L739.86 775.34ZM612.84 689.79L614.14 691.09L612.84 692.39L611.54 691.09ZM705.56 691.15L706.86 692.45L705.56 693.75L704.26 692.45ZM722.7 782.45L724 783.75L722.7 785.05L721.4 783.75ZM685.42 773.35L686.72 774.65L685.42 775.95L684.12 774.65ZM568.85 775.12L570.15 776.42L568.85 777.72L567.55 776.42ZM532.86 692.54L534.16 693.84L532.86 695.14L531.56 693.84ZM775.78 772.44L777.08 773.74L775.78 775.04L774.48 773.74ZM607.2 692.85L608.5 694.15L607.2 695.45L605.9 694.15ZM629.07 774.83L630.37 776.13L629.07 777.43L627.77 776.13ZM534.08 774.46L535.38 775.76L534.08 777.06L532.78 775.76ZM740.89 688.49L742.19 689.79L740.89 691.09L739.59 689.79ZM608 772.34L609.3 773.64L608 774.94L606.7 773.64ZM713.28 773.01L714.58 774.31L713.28 775.61L711.98 774.31ZM523.84 688.93L525.14 690.23L523.84 691.53L522.54 690.23ZM610.36 775.16L611.66 776.46L610.36 777.76L609.06 776.46ZM620.41 692.39L621.71 693.69L620.41 694.99L619.11 693.69ZM763.11 692.5L764.41 693.8L763.11 695.1L761.81 693.8ZM724.77 691.75L726.07 693.05L724.77 694.35L723.47 693.05ZM560.1 691.65L561.4 692.95L560.1 694.25L558.8 692.95ZM499.22 781.73L500.52 783.03L499.22 784.33L497.92 783.03ZM627.33 691.59L628.63 692.89L627.33 694.19L626.03 692.89ZM576.06 691.07L577.36 692.37L576.06 693.67L574.76 692.37ZM709.67 694.06L710.97 695.36L709.67 696.66L708.37 695.36ZM511.71 690.91L513.01 692.21L511.71 693.51L510.41 692.21ZM734.59 693.37L735.89 694.67L734.59 695.97L733.29 694.67ZM547.38 693.4L548.68 694.7L547.38 696L546.08 694.7ZM522.69 773.79L523.99 775.09L522.69 776.39L521.39 775.09ZM724.28 692.23L725.58 693.53L724.28 694.83L722.98 693.53ZM584.56 778.89L585.86 780.19L584.56 781.49L583.26 780.19ZM605.43 691.28L606.73 692.58L605.43 693.88L604.13 692.58ZM752.63 775.58L753.93 776.88L752.63 778.18L751.33 776.88ZM638.57 774.41L639.87 775.71L638.57 777.01L637.27 775.71ZM629.51 774.2L630.81 775.5L629.51 776.8L628.21 775.5ZM571.62 779.48L572.92 780.78L571.62 782.08L570.32 780.78ZM612.28 775.33L613.58 776.63L612.28 777.93L610.98 776.63ZM684.26 689.69L685.56 690.99L684.26 692.29L682.96 690.99ZM760.39 772.46L761.69 773.76L760.39 775.06L759.09 773.76ZM743.76 692.54L745.06 693.84L743.76 695.14L742.46 693.84ZM582.1 689.8L583.4 691.1L582.1 692.4L580.8 691.1ZM740.77 777.02L742.07 778.32L740.77 779.62L739.47 778.32ZM641.58 781.39L642.88 782.69L641.58 783.99L640.28 782.69ZM544.12 691.21L545.42 692.51L544.12 693.81L542.82 692.51ZM499.59 684.19L500.89 685.49L499.59 686.79L498.29 685.49ZM575.07 776.07L576.37 777.37L575.07 778.67L573.77 777.37ZM524.42 774.84L525.72 776.14L524.42 777.44L523.12 776.14ZM648.09 690.27L649.39 691.57L648.09 692.87L646.79 691.57ZM630.82 773.68L632.12 774.98L630.82 776.28L629.52 774.98ZM618.03 689.18L619.33 690.48L618.03 691.78L616.73 690.48ZM728.54 689.18L729.84 690.48L728.54 691.78L727.24 690.48ZM613.23 774.77L614.53 776.07L613.23 777.37L611.93 776.07ZM593.15 773.32L594.45 774.62L593.15 775.92L591.85 774.62ZM561.95 778.6L563.25 779.9L561.95 781.2L560.65 779.9ZM590.07 772.69L591.37 773.99L590.07 775.29L588.77 773.99ZM685.38 776.13L686.68 777.43L685.38 778.73L684.08 777.43ZM571.78 690.61L573.08 691.91L571.78 693.21L570.48 691.91ZM655.25 691.27L656.55 692.57L655.25 693.87L653.95 692.57ZM727.62 688.36L728.92 689.66L727.62 690.96L726.32 689.66ZM521.49 690.31L522.79 691.61L521.49 692.91L520.19 691.61ZM581.4 777.8L582.7 779.1L581.4 780.4L580.1 779.1ZM599.71 683.74L601.01 685.04L599.71 686.34L598.41 685.04ZM732 693.06L733.3 694.36L732 695.66L730.7 694.36ZM750.53 776.4L751.83 777.7L750.53 779L749.23 777.7ZM508.83 777.75L510.13 779.05L508.83 780.35L507.53 779.05ZM615.04 775.91L616.34 777.21L615.04 778.51L613.74 777.21ZM617.54 774.52L618.84 775.82L617.54 777.12L616.24 775.82ZM611.39 772.24L612.69 773.54L611.39 774.84L610.09 773.54ZM627.63 693.55L628.93 694.85L627.63 696.15L626.33 694.85ZM697.37 772.78L698.67 774.08L697.37 775.38L696.07 774.08ZM586.42 688.27L587.72 689.57L586.42 690.87L585.12 689.57ZM704.98 775.22L706.28 776.52L704.98 777.82L703.68 776.52ZM522.3 773.93L523.6 775.23L522.3 776.53L521 775.23ZM561.4 778.22L562.7 779.52L561.4 780.82L560.1 779.52ZM573.38 694.4L574.68 695.7L573.38 697L572.08 695.7ZM683.36 773.55L684.66 774.85L683.36 776.15L682.06 774.85ZM526.09 772.68L527.39 773.98L526.09 775.28L524.79 773.98ZM635.34 691.53L636.64 692.83L635.34 694.13L634.04 692.83ZM730.44 772.29L731.74 773.59L730.44 774.89L729.14 773.59ZM611.85 773.92L613.15 775.22L611.85 776.52L610.55 775.22ZM688 690.32L689.3 691.62L688 692.92L686.7 691.62Z" fill="none" stroke="#ffa500" stroke-width="0.7" opacity="0.3"/>
</g>
<path d="M71.5 35.5H394.5V138.5H71.5ZM91.5 138.5V143.36M120.5 138.5V143.36M150.5 138.5V143.36M180.5 138.5V143.36M210.5 138.5V143.36M240.5 138.5V143.36M270.5 138.5V143.36M300.5 138.5V143.36M330.5 138.5V143.36M359.5 138.5V143.36M389.5 138.5V143.36M71.5 97.5H66.64M71.5 45.5H66.64M473.5 35.5H796.5V138.5H473.5ZM493.5 138.5V143.36M522.5 138.5V143.36M552.5 138.5V143.36M582.5 138.5V143.36M612.5 138.5V143.36M642.5 138.5V143.36M672.5 138.5V143.36M702.5 138.5V143.36M732.5 138.5V143.36M761.5 138.5V143.36M791.5 138.5V143.36M473.5 108.5H468.64M473.5 72.5H468.64M473.5 35.5H468.64M71.5 197.5H394.5V300.5H71.5ZM91.5 300.5V305.36M120.5 300.5V305.36M150.5 300.5V305.36M180.5 300.5V305.36M210.5 300.5V305.36M240.5 300.5V305.36M270.5 300.5V305.36M300.5 300.5V305.36M330.5 300.5V305.36M359.5 300.5V305.36M389.5 300.5V305.36M71.5 268.5H66.64M71.5 228.5H66.64M473.5 197.5H796.5V300.5H473.5ZM493.5 300.5V305.36M522.5 300.5V305.36M552.5 300.5V305.36M582.5 300.5V305.36M612.5 300.5V305.36M642.5 300.5V305.36M672.5 300.5V305.36M702.5 300.5V305.36M732.5 300.5V305.36M761.5 300.5V305.36M791.5 300.5V305.36M473.5 283.5H468.64M473.5 242.5H468.64M473.5 201.5H468.64M71.5 359.5H394.5V462.5H71.5ZM91.5 462.5V467.36M120.5 462.5V467.36M150.5 462.5V467.36M180.5 462.5V467.36M210.5 462.5V467.36M240.5 462.5V467.36M270.5 462.5V467.36M300.5 462.5V467.36M330.5 462.5V467.36M359.5 462.5V467.36M389.5 462.5V467.36M71.5 434.5H66.64M71.5 399.5H66.64M71.5 364.5H66.64M473.5 359.5H796.5V462.5H473.5ZM493.5 462.5V467.36M522.5 462.5V467.36M552.5 462.5V467.36M582.5 462.5V467.36M612.5 462.5V467.36M642.5 462.5V467.36M672.5 462.5V467.36M702.5 462.5V467.36M732.5 462.5V467.36M761.5 462.5V467.36M791.5 462.5V467.36M473.5 427.5H468.64M473.5 387.5H468.64M71.5 522.5H394.5V625.5H71.5ZM91.5 625.5V630.36M120.5 625.5V630.36M150.5 625.5V630.36M180.5 625.5V630.36M210.5 625.5V630.36M240.5 625.5V630.36M270.5 625.5V630.36M300.5 625.5V630.36M330.5 625.5V630.36M359.5 625.5V630.36M389.5 625.5V630.36M71.5 588.5H66.64M71.5 550.5H66.64M473.5 522.5H796.5V625.5H473.5ZM493.5 625.5V630.36M522.5 625.5V630.36M552.5 625.5V630.36M582.5 625.5V630.36M612.5 625.5V630.36M642.5 625.5V630.36M672.5 625.5V630.36M702.5 625.5V630.36M732.5 625.5V630.36M761.5 625.5V630.36M791.5 625.5V630.36M473.5 612.5H468.64M473.5 571.5H468.64M473.5 530.5H468.64M71.5 684.5H394.5V787.5H71.5ZM91.5 787.5V792.36M120.5 787.5V792.36M150.5 787.5V792.36M180.5 787.5V792.36M210.5 787.5V792.36M240.5 787.5V792.36M270.5 787.5V792.36M300.5 787.5V792.36M330.5 787.5V792.36M359.5 787.5V792.36M389.5 787.5V792.36M71.5 787.5H66.64M71.5 720.5H66.64M473.5 684.5H796.5V787.5H473.5ZM493.5 787.5V792.36M522.5 787.5V792.36M552.5 787.5V792.36M582.5 787.5V792.36M612.5 787.5V792.36M642.5 787.5V792.36M672.5 787.5V792.36M702.5 787.5V792.36M732.5 787.5V792.36M761.5 787.5V792.36M791.5 787.5V792.36M473.5 758.5H468.64M473.5 717.5H468.64M71.5 846.5H394.5V949.5H71.5ZM71.5 949.5V954.36M136.5 949.5V954.36M200.5 949.5V954.36M265.5 949.5V954.36M329.5 949.5V954.36M394.5 949.5V954.36M71.5 949.5H66.64M71.5 897.5H66.64M71.5 846.5H66.64M473.5 846.5H796.5V949.5H473.5ZM473.5 949.5V954.36M538.5 949.5V954.36M602.5 949.5V954.36M667.5 949.5V954.36M731.5 949.5V954.36M796.5 949.5V954.36M473.5 949.5H468.64M473.5 897.5H468.64M473.5 846.5H468.64M71.5 1008.5H394.5V1111.5H71.5ZM71.5 1111.5V1116.36M136.5 1111.5V1116.36M200.5 1111.5V1116.36M265.5 1111.5V1116.36M329.5 1111.5V1116.36M394.5 1111.5V1116.36M71.5 1111.5H66.64M71.5 1060.5H66.64M71.5 1008.5H66.64M473.5 1008.5H796.5V1111.5H473.5ZM473.5 1111.5V1116.36M538.5 1111.5V1116.36M602.5 1111.5V1116.36M667.5 1111.5V1116.36M731.5 1111.5V1116.36M796.5 1111.5V1116.36M473.5 1111.5H468.64M473.5 1060.5H468.64M473.5 1008.5H468.64" fill="none" stroke="#000" stroke-width="1.11" stroke-linecap="square" stroke-linejoin="miter"/>
<text x="67.12" y="27.32" font-size="17.5" textLength="331.75" lengthAdjust="spacingAndGlyphs">NoRP 1GHz Stokes-I on 2026-02-12[JST]</text>
<text transform="translate(24.55 122.61) rotate(-90)" x="0" y="0" font-size="14.58" textLength="71.12" lengthAdjust="spacingAndGlyphs">Flux [SFU]</text>
<text x="71.24" y="159.17" font-size="14.58" textLength="39.62" lengthAdjust="spacingAndGlyphs">22:00</text>
<text x="101.12" y="159.17" font-size="14.58" textLength="39.62" lengthAdjust="spacingAndGlyphs">23:00</text>
<text x="131" y="159.17" font-size="14.58" textLength="39.62" lengthAdjust="spacingAndGlyphs">00:00</text>
<text x="160.82" y="159.17" font-size="14.58" textLength="39.75" lengthAdjust="spacingAndGlyphs">01:00</text>
<text x="190.76" y="159.17" font-size="14.58" textLength="39.62" lengthAdjust="spacingAndGlyphs">02:00</text>
<text x="220.64" y="159.17" font-size="14.58" textLength="39.62" lengthAdjust="spacingAndGlyphs">03:00</text>
<text x="250.52" y="159.17" font-size="14.58" textLength="39.62" lengthAdjust="spacingAndGlyphs">04:00</text>
<text x="280.4" y="159.17" font-size="14.58" textLength="39.62" lengthAdjust="spacingAndGlyphs">05:00</text>
<text x="310.22" y="159.17" font-size="14.58" textLength="39.75" lengthAdjust="spacingAndGlyphs">06:00</text>
<text x="340.16" y="159.17" font-size="14.58" textLength="39.62" lengthAdjust="spacingAndGlyphs">07:00</text>
<text x="369.98" y="159.17" font-size="14.58" textLength="39.75" lengthAdjust="spacingAndGlyphs">08:00</text>
<text x="44.68" y="101.6" font-size="14.58" textLength="16.3" lengthAdjust="spacingAndGlyphs">50</text>
<text x="35.8" y="50.05" font-size="14.58" textLength="25.18" lengthAdjust="spacingAndGlyphs">100</text>
<text x="549.44" y="27.32" font-size="17.5" textLength="171.12" lengthAdjust="spacingAndGlyphs">NoRP 1GHz Stokes-V</text>
<text x="473.24" y="159.17" font-size="14.58" textLength="39.62" lengthAdjust="spacingAndGlyphs">22:00</text>
<text x="503.12" y="159.17" font-size="14.58" textLength="39.62" lengthAdjust="spacingAndGlyphs">23:00</text>
<text x="533" y="159.17" font-size="14.58" textLength="39.62" lengthAdjust="spacingAndGlyphs">00:00</text>
<text x="562.82" y="159.17" font-size="14.58" textLength="39.75" lengthAdjust="spacingAndGlyphs">01:00</text>
<text x="592.76" y="159.17" font-size="14.58" textLength="39.62" lengthAdjust="spacingAndGlyphs">02:00</text>
<text x="622.64" y="159.17" font-size="14.58" textLength="39.62" lengthAdjust="spacingAndGlyphs">03:00</text>
<text x="652.52" y="159.17" font-size="14.58" textLength="39.62" lengthAdjust="spacingAndGlyphs">04:00</text>
<text x="682.4" y="159.17" font-size="14.58" textLength="39.62" lengthAdjust="spacingAndGlyphs">05:00</text>
<text x="712.22" y="159.17" font-size="14.58" textLength="39.75" lengthAdjust="spacingAndGlyphs">06:00</text>
<text x="742.16" y="159.17" font-size="14.58" textLength="39.62" lengthAdjust="spacingAndGlyphs">07:00</text>
<text x="771.97" y="159.17" font-size="14.58" textLength="39.75" lengthAdjust="spacingAndGlyphs">08:00</text>
<text x="430.68" y="113.08" font-size="14.58" textLength="32.3" lengthAdjust="spacingAndGlyphs">−0.5</text>
<text x="442.3" y="76.71" font-size="14.58" textLength="20.68" lengthAdjust="spacingAndGlyphs">0.0</text>
<text x="442.3" y="40.34" font-size="14.58" textLength="20.68" lengthAdjust="spacingAndGlyphs">0.5</text>
<text x="150.19" y="189.49" font-size="17.5" textLength="165.62" lengthAdjust="spacingAndGlyphs">NoRP 2GHz Stokes-I</text>
<text transform="translate(24.55 284.78) rotate(-90)" x="0" y="0" font-size="14.58" textLength="71.12" lengthAdjust="spacingAndGlyphs">Flux [SFU]</text>
<text x="71.24" y="321.34" font-size="14.58" textLength="39.62" lengthAdjust="spacingAndGlyphs">22:00</text>
<text x="101.12" y="321.34" font-size="14.58" textLength="39.62" lengthAdjust="spacingAndGlyphs">23:00</text>
<text x="131" y="321.34" font-size="14.58" textLength="39.62" lengthAdjust="spacingAndGlyphs">00:00</text>
<text x="160.82" y="321.34" font-size="14.58" textLength="39.75" lengthAdjust="spacingAndGlyphs">01:00</text>
<text x="190.76" y="321.34" font-size="14.58" textLength="39.62" lengthAdjust="spacingAndGlyphs">02:00</text>
<text x="220.64" y="321.34" font-size="14.58" textLength="39.62" lengthAdjust="spacingAndGlyphs">03:00</text>
<text x="250.52" y="321.34" font-size="14.58" textLength="39.62" lengthAdjust="spacingAndGlyphs">04:00</text>
<text x="280.4" y="321.34" font-size="14.58" textLength="39.62" lengthAdjust="spacingAndGlyphs">05:00</text>
<text x="310.22" y="321.34" font-size="14.58" textLength="39.75" lengthAdjust="spacingAndGlyphs">06:00</text>
<text x="340.16" y="321.34" font-size="14.58" textLength="39.62" lengthAdjust="spacingAndGlyphs">07:00</text>
<text x="369.98" y="321.34" font-size="14.58" textLength="39.75" lengthAdjust="spacingAndGlyphs">08:00</text>
<text x="44.68" y="273.04" font-size="14.58" textLength="16.3" lengthAdjust="spacingAndGlyphs">50</text>
<text x="35.8" y="233.12" font-size="14.58" textLength="25.18" lengthAdjust="spacingAndGlyphs">100</text>
<text x="549.44" y="189.49" font-size="17.5" textLength="171.12" lengthAdjust="spacingAndGlyphs">NoRP 2GHz Stokes-V</text>
<text x="473.24" y="321.34" font-size="14.58" textLength="39.62" lengthAdjust="spacingAndGlyphs">22:00</text>
<text x="503.12" y="321.34" font-size="14.58" textLength="39.62" lengthAdjust="spacingAndGlyphs">23:00</text>
<text x="533" y="321.34" font-size="14.58" textLength="39.62" lengthAdjust="spacingAndGlyphs">00:00</text>
<text x="562.82" y="321.34" font-size="14.58" textLength="39.75" lengthAdjust="spacingAndGlyphs">01:00</text>
<text x="592.76" y="321.34" font-size="14.58" textLength="39.62" lengthAdjust="spacingAndGlyphs">02:00</text>
<text x="622.64" y="321.34" font-size="14.58" textLength="39.62" lengthAdjust="spacingAndGlyphs">03:00</text>
<text x="652.52" y="321.34" font-size="14.58" textLength="39.62" lengthAdjust="spacingAndGlyphs">04:00</text>
<text x="682.4" y="321.34" font-size="14.58" textLength="39.62" lengthAdjust="spacingAndGlyphs">05:00</text>
<text x="712.22" y="321.34" font-size="14.58" textLength="39.75" lengthAdjust="spacingAndGlyphs">06:00</text>
<text x="742.16" y="321.34" font-size="14.58" textLength="39.62" lengthAdjust="spacingAndGlyphs">07:00</text>
<text x="771.97" y="321.34" font-size="14.58" textLength="39.75" lengthAdjust="spacingAndGlyphs">08:00</text>
<text x="443.8" y="287.89" font-size="14.58" textLength="19.18" lengthAdjust="spacingAndGlyphs">−5</text>
<text x="455.43" y="246.82" font-size="14.58" textLength="7.55" lengthAdjust="spacingAndGlyphs">0</text>
<text x="455.43" y="205.75" font-size="14.58" textLength="7.55" lengthAdjust="spacingAndGlyphs">5</text>
<text x="137.06" y="351.66" font-size="17.5" textLength="191.88" lengthAdjust="spacingAndGlyphs">NoRP 3.75GHz Stokes-I</text>
<text transform="translate(24.55 446.95) rotate(-90)" x="0" y="0" font-size="14.58" textLength="71.12" lengthAdjust="spacingAndGlyphs">Flux [SFU]</text>
<text x="71.24" y="483.51" font-size="14.58" textLength="39.62" lengthAdjust="spacingAndGlyphs">22:00</text>
<text x="101.12" y="483.51" font-size="14.58" textLength="39.62" lengthAdjust="spacingAndGlyphs">23:00</text>
<text x="131" y="483.51" font-size="14.58" textLength="39.62" lengthAdjust="spacingAndGlyphs">00:00</text>
<text x="160.82" y="483.51" font-size="14.58" textLength="39.75" lengthAdjust="spacingAndGlyphs">01:00</text>
<text x="190.76" y="483.51" font-size="14.58" textLength="39.62" lengthAdjust="spacingAndGlyphs">02:00</text>
<text x="220.64" y="483.51" font-size="14.58" textLength="39.62" lengthAdjust="spacingAndGlyphs">03:00</text>
<text x="250.52" y="483.51" font-size="14.58" textLength="39.62" lengthAdjust="spacingAndGlyphs">04:00</text>
<text x="280.4" y="483.51" font-size="14.58" textLength="39.62" lengthAdjust="spacingAndGlyphs">05:00</text>
<text x="310.22" y="483.51" font-size="14.58" textLength="39.75" lengthAdjust="spacingAndGlyphs">06:00</text>
<text x="340.16" y="483.51" font-size="14.58" textLength="39.62" lengthAdjust="spacingAndGlyphs">07:00</text>
<text x="369.98" y="483.51" font-size="14.58" textLength="39.75" lengthAdjust="spacingAndGlyphs">08:00</text>
<text x="44.68" y="438.81" font-size="14.58" textLength="16.3" lengthAdjust="spacingAndGlyphs">50</text>
<text x="35.8" y="403.87" font-size="14.58" textLength="25.18" lengthAdjust="spacingAndGlyphs">100</text>
<text x="35.8" y="368.93" font-size="14.58" textLength="25.18" lengthAdjust="spacingAndGlyphs">150</text>
<text x="536.31" y="351.66" font-size="17.5" textLength="197.38" lengthAdjust="spacingAndGlyphs">NoRP 3.75GHz Stokes-V</text>
<text x="473.24" y="483.51" font-size="14.58" textLength="39.62" lengthAdjust="spacingAndGlyphs">22:00</text>
<text x="503.12" y="483.51" font-size="14.58" textLength="39.62" lengthAdjust="spacingAndGlyphs">23:00</text>
<text x="533" y="483.51" font-size="14.58" textLength="39.62" lengthAdjust="spacingAndGlyphs">00:00</text>
<text x="562.82" y="483.51" font-size="14.58" textLength="39.75" lengthAdjust="spacingAndGlyphs">01:00</text>
<text x="592.76" y="483.51" font-size="14.58" textLength="39.62" lengthAdjust="spacingAndGlyphs">02:00</text>
<text x="622.64" y="483.51" font-size="14.58" textLength="39.62" lengthAdjust="spacingAndGlyphs">03:00</text>
<text x="652.52" y="483.51" font-size="14.58" textLength="39.62" lengthAdjust="spacingAndGlyphs">04:00</text>
<text x="682.4" y="483.51" font-size="14.58" textLength="39.62" lengthAdjust="spacingAndGlyphs">05:00</text>
<text x="712.22" y="483.51" font-size="14.58" textLength="39.75" lengthAdjust="spacingAndGlyphs">06:00</text>
<text x="742.16" y="483.51" font-size="14.58" textLength="39.62" lengthAdjust="spacingAndGlyphs">07:00</text>
<text x="771.97" y="483.51" font-size="14.58" textLength="39.75" lengthAdjust="spacingAndGlyphs">08:00</text>
<text x="434.93" y="432.12" font-size="14.58" textLength="28.05" lengthAdjust="spacingAndGlyphs">−10</text>
<text x="455.43" y="392.04" font-size="14.58" textLength="7.55" lengthAdjust="spacingAndGlyphs">0</text>
<text x="142.38" y="513.83" font-size="17.5" textLength="181.25" lengthAdjust="spacingAndGlyphs">NoRP 9.4GHz Stokes-I</text>
<text transform="translate(24.67 609.12) rotate(-90)" x="0" y="0" font-size="14.58" textLength="71.12" lengthAdjust="spacingAndGlyphs">Flux [SFU]</text>
<text x="71.24" y="645.68" font-size="14.58" textLength="39.62" lengthAdjust="spacingAndGlyphs">22:00</text>
<text x="101.12" y="645.68" font-size="14.58" textLength="39.62" lengthAdjust="spacingAndGlyphs">23:00</text>
<text x="131" y="645.68" font-size="14.58" textLength="39.62" lengthAdjust="spacingAndGlyphs">00:00</text>
<text x="160.82" y="645.68" font-size="14.58" textLength="39.75" lengthAdjust="spacingAndGlyphs">01:00</text>
<text x="190.76" y="645.68" font-size="14.58" textLength="39.62" lengthAdjust="spacingAndGlyphs">02:00</text>
<text x="220.64" y="645.68" font-size="14.58" textLength="39.62" lengthAdjust="spacingAndGlyphs">03:00</text>
<text x="250.52" y="645.68" font-size="14.58" textLength="39.62" lengthAdjust="spacingAndGlyphs">04:00</text>
<text x="280.4" y="645.68" font-size="14.58" textLength="39.62" lengthAdjust="spacingAndGlyphs">05:00</text>
<text x="310.22" y="645.68" font-size="14.58" textLength="39.75" lengthAdjust="spacingAndGlyphs">06:00</text>
<text x="340.16" y="645.68" font-size="14.58" textLength="39.62" lengthAdjust="spacingAndGlyphs">07:00</text>
<text x="369.98" y="645.68" font-size="14.58" textLength="39.75" lengthAdjust="spacingAndGlyphs">08:00</text>
<text x="35.93" y="592.66" font-size="14.58" textLength="25.05" lengthAdjust="spacingAndGlyphs">200</text>
<text x="35.93" y="554.84" font-size="14.58" textLength="25.05" lengthAdjust="spacingAndGlyphs">400</text>
<text x="541.62" y="513.83" font-size="17.5" textLength="186.75" lengthAdjust="spacingAndGlyphs">NoRP 9.4GHz Stokes-V</text>
<text x="473.24" y="645.68" font-size="14.58" textLength="39.62" lengthAdjust="spacingAndGlyphs">22:00</text>
<text x="503.12" y="645.68" font-size="14.58" textLength="39.62" lengthAdjust="spacingAndGlyphs">23:00</text>
<text x="533" y="645.68" font-size="14.58" textLength="39.62" lengthAdjust="spacingAndGlyphs">00:00</text>
<text x="562.82" y="645.68" font-size="14.58" textLength="39.75" lengthAdjust="spacingAndGlyphs">01:00</text>
<text x="592.76" y="645.68" font-size="14.58" textLength="39.62" lengthAdjust="spacingAndGlyphs">02:00</text>
<text x="622.64" y="645.68" font-size="14.58" textLength="39.62" lengthAdjust="spacingAndGlyphs">03:00</text>
<text x="652.52" y="645.68" font-size="14.58" textLength="39.62" lengthAdjust="spacingAndGlyphs">04:00</text>
<text x="682.4" y="645.68" font-size="14.58" textLength="39.62" lengthAdjust="spacingAndGlyphs">05:00</text>
<text x="712.22" y="645.68" font-size="14.58" textLength="39.75" lengthAdjust="spacingAndGlyphs">06:00</text>
<text x="742.16" y="645.68" font-size="14.58" textLength="39.62" lengthAdjust="spacingAndGlyphs">07:00</text>
<text x="771.97" y="645.68" font-size="14.58" textLength="39.75" lengthAdjust="spacingAndGlyphs">08:00</text>
<text x="426.3" y="617.13" font-size="14.58" textLength="36.67" lengthAdjust="spacingAndGlyphs">−200</text>
<text x="455.43" y="576.11" font-size="14.58" textLength="7.55" lengthAdjust="spacingAndGlyphs">0</text>
<text x="437.93" y="535.09" font-size="14.58" textLength="25.05" lengthAdjust="spacingAndGlyphs">200</text>
<text x="144.94" y="676" font-size="17.5" textLength="176.12" lengthAdjust="spacingAndGlyphs">NoRP 17GHz Stokes-I</text>
<text transform="translate(24.67 771.29) rotate(-90)" x="0" y="0" font-size="14.58" textLength="71.12" lengthAdjust="spacingAndGlyphs">Flux [SFU]</text>
<text x="71.24" y="807.85" font-size="14.58" textLength="39.62" lengthAdjust="spacingAndGlyphs">22:00</text>
<text x="101.12" y="807.85" font-size="14.58" textLength="39.62" lengthAdjust="spacingAndGlyphs">23:00</text>
<text x="131" y="807.85" font-size="14.58" textLength="39.62" lengthAdjust="spacingAndGlyphs">00:00</text>
<text x="160.82" y="807.85" font-size="14.58" textLength="39.75" lengthAdjust="spacingAndGlyphs">01:00</text>
<text x="190.76" y="807.85" font-size="14.58" textLength="39.62" lengthAdjust="spacingAndGlyphs">02:00</text>
<text x="220.64" y="807.85" font-size="14.58" textLength="39.62" lengthAdjust="spacingAndGlyphs">03:00</text>
<text x="250.52" y="807.85" font-size="14.58" textLength="39.62" lengthAdjust="spacingAndGlyphs">04:00</text>
<text x="280.4" y="807.85" font-size="14.58" textLength="39.62" lengthAdjust="spacingAndGlyphs">05:00</text>
<text x="310.22" y="807.85" font-size="14.58" textLength="39.75" lengthAdjust="spacingAndGlyphs">06:00</text>
<text x="340.16" y="807.85" font-size="14.58" textLength="39.62" lengthAdjust="spacingAndGlyphs">07:00</text>
<text x="369.98" y="807.85" font-size="14.58" textLength="39.75" lengthAdjust="spacingAndGlyphs">08:00</text>
<text x="53.43" y="791.73" font-size="14.58" textLength="7.55" lengthAdjust="spacingAndGlyphs">0</text>
<text x="35.93" y="724.9" font-size="14.58" textLength="25.05" lengthAdjust="spacingAndGlyphs">500</text>
<text x="544.19" y="676" font-size="17.5" textLength="181.62" lengthAdjust="spacingAndGlyphs">NoRP 17GHz Stokes-V</text>
<text x="473.24" y="807.85" font-size="14.58" textLength="39.62" lengthAdjust="spacingAndGlyphs">22:00</text>
<text x="503.12" y="807.85" font-size="14.58" textLength="39.62" lengthAdjust="spacingAndGlyphs">23:00</text>
<text x="533" y="807.85" font-size="14.58" textLength="39.62" lengthAdjust="spacingAndGlyphs">00:00</text>
<text x="562.82" y="807.85" font-size="14.58" textLength="39.75" lengthAdjust="spacingAndGlyphs">01:00</text>
<text x="592.76" y="807.85" font-size="14.58" textLength="39.62" lengthAdjust="spacingAndGlyphs">02:00</text>
<text x="622.64" y="807.85" font-size="14.58" textLength="39.62" lengthAdjust="spacingAndGlyphs">03:00</text>
<text x="652.52" y="807.85" font-size="14.58" textLength="39.62" lengthAdjust="spacingAndGlyphs">04:00</text>
<text x="682.4" y="807.85" font-size="14.58" textLength="39.62" lengthAdjust="spacingAndGlyphs">05:00</text>
<text x="712.22" y="807.85" font-size="14.58" textLength="39.75" lengthAdjust="spacingAndGlyphs">06:00</text>
<text x="742.16" y="807.85" font-size="14.58" textLength="39.62" lengthAdjust="spacingAndGlyphs">07:00</text>
<text x="771.97" y="807.85" font-size="14.58" textLength="39.75" lengthAdjust="spacingAndGlyphs">08:00</text>
<text x="455.43" y="763.16" font-size="14.58" textLength="7.55" lengthAdjust="spacingAndGlyphs">0</text>
<text x="446.68" y="721.62" font-size="14.58" textLength="16.3" lengthAdjust="spacingAndGlyphs">25</text>
<text x="144.94" y="838.17" font-size="17.5" textLength="176.12" lengthAdjust="spacingAndGlyphs">NoRP 35GHz Stokes-I</text>
<text transform="translate(28.92 933.46) rotate(-90)" x="0" y="0" font-size="14.58" textLength="71.12" lengthAdjust="spacingAndGlyphs">Flux [SFU]</text>
<text x="60.56" y="970.02" font-size="14.58" textLength="21.88" lengthAdjust="spacingAndGlyphs">0.0</text>
<text x="125.16" y="970.02" font-size="14.58" textLength="21.88" lengthAdjust="spacingAndGlyphs">0.2</text>
<text x="189.76" y="970.02" font-size="14.58" textLength="21.88" lengthAdjust="spacingAndGlyphs">0.4</text>
<text x="254.3" y="970.02" font-size="14.58" textLength="22" lengthAdjust="spacingAndGlyphs">0.6</text>
<text x="318.9" y="970.02" font-size="14.58" textLength="22" lengthAdjust="spacingAndGlyphs">0.8</text>
<text x="383.5" y="970.02" font-size="14.58" textLength="22" lengthAdjust="spacingAndGlyphs">1.0</text>
<text x="40.3" y="953.9" font-size="14.58" textLength="20.68" lengthAdjust="spacingAndGlyphs">0.0</text>
<text x="40.3" y="902.4" font-size="14.58" textLength="20.68" lengthAdjust="spacingAndGlyphs">0.5</text>
<text x="40.18" y="850.9" font-size="14.58" textLength="20.8" lengthAdjust="spacingAndGlyphs">1.0</text>
<text x="183.95" y="906.7" font-size="29.17" textLength="110.75" lengthAdjust="spacingAndGlyphs">No Data</text>
<text x="544.19" y="838.17" font-size="17.5" textLength="181.62" lengthAdjust="spacingAndGlyphs">NoRP 35GHz Stokes-V</text>
<text x="462.56" y="970.02" font-size="14.58" textLength="21.88" lengthAdjust="spacingAndGlyphs">0.0</text>
<text x="527.16" y="970.02" font-size="14.58" textLength="21.88" lengthAdjust="spacingAndGlyphs">0.2</text>
<text x="591.76" y="970.02" font-size="14.58" textLength="21.88" lengthAdjust="spacingAndGlyphs">0.4</text>
<text x="656.3" y="970.02" font-size="14.58" textLength="22" lengthAdjust="spacingAndGlyphs">0.6</text>
<text x="720.9" y="970.02" font-size="14.58" textLength="22" lengthAdjust="spacingAndGlyphs">0.8</text>
<text x="785.5" y="970.02" font-size="14.58" textLength="22" lengthAdjust="spacingAndGlyphs">1.0</text>
<text x="442.3" y="953.9" font-size="14.58" textLength="20.68" lengthAdjust="spacingAndGlyphs">0.0</text>
<text x="442.3" y="902.4" font-size="14.58" textLength="20.68" lengthAdjust="spacingAndGlyphs">0.5</text>
<text x="442.18" y="850.9" font-size="14.58" textLength="20.8" lengthAdjust="spacingAndGlyphs">1.0</text>
<text x="585.95" y="906.7" font-size="29.17" textLength="110.75" lengthAdjust="spacingAndGlyphs">No Data</text>
<text x="145" y="1000.34" font-size="17.5" textLength="176" lengthAdjust="spacingAndGlyphs">NoRP 80GHz Stokes-I</text>
<text transform="translate(28.92 1095.63) rotate(-90)" x="0" y="0" font-size="14.58" textLength="71.12" lengthAdjust="spacingAndGlyphs">Flux [SFU]</text>
<text x="201.19" y="1150.85" font-size="14.58" textLength="63.62" lengthAdjust="spacingAndGlyphs">Time[UT]</text>
<text x="60.56" y="1132.19" font-size="14.58" textLength="21.88" lengthAdjust="spacingAndGlyphs">0.0</text>
<text x="125.16" y="1132.19" font-size="14.58" textLength="21.88" lengthAdjust="spacingAndGlyphs">0.2</text>
<text x="189.76" y="1132.19" font-size="14.58" textLength="21.88" lengthAdjust="spacingAndGlyphs">0.4</text>
<text x="254.3" y="1132.19" font-size="14.58" textLength="22" lengthAdjust="spacingAndGlyphs">0.6</text>
<text x="318.9" y="1132.19" font-size="14.58" textLength="22" lengthAdjust="spacingAndGlyphs">0.8</text>
<text x="383.5" y="1132.19" font-size="14.58" textLength="22" lengthAdjust="spacingAndGlyphs">1.0</text>
<text x="40.3" y="1116.07" font-size="14.58" textLength="20.68" lengthAdjust="spacingAndGlyphs">0.0</text>
<text x="40.3" y="1064.57" font-size="14.58" textLength="20.68" lengthAdjust="spacingAndGlyphs">0.5</text>
<text x="40.18" y="1013.07" font-size="14.58" textLength="20.8" lengthAdjust="spacingAndGlyphs">1.0</text>
<text x="183.95" y="1068.87" font-size="29.17" textLength="110.75" lengthAdjust="spacingAndGlyphs">No Data</text>
<text x="544.25" y="1000.34" font-size="17.5" textLength="181.5" lengthAdjust="spacingAndGlyphs">NoRP 80GHz Stokes-V</text>
<text x="603.19" y="1150.85" font-size="14.58" textLength="63.62" lengthAdjust="spacingAndGlyphs">Time[UT]</text>
<text x="462.56" y="1132.19" font-size="14.58" textLength="21.88" lengthAdjust="spacingAndGlyphs">0.0</text>
<text x="527.16" y="1132.19" font-size="14.58" textLength="21.88" lengthAdjust="spacingAndGlyphs">0.2</text>
<text x="591.76" y="1132.19" font-size="14.58" textLength="21.88" lengthAdjust="spacingAndGlyphs">0.4</text>
<text x="656.3" y="1132.19" font-size="14.58" textLength="22" lengthAdjust="spacingAndGlyphs">0.6</text>
<text x="720.9" y="1132.19" font-size="14.58" textLength="22" lengthAdjust="spacingAndGlyphs">0.8</text>
<text x="785.5" y="1132.19" font-size="14.58" textLength="22" lengthAdjust="spacingAndGlyphs">1.0</text>
<text x="442.3" y="1116.07" font-size="14.58" textLength="20.68" lengthAdjust="spacingAndGlyphs">0.0</text>
<text x="442.3" y="1064.57" font-size="14.58" textLength="20.68" lengthAdjust="spacingAndGlyphs">0.5</text>
<text x="442.18" y="1013.07" font-size="14.58" textLength="20.8" lengthAdjust="spacingAndGlyphs">1.0</text>
<text x="585.95" y="1068.87" font-size="29.17" textLength="110.75" lengthAdjust="spacingAndGlyphs">No Data</text>
</svg></body></html>
